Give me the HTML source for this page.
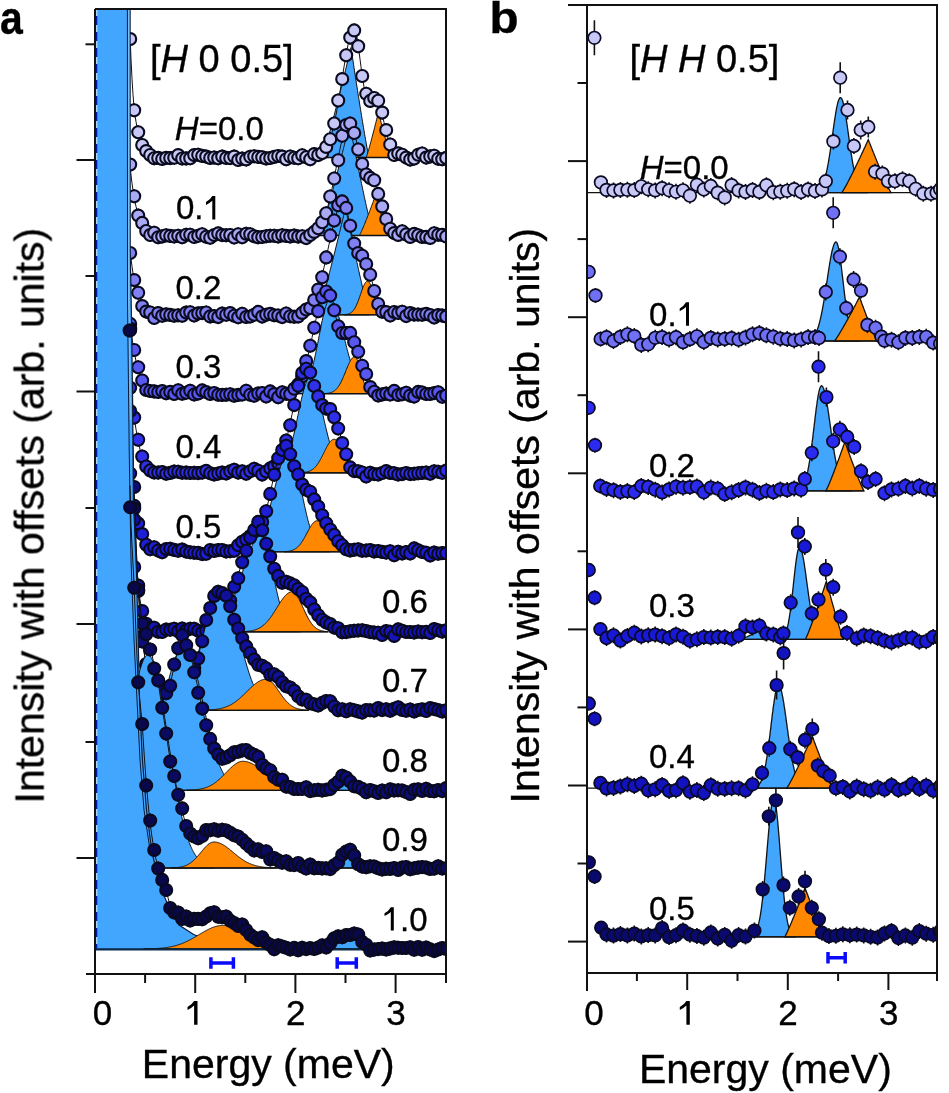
<!DOCTYPE html>
<html><head><meta charset="utf-8"><style>
html,body{margin:0;padding:0;background:#fff;}
body{width:949px;height:1093px;position:relative;overflow:hidden;font-family:"Liberation Sans",sans-serif;color:#000;}
svg{position:absolute;left:0;top:0;}
.t{position:absolute;white-space:nowrap;line-height:1;}
.b{font-weight:bold;}
.rot{transform-origin:0 0;transform:rotate(-90deg);}
</style></head><body>
<svg width="949" height="1093" viewBox="0 0 949 1093">
<defs><clipPath id="ca"><rect x="95" y="9" width="351" height="965"/></clipPath>
<clipPath id="cb"><rect x="587" y="5" width="350" height="968"/></clipPath></defs>
<rect width="949" height="1093" fill="#fff"/>
<g clip-path="url(#ca)">
<path d="M322,157.5 L322,157.5 L322.5,156.2 L323,154.8 L323.5,153.3 L324,151.7 L324.5,150.1 L325,148.4 L325.5,146.8 L326,145.1 L326.5,143.3 L327,141.6 L327.5,139.8 L328,138.1 L328.5,136.3 L329,134.5 L329.5,132.7 L330,130.8 L330.5,129 L331,127.1 L331.5,125.3 L332,123.4 L332.5,121.5 L333,119.6 L333.5,117.7 L334,115.8 L334.5,113.9 L335,112 L335.5,110.1 L336,108.1 L336.5,106.2 L337,104.2 L337.5,102.3 L338,100.3 L338.5,98.3 L339,96.4 L339.5,94.4 L340,92.4 L340.5,90.4 L341,88.4 L341.5,86.4 L342,84.4 L342.5,82.4 L343,80.4 L343.5,78.4 L344,76.3 L344.5,74.3 L345,72.3 L345.5,70.2 L346,68.2 L346.5,66.1 L347,64.1 L347.5,62 L348,60 L348.5,57.9 L349,55.8 L349.5,53.7 L350,51.7 L350.5,49.6 L351,47.5 L351.5,50.9 L352,54.2 L352.5,57.5 L353,60.9 L353.5,64.2 L354,67.5 L354.5,70.8 L355,74.1 L355.5,77.3 L356,80.6 L356.5,83.8 L357,87.1 L357.5,90.3 L358,93.5 L358.5,96.7 L359,99.9 L359.5,103 L360,106.2 L360.5,109.3 L361,112.4 L361.5,115.5 L362,118.6 L362.5,121.6 L363,124.6 L363.5,127.6 L364,130.6 L364.5,133.6 L365,136.5 L365.5,139.3 L366,142.2 L366.5,145 L367,147.7 L367.5,150.4 L368,152.9 L368.5,155.4 L369,157.5 L369,157.5Z" fill="#42a6ff" stroke="#111" stroke-width="1"/>
<path d="M366.2,157.5 L366.2,157.5 L366.7,156.2 L367.2,154.6 L367.7,153 L368.2,151.3 L368.7,149.6 L369.2,147.9 L369.7,146.1 L370.2,144.3 L370.7,142.4 L371.2,140.6 L371.7,138.7 L372.2,136.8 L372.7,134.9 L373.2,133 L373.7,131.1 L374.2,129.2 L374.7,127.2 L375.2,125.2 L375.7,123.3 L376.2,121.3 L376.7,119.3 L377.2,117.3 L377.7,115.2 L378.2,113.2 L378.7,112.8 L379.2,114.8 L379.7,116.8 L380.2,118.8 L380.7,120.8 L381.2,122.8 L381.7,124.7 L382.2,126.7 L382.7,128.6 L383.2,130.6 L383.7,132.5 L384.2,134.4 L384.7,136.3 L385.2,138.1 L385.7,140 L386.2,141.8 L386.7,143.7 L387.2,145.5 L387.7,147.2 L388.2,149 L388.7,150.7 L389.2,152.4 L389.7,154 L390.2,155.6 L390.7,157 L390.9,157.5Z" fill="#ff8800" stroke="#111" stroke-width="1"/>
<path d="M322,157.5H390.9" stroke="#111" stroke-width="1.3"/>
<path d="M130,33.5 L131,58.9 L132,78.8 L133,94.6 L134,107.3 L135,115.4 L136,121.7 L137,127.1 L138,131.7 L139,135.9 L140,139.5 L141,142.5 L142,145.1 L143,147.4 L144,149.4 L145,151 L146,152.3 L147,153.3 L148,154.2 L149,154.9 L150,155.4 L151,155.8 L152,156.1 L153,156.4 L154,156.6 L155,156.7 L156,156.9 L157,157 L158,157.1 L159,157.2 L160,157.2 L161,157.3 L162,157.3 L163,157.3 L164,157.4 L165,157.4 L166,157.4 L167,157.4 L168,157.4 L169,157.5 L170,157.5 L171,157.5 L172,157.5 L173,157.5 L174,157.5 L175,157.5 L176,157.5 L177,157.5 L178,157.5 L179,157.5 L180,157.5 L181,157.5 L182,157.5 L183,157.5 L184,157.5 L185,157.5 L186,157.5 L187,157.5 L188,157.5 L189,157.5 L190,157.5 L191,157.5 L192,157.5 L193,157.5 L194,157.5 L195,157.5 L196,157.5 L197,157.5 L198,157.5 L199,157.5 L200,157.5 L201,157.5 L202,157.5 L203,157.5 L204,157.5 L205,157.5 L206,157.5 L207,157.5 L208,157.5 L209,157.5 L210,157.5 L211,157.5 L212,157.5 L213,157.5 L214,157.5 L215,157.5 L216,157.5 L217,157.5 L218,157.5 L219,157.5 L220,157.5 L221,157.5 L222,157.5 L223,157.5 L224,157.5 L225,157.5 L226,157.5 L227,157.5 L228,157.5 L229,157.5 L230,157.5 L231,157.5 L232,157.5 L233,157.5 L234,157.5 L235,157.5 L236,157.5 L237,157.5 L238,157.5 L239,157.5 L240,157.5 L241,157.5 L242,157.5 L243,157.5 L244,157.5 L245,157.5 L246,157.5 L247,157.5 L248,157.5 L249,157.5 L250,157.5 L251,157.5 L252,157.5 L253,157.5 L254,157.5 L255,157.5 L256,157.5 L257,157.5 L258,157.5 L259,157.5 L260,157.5 L261,157.5 L262,157.5 L263,157.5 L264,157.5 L265,157.5 L266,157.5 L267,157.5 L268,157.5 L269,157.5 L270,157.5 L271,157.5 L272,157.5 L273,157.5 L274,157.5 L275,157.5 L276,157.5 L277,157.5 L278,157.5 L279,157.5 L280,157.5 L281,157.5 L282,157.5 L283,157.5 L284,157.5 L285,157.5 L286,157.5 L287,157.5 L288,157.5 L289,157.5 L290,157.5 L291,157.5 L292,157.5 L293,157.5 L294,157.5 L295,157.5 L296,157.5 L297,157.5 L298,157.5 L299,157.5 L300,157.5 L301,157.5 L302,157.5 L303,157.5 L304,157.5 L305,157.5 L306,157.5 L307,157.4 L308,157.4 L309,157.4 L310,157.3 L311,157.3 L312,157.2 L313,157.1 L314,156.9 L315,156.8 L316,156.6 L317,156.3 L318,155.9 L319,155.5 L320,155 L321,154.3 L322,153.5 L323,152.6 L324,151.4 L325,150.1 L326,148.5 L327,146.6 L328,144.5 L329,142.1 L330,139.3 L331,136.1 L332,132.6 L333,128.7 L334,124.4 L335,119.8 L336,114.8 L337,109.4 L338,103.8 L339,97.9 L340,91.8 L341,85.6 L342,79.3 L343,73.1 L344,66.9 L345,60.9 L346,55.2 L347,49.9 L348,45 L349,40.6 L350,36.7 L351,33.5 L352,31 L353,29.1 L354,28.1 L355,29.3 L356,32.5 L357,37.6 L358,44 L359,51.3 L360,59.1 L361,66.9 L362,74.3 L363,81 L364,86.7 L365,91.4 L366,95 L367,97.5 L368,99.1 L369,99.9 L370,100.2 L371,100 L372,99.6 L373,99.2 L374,98.8 L375,98.7 L376,98.8 L377,99.5 L378,101 L379,103.3 L380,106.2 L381,109.7 L382,113.7 L383,117.9 L384,122.3 L385,126.7 L386,130.9 L387,135 L388,138.7 L389,142 L390,145 L391,147.5 L392,149.7 L393,151.4 L394,152.9 L395,154 L396,155 L397,155.7 L398,156.2 L399,156.6 L400,156.9 L401,157.1 L402,157.2 L403,157.3 L404,157.4 L405,157.4 L406,157.4 L407,157.5 L408,157.5 L409,157.5 L410,157.5 L411,157.5 L412,157.5 L413,157.5 L414,157.5 L415,157.5 L416,157.5 L417,157.5 L418,157.5 L419,157.5 L420,157.5 L421,157.5 L422,157.5 L423,157.5 L424,157.5 L425,157.5 L426,157.5 L427,157.5 L428,157.5 L429,157.5 L430,157.5 L431,157.5 L432,157.5 L433,157.5 L434,157.5 L435,157.5 L436,157.5 L437,157.5 L438,157.5 L439,157.5 L440,157.5 L441,157.5 L442,157.5 L443,157.5 L444,157.5 L445,157.5 L446,157.5" fill="none" stroke="#111" stroke-width="1"/>
<path d="M130.2,32.1v14 M134.2,103.2v14 M138.2,125.2v14 M142.2,138v14 M146.2,144.1v14 M150.2,148v14 M154.2,151.2v14 M158.2,150.9v14 M162.2,151.9v14 M166.2,150.9v14 M170.2,151.1v14 M174.2,150.8v14 M178.2,148.1v14 M182.2,151.5v14 M186.2,151.4v14 M190.2,151.3v14 M194.2,148.1v14 M198.2,147.7v14 M202.2,148.9v14 M206.2,149.6v14 M210.2,150.9v14 M214.2,150.5v14 M218.2,151.3v14 M222.2,149.6v14 M226.2,150.9v14 M230.2,151.1v14 M234.2,149.6v14 M238.2,153v14 M242.2,151.6v14 M246.2,152.4v14 M250.2,149.8v14 M254.2,149.3v14 M258.2,149.9v14 M262.2,150.3v14 M266.2,151.4v14 M270.2,151v14 M274.2,149.9v14 M278.2,149v14 M282.2,149.6v14 M286.2,152.2v14 M290.2,149.5v14 M294.2,150.8v14 M298.2,151.2v14 M302.2,148.3v14 M306.2,150.3v14 M310.2,152.2v14 M314.2,147.1v14 M318.2,148.1v14 M322.2,146.1v14 M326.2,139.9v14 M330.2,132.3v14 M334.2,116.5v14 M338.2,93.5v14 M342.2,72.1v14 M346.2,48.2v14 M350.2,30.6v14 M354.2,23.4v14 M358.2,39.2v14 M362.2,69v14 M366.2,86.7v14 M370.2,93.9v14 M374.2,91v14 M378.2,93.7v14 M382.2,105.6v14 M386.2,123.1v14 M390.2,137.5v14 M394.2,148v14 M398.2,146.4v14 M402.2,147.8v14 M406.2,150.6v14 M410.2,152.6v14 M414.2,151.6v14 M418.2,147.8v14 M422.2,146.5v14 M426.2,150.6v14 M430.2,149.4v14 M434.2,148.7v14 M438.2,151.8v14 M442.2,152.3v14 M446.2,150.9v14" stroke="#0a0a14" stroke-width="1.6"/>
<g fill="rgb(200,200,246)" stroke="#0a0a1e" stroke-width="2.1"><circle cx="130.2" cy="39.1" r="6"/><circle cx="134.2" cy="110.2" r="6"/><circle cx="138.2" cy="132.2" r="6"/><circle cx="142.2" cy="145" r="6"/><circle cx="146.2" cy="151.1" r="6"/><circle cx="150.2" cy="155" r="6"/><circle cx="154.2" cy="158.2" r="6"/><circle cx="158.2" cy="157.9" r="6"/><circle cx="162.2" cy="158.9" r="6"/><circle cx="166.2" cy="157.9" r="6"/><circle cx="170.2" cy="158.1" r="6"/><circle cx="174.2" cy="157.8" r="6"/><circle cx="178.2" cy="155.1" r="6"/><circle cx="182.2" cy="158.5" r="6"/><circle cx="186.2" cy="158.4" r="6"/><circle cx="190.2" cy="158.3" r="6"/><circle cx="194.2" cy="155.1" r="6"/><circle cx="198.2" cy="154.7" r="6"/><circle cx="202.2" cy="155.9" r="6"/><circle cx="206.2" cy="156.6" r="6"/><circle cx="210.2" cy="157.9" r="6"/><circle cx="214.2" cy="157.5" r="6"/><circle cx="218.2" cy="158.3" r="6"/><circle cx="222.2" cy="156.6" r="6"/><circle cx="226.2" cy="157.9" r="6"/><circle cx="230.2" cy="158.1" r="6"/><circle cx="234.2" cy="156.6" r="6"/><circle cx="238.2" cy="160" r="6"/><circle cx="242.2" cy="158.6" r="6"/><circle cx="246.2" cy="159.4" r="6"/><circle cx="250.2" cy="156.8" r="6"/><circle cx="254.2" cy="156.3" r="6"/><circle cx="258.2" cy="156.9" r="6"/><circle cx="262.2" cy="157.3" r="6"/><circle cx="266.2" cy="158.4" r="6"/><circle cx="270.2" cy="158" r="6"/><circle cx="274.2" cy="156.9" r="6"/><circle cx="278.2" cy="156" r="6"/><circle cx="282.2" cy="156.6" r="6"/><circle cx="286.2" cy="159.2" r="6"/><circle cx="290.2" cy="156.5" r="6"/><circle cx="294.2" cy="157.8" r="6"/><circle cx="298.2" cy="158.2" r="6"/><circle cx="302.2" cy="155.3" r="6"/><circle cx="306.2" cy="157.3" r="6"/><circle cx="310.2" cy="159.2" r="6"/><circle cx="314.2" cy="154.1" r="6"/><circle cx="318.2" cy="155.1" r="6"/><circle cx="322.2" cy="153.1" r="6"/><circle cx="326.2" cy="146.9" r="6"/><circle cx="330.2" cy="139.3" r="6"/><circle cx="334.2" cy="123.5" r="6"/><circle cx="338.2" cy="100.5" r="6"/><circle cx="342.2" cy="79.1" r="6"/><circle cx="346.2" cy="55.2" r="6"/><circle cx="350.2" cy="37.6" r="6"/><circle cx="354.2" cy="30.4" r="6"/><circle cx="358.2" cy="46.2" r="6"/><circle cx="362.2" cy="76" r="6"/><circle cx="366.2" cy="93.7" r="6"/><circle cx="370.2" cy="100.9" r="6"/><circle cx="374.2" cy="98" r="6"/><circle cx="378.2" cy="100.7" r="6"/><circle cx="382.2" cy="112.6" r="6"/><circle cx="386.2" cy="130.1" r="6"/><circle cx="390.2" cy="144.5" r="6"/><circle cx="394.2" cy="155" r="6"/><circle cx="398.2" cy="153.4" r="6"/><circle cx="402.2" cy="154.8" r="6"/><circle cx="406.2" cy="157.6" r="6"/><circle cx="410.2" cy="159.6" r="6"/><circle cx="414.2" cy="158.6" r="6"/><circle cx="418.2" cy="154.8" r="6"/><circle cx="422.2" cy="153.5" r="6"/><circle cx="426.2" cy="157.6" r="6"/><circle cx="430.2" cy="156.4" r="6"/><circle cx="434.2" cy="155.7" r="6"/><circle cx="438.2" cy="158.8" r="6"/><circle cx="442.2" cy="159.3" r="6"/><circle cx="446.2" cy="157.9" r="6"/></g>
<path d="M319.5,235.5 L319.5,235.5 L320,234.3 L320.5,232.9 L321,231.4 L321.5,229.8 L322,228.3 L322.5,226.6 L323,225 L323.5,223.3 L324,221.7 L324.5,220 L325,218.2 L325.5,216.5 L326,214.8 L326.5,213 L327,211.2 L327.5,209.4 L328,207.7 L328.5,205.8 L329,204 L329.5,202.2 L330,200.4 L330.5,198.5 L331,196.7 L331.5,194.8 L332,192.9 L332.5,191.1 L333,189.2 L333.5,187.3 L334,185.4 L334.5,183.5 L335,181.6 L335.5,179.7 L336,177.7 L336.5,175.8 L337,173.9 L337.5,171.9 L338,170 L338.5,168 L339,166.1 L339.5,164.1 L340,162.2 L340.5,160.2 L341,158.2 L341.5,156.2 L342,154.2 L342.5,152.3 L343,150.3 L343.5,148.3 L344,146.3 L344.5,144.3 L345,142.3 L345.5,140.2 L346,138.2 L346.5,136.2 L347,134.2 L347.5,132.1 L348,130.1 L348.5,128.1 L349,126 L349.5,124 L350,126.6 L350.5,129.1 L351,131.6 L351.5,134.2 L352,136.7 L352.5,139.2 L353,141.7 L353.5,144.3 L354,146.8 L354.5,149.3 L355,151.8 L355.5,154.2 L356,156.7 L356.5,159.2 L357,161.7 L357.5,164.1 L358,166.6 L358.5,169 L359,171.4 L359.5,173.9 L360,176.3 L360.5,178.7 L361,181.1 L361.5,183.5 L362,185.9 L362.5,188.2 L363,190.6 L363.5,192.9 L364,195.3 L364.5,197.6 L365,199.9 L365.5,202.2 L366,204.5 L366.5,206.7 L367,209 L367.5,211.2 L368,213.4 L368.5,215.6 L369,217.8 L369.5,220 L370,222.1 L370.5,224.2 L371,226.2 L371.5,228.3 L372,230.2 L372.5,232.1 L373,233.9 L373.5,235.5 L373.5,235.5Z" fill="#42a6ff" stroke="#111" stroke-width="1"/>
<path d="M359.4,235.5 L359.4,235.5 L359.9,234.6 L360.4,233.6 L360.9,232.6 L361.4,231.5 L361.9,230.3 L362.4,229.2 L362.9,228 L363.4,226.9 L363.9,225.7 L364.4,224.5 L364.9,223.2 L365.4,222 L365.9,220.8 L366.4,219.5 L366.9,218.2 L367.4,217 L367.9,215.7 L368.4,214.4 L368.9,213.1 L369.4,211.8 L369.9,210.5 L370.4,209.2 L370.9,207.9 L371.4,206.6 L371.9,205.2 L372.4,203.9 L372.9,202.6 L373.4,201.2 L373.9,199.9 L374.4,198.5 L374.9,197.2 L375.4,195.8 L375.9,197.4 L376.4,199 L376.9,200.6 L377.4,202.2 L377.9,203.7 L378.4,205.3 L378.9,206.9 L379.4,208.4 L379.9,210 L380.4,211.5 L380.9,213 L381.4,214.6 L381.9,216.1 L382.4,217.6 L382.9,219.1 L383.4,220.5 L383.9,222 L384.4,223.5 L384.9,224.9 L385.4,226.3 L385.9,227.7 L386.4,229.1 L386.9,230.4 L387.4,231.7 L387.9,233 L388.4,234.2 L388.9,235.3 L389,235.5Z" fill="#ff8800" stroke="#111" stroke-width="1"/>
<path d="M319.5,235.5H389" stroke="#111" stroke-width="1.3"/>
<path d="M130,164 L131,175 L132,183.2 L133,190.3 L134,196.4 L135,201.8 L136,206.4 L137,210.4 L138,213.9 L139,217.4 L140,220.5 L141,223 L142,225.1 L143,227.2 L144,228.9 L145,230.2 L146,231.3 L147,232 L148,232.6 L149,233 L150,233.4 L151,233.8 L152,234.1 L153,234.4 L154,234.6 L155,234.7 L156,234.9 L157,235 L158,235.1 L159,235.2 L160,235.2 L161,235.3 L162,235.3 L163,235.3 L164,235.4 L165,235.4 L166,235.4 L167,235.4 L168,235.4 L169,235.5 L170,235.5 L171,235.5 L172,235.5 L173,235.5 L174,235.5 L175,235.5 L176,235.5 L177,235.5 L178,235.5 L179,235.5 L180,235.5 L181,235.5 L182,235.5 L183,235.5 L184,235.5 L185,235.5 L186,235.5 L187,235.5 L188,235.5 L189,235.5 L190,235.5 L191,235.5 L192,235.5 L193,235.5 L194,235.5 L195,235.5 L196,235.5 L197,235.5 L198,235.5 L199,235.5 L200,235.5 L201,235.5 L202,235.5 L203,235.5 L204,235.5 L205,235.5 L206,235.5 L207,235.5 L208,235.5 L209,235.5 L210,235.5 L211,235.5 L212,235.5 L213,235.5 L214,235.5 L215,235.5 L216,235.5 L217,235.5 L218,235.5 L219,235.5 L220,235.5 L221,235.5 L222,235.5 L223,235.5 L224,235.5 L225,235.5 L226,235.5 L227,235.5 L228,235.5 L229,235.5 L230,235.5 L231,235.5 L232,235.5 L233,235.5 L234,235.5 L235,235.5 L236,235.5 L237,235.5 L238,235.5 L239,235.5 L240,235.5 L241,235.5 L242,235.5 L243,235.5 L244,235.5 L245,235.5 L246,235.5 L247,235.5 L248,235.5 L249,235.5 L250,235.5 L251,235.5 L252,235.5 L253,235.5 L254,235.5 L255,235.5 L256,235.5 L257,235.5 L258,235.5 L259,235.5 L260,235.5 L261,235.5 L262,235.5 L263,235.5 L264,235.5 L265,235.5 L266,235.5 L267,235.5 L268,235.5 L269,235.5 L270,235.5 L271,235.5 L272,235.5 L273,235.5 L274,235.5 L275,235.5 L276,235.5 L277,235.5 L278,235.5 L279,235.5 L280,235.5 L281,235.5 L282,235.5 L283,235.5 L284,235.5 L285,235.5 L286,235.5 L287,235.5 L288,235.5 L289,235.5 L290,235.5 L291,235.5 L292,235.5 L293,235.5 L294,235.5 L295,235.5 L296,235.5 L297,235.5 L298,235.4 L299,235.4 L300,235.4 L301,235.4 L302,235.3 L303,235.3 L304,235.2 L305,235.1 L306,235 L307,234.9 L308,234.7 L309,234.5 L310,234.3 L311,234 L312,233.6 L313,233.1 L314,232.6 L315,231.9 L316,231.1 L317,230.2 L318,229.1 L319,227.8 L320,226.4 L321,224.7 L322,222.8 L323,220.6 L324,218.2 L325,215.5 L326,212.5 L327,209.2 L328,205.7 L329,201.8 L330,197.7 L331,193.3 L332,188.7 L333,183.9 L334,179 L335,173.9 L336,168.7 L337,163.6 L338,158.5 L339,153.6 L340,148.8 L341,144.3 L342,140 L343,136.2 L344,132.8 L345,129.8 L346,127.4 L347,125.5 L348,124.1 L349,123.3 L350,123.2 L351,124.1 L352,125.9 L353,128.4 L354,131.7 L355,135.4 L356,139.5 L357,143.8 L358,148.2 L359,152.5 L360,156.7 L361,160.5 L362,163.9 L363,166.9 L364,169.5 L365,171.6 L366,173.3 L367,174.6 L368,175.6 L369,176.5 L370,177.2 L371,177.9 L372,178.7 L373,179.6 L374,180.7 L375,182.1 L376,184.2 L377,186.7 L378,189.7 L379,193.1 L380,196.9 L381,200.7 L382,204.7 L383,208.6 L384,212.4 L385,215.9 L386,219.2 L387,222.1 L388,224.6 L389,226.8 L390,228.7 L391,230.3 L392,231.5 L393,232.5 L394,233.3 L395,233.9 L396,234.4 L397,234.7 L398,234.9 L399,235.1 L400,235.2 L401,235.3 L402,235.4 L403,235.4 L404,235.5 L405,235.5 L406,235.5 L407,235.5 L408,235.5 L409,235.5 L410,235.5 L411,235.5 L412,235.5 L413,235.5 L414,235.5 L415,235.5 L416,235.5 L417,235.5 L418,235.5 L419,235.5 L420,235.5 L421,235.5 L422,235.5 L423,235.5 L424,235.5 L425,235.5 L426,235.5 L427,235.5 L428,235.5 L429,235.5 L430,235.5 L431,235.5 L432,235.5 L433,235.5 L434,235.5 L435,235.5 L436,235.5 L437,235.5 L438,235.5 L439,235.5 L440,235.5 L441,235.5 L442,235.5 L443,235.5 L444,235.5 L445,235.5 L446,235.5" fill="none" stroke="#111" stroke-width="1"/>
<path d="M130.2,157.6v14 M134.2,189.3v14 M138.2,208.6v14 M142.2,215.9v14 M146.2,224v14 M150.2,228v14 M154.2,225.8v14 M158.2,230.3v14 M162.2,229.4v14 M166.2,228.3v14 M170.2,228.9v14 M174.2,229.5v14 M178.2,228.8v14 M182.2,230.2v14 M186.2,227.7v14 M190.2,227.8v14 M194.2,230v14 M198.2,228.7v14 M202.2,227.2v14 M206.2,229.8v14 M210.2,230.8v14 M214.2,228.1v14 M218.2,226.4v14 M222.2,228.1v14 M226.2,228.2v14 M230.2,228v14 M234.2,230.5v14 M238.2,227.2v14 M242.2,230.2v14 M246.2,226.8v14 M250.2,227.2v14 M254.2,229.3v14 M258.2,230.3v14 M262.2,230v14 M266.2,229.2v14 M270.2,228.8v14 M274.2,228.8v14 M278.2,229.4v14 M282.2,228.3v14 M286.2,228.9v14 M290.2,229.4v14 M294.2,228.6v14 M298.2,229.6v14 M302.2,229.3v14 M306.2,231.1v14 M310.2,228v14 M314.2,224.9v14 M318.2,221.2v14 M322.2,215.3v14 M326.2,206.2v14 M330.2,189.5v14 M334.2,171.5v14 M338.2,153.3v14 M342.2,128.7v14 M346.2,118v14 M350.2,116.5v14 M354.2,126v14 M358.2,142.5v14 M362.2,156.9v14 M366.2,167.5v14 M370.2,170.9v14 M374.2,173.2v14 M378.2,186.9v14 M382.2,199.4v14 M386.2,212v14 M390.2,221.8v14 M394.2,226.1v14 M398.2,227.9v14 M402.2,224.3v14 M406.2,227.4v14 M410.2,229.9v14 M414.2,226.9v14 M418.2,228.2v14 M422.2,229.9v14 M426.2,229.9v14 M430.2,230.9v14 M434.2,226.2v14 M438.2,227.7v14 M442.2,227.9v14 M446.2,229.4v14" stroke="#0a0a14" stroke-width="1.6"/>
<g fill="rgb(170,170,244)" stroke="#0a0a1e" stroke-width="2.1"><circle cx="130.2" cy="164.6" r="6"/><circle cx="134.2" cy="196.3" r="6"/><circle cx="138.2" cy="215.6" r="6"/><circle cx="142.2" cy="222.9" r="6"/><circle cx="146.2" cy="231" r="6"/><circle cx="150.2" cy="235" r="6"/><circle cx="154.2" cy="232.8" r="6"/><circle cx="158.2" cy="237.3" r="6"/><circle cx="162.2" cy="236.4" r="6"/><circle cx="166.2" cy="235.3" r="6"/><circle cx="170.2" cy="235.9" r="6"/><circle cx="174.2" cy="236.5" r="6"/><circle cx="178.2" cy="235.8" r="6"/><circle cx="182.2" cy="237.2" r="6"/><circle cx="186.2" cy="234.7" r="6"/><circle cx="190.2" cy="234.8" r="6"/><circle cx="194.2" cy="237" r="6"/><circle cx="198.2" cy="235.7" r="6"/><circle cx="202.2" cy="234.2" r="6"/><circle cx="206.2" cy="236.8" r="6"/><circle cx="210.2" cy="237.8" r="6"/><circle cx="214.2" cy="235.1" r="6"/><circle cx="218.2" cy="233.4" r="6"/><circle cx="222.2" cy="235.1" r="6"/><circle cx="226.2" cy="235.2" r="6"/><circle cx="230.2" cy="235" r="6"/><circle cx="234.2" cy="237.5" r="6"/><circle cx="238.2" cy="234.2" r="6"/><circle cx="242.2" cy="237.2" r="6"/><circle cx="246.2" cy="233.8" r="6"/><circle cx="250.2" cy="234.2" r="6"/><circle cx="254.2" cy="236.3" r="6"/><circle cx="258.2" cy="237.3" r="6"/><circle cx="262.2" cy="237" r="6"/><circle cx="266.2" cy="236.2" r="6"/><circle cx="270.2" cy="235.8" r="6"/><circle cx="274.2" cy="235.8" r="6"/><circle cx="278.2" cy="236.4" r="6"/><circle cx="282.2" cy="235.3" r="6"/><circle cx="286.2" cy="235.9" r="6"/><circle cx="290.2" cy="236.4" r="6"/><circle cx="294.2" cy="235.6" r="6"/><circle cx="298.2" cy="236.6" r="6"/><circle cx="302.2" cy="236.3" r="6"/><circle cx="306.2" cy="238.1" r="6"/><circle cx="310.2" cy="235" r="6"/><circle cx="314.2" cy="231.9" r="6"/><circle cx="318.2" cy="228.2" r="6"/><circle cx="322.2" cy="222.3" r="6"/><circle cx="326.2" cy="213.2" r="6"/><circle cx="330.2" cy="196.5" r="6"/><circle cx="334.2" cy="178.5" r="6"/><circle cx="338.2" cy="160.3" r="6"/><circle cx="342.2" cy="135.7" r="6"/><circle cx="346.2" cy="125" r="6"/><circle cx="350.2" cy="123.5" r="6"/><circle cx="354.2" cy="133" r="6"/><circle cx="358.2" cy="149.5" r="6"/><circle cx="362.2" cy="163.9" r="6"/><circle cx="366.2" cy="174.5" r="6"/><circle cx="370.2" cy="177.9" r="6"/><circle cx="374.2" cy="180.2" r="6"/><circle cx="378.2" cy="193.9" r="6"/><circle cx="382.2" cy="206.4" r="6"/><circle cx="386.2" cy="219" r="6"/><circle cx="390.2" cy="228.8" r="6"/><circle cx="394.2" cy="233.1" r="6"/><circle cx="398.2" cy="234.9" r="6"/><circle cx="402.2" cy="231.3" r="6"/><circle cx="406.2" cy="234.4" r="6"/><circle cx="410.2" cy="236.9" r="6"/><circle cx="414.2" cy="233.9" r="6"/><circle cx="418.2" cy="235.2" r="6"/><circle cx="422.2" cy="236.9" r="6"/><circle cx="426.2" cy="236.9" r="6"/><circle cx="430.2" cy="237.9" r="6"/><circle cx="434.2" cy="233.2" r="6"/><circle cx="438.2" cy="234.7" r="6"/><circle cx="442.2" cy="234.9" r="6"/><circle cx="446.2" cy="236.4" r="6"/></g>
<path d="M317.5,314.8 L317.5,314.8 L318,313.5 L318.5,312.1 L319,310.5 L319.5,308.9 L320,307.3 L320.5,305.6 L321,303.9 L321.5,302.2 L322,300.5 L322.5,298.7 L323,296.9 L323.5,295.1 L324,293.3 L324.5,291.5 L325,289.7 L325.5,287.8 L326,286 L326.5,284.1 L327,282.2 L327.5,280.3 L328,278.4 L328.5,276.5 L329,274.6 L329.5,272.7 L330,270.7 L330.5,268.8 L331,266.8 L331.5,264.9 L332,262.9 L332.5,260.9 L333,259 L333.5,257 L334,255 L334.5,253 L335,251 L335.5,249 L336,247 L336.5,245 L337,242.9 L337.5,240.9 L338,238.9 L338.5,236.8 L339,234.8 L339.5,232.7 L340,230.7 L340.5,228.6 L341,226.6 L341.5,224.5 L342,222.4 L342.5,220.3 L343,218.3 L343.5,216.2 L344,214.1 L344.5,212 L345,209.9 L345.5,207.8 L346,210.2 L346.5,212.7 L347,215.1 L347.5,217.6 L348,220 L348.5,222.4 L349,224.8 L349.5,227.2 L350,229.6 L350.5,232 L351,234.4 L351.5,236.8 L352,239.2 L352.5,241.6 L353,243.9 L353.5,246.3 L354,248.7 L354.5,251 L355,253.3 L355.5,255.7 L356,258 L356.5,260.3 L357,262.6 L357.5,264.9 L358,267.2 L358.5,269.4 L359,271.7 L359.5,274 L360,276.2 L360.5,278.4 L361,280.6 L361.5,282.8 L362,285 L362.5,287.2 L363,289.4 L363.5,291.5 L364,293.6 L364.5,295.7 L365,297.8 L365.5,299.9 L366,301.9 L366.5,303.9 L367,305.9 L367.5,307.8 L368,309.7 L368.5,311.6 L369,313.3 L369.5,314.8 L369.5,314.8Z" fill="#42a6ff" stroke="#111" stroke-width="1"/>
<path d="M344.4,314.8 L344.4,314.7 L344.9,314.6 L345.4,314.6 L345.9,314.5 L346.4,314.4 L346.9,314.4 L347.4,314.3 L347.9,314.1 L348.4,314 L348.9,313.8 L349.4,313.6 L349.9,313.4 L350.4,313.1 L350.9,312.8 L351.4,312.4 L351.9,312 L352.4,311.5 L352.9,311 L353.4,310.4 L353.9,309.7 L354.4,309 L354.9,308.2 L355.4,307.3 L355.9,306.3 L356.4,305.2 L356.9,304.1 L357.4,302.9 L357.9,301.7 L358.4,300.4 L358.9,299 L359.4,297.6 L359.9,296.2 L360.4,294.7 L360.9,293.3 L361.4,291.8 L361.9,290.4 L362.4,289 L362.9,287.7 L363.4,286.5 L363.9,285.4 L364.4,284.3 L364.9,283.4 L365.4,282.7 L365.9,282.1 L366.4,281.6 L366.9,281.3 L367.4,281.2 L367.9,281.3 L368.4,281.5 L368.9,282 L369.4,282.6 L369.9,283.4 L370.4,284.4 L370.9,285.5 L371.4,286.7 L371.9,288.1 L372.4,289.5 L372.9,291 L373.4,292.5 L373.9,294.1 L374.4,295.7 L374.9,297.2 L375.4,298.7 L375.9,300.2 L376.4,301.6 L376.9,303 L377.4,304.3 L377.9,305.5 L378.4,306.6 L378.9,307.6 L379.4,308.5 L379.9,309.4 L380.4,310.1 L380.9,310.8 L381.4,311.4 L381.9,311.9 L382.4,312.4 L382.9,312.8 L383.4,313.1 L383.9,313.4 L384.4,313.7 L384.9,313.9 L385.4,314 L385.9,314.2 L386.4,314.3 L386.9,314.4 L387.4,314.5 L387.9,314.6 L388.4,314.6 L388.9,314.7 L388.9,314.8Z" fill="#ff8800" stroke="#111" stroke-width="1"/>
<path d="M317.5,314.8H388.9" stroke="#111" stroke-width="1.3"/>
<path d="M130,248.6 L131,258.8 L132,266.4 L133,273.1 L134,278.8 L135,282.9 L136,286.4 L137,289.5 L138,292.3 L139,295.6 L140,298.7 L141,301.3 L142,303.4 L143,305.4 L144,307.1 L145,308.5 L146,309.6 L147,310.6 L148,311.5 L149,312.2 L150,312.7 L151,313.1 L152,313.4 L153,313.7 L154,313.9 L155,314 L156,314.2 L157,314.3 L158,314.4 L159,314.5 L160,314.5 L161,314.6 L162,314.6 L163,314.6 L164,314.7 L165,314.7 L166,314.7 L167,314.7 L168,314.7 L169,314.8 L170,314.8 L171,314.8 L172,314.8 L173,314.8 L174,314.8 L175,314.8 L176,314.8 L177,314.8 L178,314.8 L179,314.8 L180,314.8 L181,314.8 L182,314.8 L183,314.8 L184,314.8 L185,314.8 L186,314.8 L187,314.8 L188,314.8 L189,314.8 L190,314.8 L191,314.8 L192,314.8 L193,314.8 L194,314.8 L195,314.8 L196,314.8 L197,314.8 L198,314.8 L199,314.8 L200,314.8 L201,314.8 L202,314.8 L203,314.8 L204,314.8 L205,314.8 L206,314.8 L207,314.8 L208,314.8 L209,314.8 L210,314.8 L211,314.8 L212,314.8 L213,314.8 L214,314.8 L215,314.8 L216,314.8 L217,314.8 L218,314.8 L219,314.8 L220,314.8 L221,314.8 L222,314.8 L223,314.8 L224,314.8 L225,314.8 L226,314.8 L227,314.8 L228,314.8 L229,314.8 L230,314.8 L231,314.8 L232,314.8 L233,314.8 L234,314.8 L235,314.8 L236,314.8 L237,314.8 L238,314.8 L239,314.8 L240,314.8 L241,314.8 L242,314.8 L243,314.8 L244,314.8 L245,314.8 L246,314.8 L247,314.8 L248,314.8 L249,314.8 L250,314.8 L251,314.8 L252,314.8 L253,314.8 L254,314.8 L255,314.8 L256,314.8 L257,314.8 L258,314.8 L259,314.8 L260,314.8 L261,314.8 L262,314.8 L263,314.8 L264,314.8 L265,314.8 L266,314.8 L267,314.8 L268,314.8 L269,314.8 L270,314.8 L271,314.8 L272,314.8 L273,314.8 L274,314.8 L275,314.8 L276,314.8 L277,314.8 L278,314.8 L279,314.8 L280,314.8 L281,314.8 L282,314.8 L283,314.8 L284,314.8 L285,314.8 L286,314.8 L287,314.8 L288,314.7 L289,314.7 L290,314.7 L291,314.7 L292,314.6 L293,314.6 L294,314.5 L295,314.4 L296,314.3 L297,314.2 L298,314 L299,313.8 L300,313.6 L301,313.3 L302,313 L303,312.6 L304,312.1 L305,311.5 L306,310.8 L307,310.1 L308,309.1 L309,308.1 L310,306.9 L311,305.5 L312,303.9 L313,302.2 L314,300.2 L315,298 L316,295.5 L317,292.9 L318,290 L319,286.8 L320,283.4 L321,279.7 L322,275.9 L323,271.8 L324,267.5 L325,263.1 L326,258.5 L327,253.9 L328,249.2 L329,244.5 L330,239.8 L331,235.2 L332,230.7 L333,226.4 L334,222.2 L335,218.4 L336,214.8 L337,211.6 L338,208.7 L339,206.2 L340,204 L341,202.2 L342,200.7 L343,200.2 L344,201.1 L345,203.2 L346,206.5 L347,210.7 L348,215.4 L349,220.5 L350,225.7 L351,230.7 L352,235.3 L353,239.5 L354,243.1 L355,246 L356,248.4 L357,250.2 L358,251.6 L359,252.7 L360,253.6 L361,254.5 L362,255.3 L363,256.4 L364,257.7 L365,259.4 L366,261.6 L367,264.2 L368,267.1 L369,270.4 L370,273.9 L371,277.6 L372,281.3 L373,285.1 L374,288.7 L375,292.2 L376,295.4 L377,298.4 L378,301.1 L379,303.5 L380,305.6 L381,307.4 L382,308.9 L383,310.1 L384,311.2 L385,312 L386,312.7 L387,313.2 L388,313.6 L389,314 L390,314.2 L391,314.4 L392,314.5 L393,314.6 L394,314.7 L395,314.7 L396,314.7 L397,314.8 L398,314.8 L399,314.8 L400,314.8 L401,314.8 L402,314.8 L403,314.8 L404,314.8 L405,314.8 L406,314.8 L407,314.8 L408,314.8 L409,314.8 L410,314.8 L411,314.8 L412,314.8 L413,314.8 L414,314.8 L415,314.8 L416,314.8 L417,314.8 L418,314.8 L419,314.8 L420,314.8 L421,314.8 L422,314.8 L423,314.8 L424,314.8 L425,314.8 L426,314.8 L427,314.8 L428,314.8 L429,314.8 L430,314.8 L431,314.8 L432,314.8 L433,314.8 L434,314.8 L435,314.8 L436,314.8 L437,314.8 L438,314.8 L439,314.8 L440,314.8 L441,314.8 L442,314.8 L443,314.8 L444,314.8 L445,314.8 L446,314.8" fill="none" stroke="#111" stroke-width="1"/>
<path d="M130.2,246v14 M134.2,273.1v14 M138.2,285.7v14 M142.2,299.1v14 M146.2,304.6v14 M150.2,305.5v14 M154.2,311v14 M158.2,306.1v14 M162.2,308.8v14 M166.2,307.4v14 M170.2,307.9v14 M174.2,308.8v14 M178.2,308.2v14 M182.2,308.8v14 M186.2,305.6v14 M190.2,305.3v14 M194.2,308.5v14 M198.2,306.4v14 M202.2,306.1v14 M206.2,305.5v14 M210.2,309.4v14 M214.2,309.1v14 M218.2,310.1v14 M222.2,306.6v14 M226.2,307.7v14 M230.2,306.1v14 M234.2,308.8v14 M238.2,310.3v14 M242.2,306.7v14 M246.2,310v14 M250.2,309.5v14 M254.2,307.7v14 M258.2,304.9v14 M262.2,309.6v14 M266.2,307.8v14 M270.2,306.9v14 M274.2,308.3v14 M278.2,308.5v14 M282.2,310.1v14 M286.2,306.5v14 M290.2,309.2v14 M294.2,309.8v14 M298.2,309.4v14 M302.2,305.9v14 M306.2,302.6v14 M310.2,301v14 M314.2,293.1v14 M318.2,282.6v14 M322.2,270.2v14 M326.2,250.4v14 M330.2,228.4v14 M334.2,213.5v14 M338.2,198.3v14 M342.2,194.4v14 M346.2,200.9v14 M350.2,218.8v14 M354.2,236.6v14 M358.2,246.1v14 M362.2,248.8v14 M366.2,257.1v14 M370.2,267.8v14 M374.2,284v14 M378.2,297v14 M382.2,304.8v14 M386.2,305.1v14 M390.2,308.5v14 M394.2,305v14 M398.2,305.9v14 M402.2,304.7v14 M406.2,309.1v14 M410.2,306.1v14 M414.2,307.6v14 M418.2,307.5v14 M422.2,307.7v14 M426.2,306.9v14 M430.2,308.1v14 M434.2,310.5v14 M438.2,308.1v14 M442.2,308.6v14 M446.2,309.4v14" stroke="#0a0a14" stroke-width="1.6"/>
<g fill="rgb(128,128,242)" stroke="#0a0a1e" stroke-width="2.1"><circle cx="130.2" cy="253" r="6"/><circle cx="134.2" cy="280.1" r="6"/><circle cx="138.2" cy="292.7" r="6"/><circle cx="142.2" cy="306.1" r="6"/><circle cx="146.2" cy="311.6" r="6"/><circle cx="150.2" cy="312.5" r="6"/><circle cx="154.2" cy="318" r="6"/><circle cx="158.2" cy="313.1" r="6"/><circle cx="162.2" cy="315.8" r="6"/><circle cx="166.2" cy="314.4" r="6"/><circle cx="170.2" cy="314.9" r="6"/><circle cx="174.2" cy="315.8" r="6"/><circle cx="178.2" cy="315.2" r="6"/><circle cx="182.2" cy="315.8" r="6"/><circle cx="186.2" cy="312.6" r="6"/><circle cx="190.2" cy="312.3" r="6"/><circle cx="194.2" cy="315.5" r="6"/><circle cx="198.2" cy="313.4" r="6"/><circle cx="202.2" cy="313.1" r="6"/><circle cx="206.2" cy="312.5" r="6"/><circle cx="210.2" cy="316.4" r="6"/><circle cx="214.2" cy="316.1" r="6"/><circle cx="218.2" cy="317.1" r="6"/><circle cx="222.2" cy="313.6" r="6"/><circle cx="226.2" cy="314.7" r="6"/><circle cx="230.2" cy="313.1" r="6"/><circle cx="234.2" cy="315.8" r="6"/><circle cx="238.2" cy="317.3" r="6"/><circle cx="242.2" cy="313.7" r="6"/><circle cx="246.2" cy="317" r="6"/><circle cx="250.2" cy="316.5" r="6"/><circle cx="254.2" cy="314.7" r="6"/><circle cx="258.2" cy="311.9" r="6"/><circle cx="262.2" cy="316.6" r="6"/><circle cx="266.2" cy="314.8" r="6"/><circle cx="270.2" cy="313.9" r="6"/><circle cx="274.2" cy="315.3" r="6"/><circle cx="278.2" cy="315.5" r="6"/><circle cx="282.2" cy="317.1" r="6"/><circle cx="286.2" cy="313.5" r="6"/><circle cx="290.2" cy="316.2" r="6"/><circle cx="294.2" cy="316.8" r="6"/><circle cx="298.2" cy="316.4" r="6"/><circle cx="302.2" cy="312.9" r="6"/><circle cx="306.2" cy="309.6" r="6"/><circle cx="310.2" cy="308" r="6"/><circle cx="314.2" cy="300.1" r="6"/><circle cx="318.2" cy="289.6" r="6"/><circle cx="322.2" cy="277.2" r="6"/><circle cx="326.2" cy="257.4" r="6"/><circle cx="330.2" cy="235.4" r="6"/><circle cx="334.2" cy="220.5" r="6"/><circle cx="338.2" cy="205.3" r="6"/><circle cx="342.2" cy="201.4" r="6"/><circle cx="346.2" cy="207.9" r="6"/><circle cx="350.2" cy="225.8" r="6"/><circle cx="354.2" cy="243.6" r="6"/><circle cx="358.2" cy="253.1" r="6"/><circle cx="362.2" cy="255.8" r="6"/><circle cx="366.2" cy="264.1" r="6"/><circle cx="370.2" cy="274.8" r="6"/><circle cx="374.2" cy="291" r="6"/><circle cx="378.2" cy="304" r="6"/><circle cx="382.2" cy="311.8" r="6"/><circle cx="386.2" cy="312.1" r="6"/><circle cx="390.2" cy="315.5" r="6"/><circle cx="394.2" cy="312" r="6"/><circle cx="398.2" cy="312.9" r="6"/><circle cx="402.2" cy="311.7" r="6"/><circle cx="406.2" cy="316.1" r="6"/><circle cx="410.2" cy="313.1" r="6"/><circle cx="414.2" cy="314.6" r="6"/><circle cx="418.2" cy="314.5" r="6"/><circle cx="422.2" cy="314.7" r="6"/><circle cx="426.2" cy="313.9" r="6"/><circle cx="430.2" cy="315.1" r="6"/><circle cx="434.2" cy="317.5" r="6"/><circle cx="438.2" cy="315.1" r="6"/><circle cx="442.2" cy="315.6" r="6"/><circle cx="446.2" cy="316.4" r="6"/></g>
<path d="M293.7,393.7 L293.7,393.3 L294.2,393.2 L294.7,393.2 L295.2,393.1 L295.7,393 L296.2,392.9 L296.7,392.7 L297.2,392.6 L297.7,392.4 L298.2,392.3 L298.7,392.1 L299.2,391.8 L299.7,391.6 L300.2,391.3 L300.7,391 L301.2,390.6 L301.7,390.3 L302.2,389.8 L302.7,389.4 L303.2,388.9 L303.7,388.3 L304.2,387.7 L304.7,387 L305.2,386.3 L305.7,385.5 L306.2,384.7 L306.7,383.7 L307.2,382.7 L307.7,381.7 L308.2,380.5 L308.7,379.3 L309.2,378 L309.7,376.6 L310.2,375.1 L310.7,373.5 L311.2,371.9 L311.7,370.1 L312.2,368.3 L312.7,366.4 L313.2,364.4 L313.7,362.3 L314.2,360.2 L314.7,358 L315.2,355.7 L315.7,353.3 L316.2,350.9 L316.7,348.4 L317.2,345.9 L317.7,343.4 L318.2,340.8 L318.7,338.2 L319.2,335.6 L319.7,333.1 L320.2,330.5 L320.7,327.9 L321.2,325.4 L321.7,323 L322.2,320.6 L322.7,318.3 L323.2,316 L323.7,313.9 L324.2,311.9 L324.7,310 L325.2,308.2 L325.7,306.6 L326.2,305.1 L326.7,303.8 L327.2,302.7 L327.7,301.7 L328.2,301 L328.7,300.4 L329.2,299.9 L329.7,299.7 L330.2,299.7 L330.7,299.8 L331.2,300 L331.7,300.4 L332.2,300.9 L332.7,301.4 L333.2,302.1 L333.7,302.9 L334.2,303.8 L334.7,304.9 L335.2,306 L335.7,307.2 L336.2,308.5 L336.7,309.9 L337.2,311.3 L337.7,312.9 L338.2,314.5 L338.7,316.2 L339.2,318 L339.7,319.8 L340.2,321.6 L340.7,323.5 L341.2,325.4 L341.7,327.4 L342.2,329.4 L342.7,331.4 L343.2,333.4 L343.7,335.5 L344.2,337.5 L344.7,339.5 L345.2,341.6 L345.7,343.6 L346.2,345.6 L346.7,347.6 L347.2,349.5 L347.7,351.4 L348.2,353.3 L348.7,355.2 L349.2,357 L349.7,358.8 L350.2,360.5 L350.7,362.2 L351.2,363.8 L351.7,365.4 L352.2,367 L352.7,368.5 L353.2,369.9 L353.7,371.3 L354.2,372.6 L354.7,373.9 L355.2,375.1 L355.7,376.3 L356.2,377.4 L356.7,378.4 L357.2,379.5 L357.7,380.4 L358.2,381.3 L358.7,382.2 L359.2,383 L359.7,383.8 L360.2,384.5 L360.7,385.2 L361.2,385.9 L361.7,386.5 L362.2,387 L362.7,387.6 L363.2,388.1 L363.7,388.5 L364.2,388.9 L364.7,389.3 L365.2,389.7 L365.7,390.1 L366.2,390.4 L366.7,390.7 L367.2,390.9 L367.7,391.2 L368.2,391.4 L368.7,391.6 L369.2,391.8 L369.7,392 L370.2,392.2 L370.7,392.3 L371.2,392.5 L371.7,392.6 L372.2,392.7 L372.7,392.8 L373.2,392.9 L373.7,393 L374.2,393.1 L374.7,393.1 L375.2,393.2 L375.7,393.2 L376.2,393.3 L376.2,393.7Z" fill="#42a6ff" stroke="#111" stroke-width="1"/>
<path d="M325,393.7 L325,393.5 L325.5,393.5 L326,393.5 L326.5,393.4 L327,393.4 L327.5,393.3 L328,393.2 L328.5,393.2 L329,393.1 L329.5,393 L330,392.8 L330.5,392.7 L331,392.5 L331.5,392.4 L332,392.2 L332.5,391.9 L333,391.7 L333.5,391.4 L334,391.1 L334.5,390.7 L335,390.3 L335.5,389.9 L336,389.4 L336.5,388.9 L337,388.4 L337.5,387.7 L338,387.1 L338.5,386.4 L339,385.6 L339.5,384.8 L340,384 L340.5,383 L341,382.1 L341.5,381.1 L342,380 L342.5,378.9 L343,377.8 L343.5,376.6 L344,375.4 L344.5,374.2 L345,373 L345.5,371.8 L346,370.5 L346.5,369.3 L347,368 L347.5,366.8 L348,365.7 L348.5,364.5 L349,363.4 L349.5,362.4 L350,361.4 L350.5,360.5 L351,359.7 L351.5,359 L352,358.3 L352.5,357.8 L353,357.4 L353.5,357 L354,356.8 L354.5,356.7 L355,356.7 L355.5,357 L356,357.6 L356.5,358.3 L357,359.3 L357.5,360.5 L358,361.9 L358.5,363.4 L359,365.1 L359.5,366.8 L360,368.7 L360.5,370.5 L361,372.4 L361.5,374.2 L362,376 L362.5,377.8 L363,379.5 L363.5,381.1 L364,382.6 L364.5,384 L365,385.2 L365.5,386.4 L366,387.4 L366.5,388.4 L367,389.2 L367.5,389.9 L368,390.5 L368.5,391.1 L369,391.5 L369.5,391.9 L370,392.3 L370.5,392.5 L371,392.8 L371.5,393 L372,393.1 L372.5,393.2 L373,393.3 L373.5,393.4 L374,393.5 L374.5,393.5 L374.5,393.7Z" fill="#ff8800" stroke="#111" stroke-width="1"/>
<path d="M293.7,393.7H376.2" stroke="#111" stroke-width="1.3"/>
<path d="M130,320.1 L131,330.5 L132,338.1 L133,344.7 L134,350.6 L135,356.1 L136,361.1 L137,365.3 L138,369 L139,372.8 L140,376.1 L141,378.9 L142,381.3 L143,383.6 L144,385.6 L145,387.2 L146,388.5 L147,389.5 L148,390.4 L149,391.1 L150,391.6 L151,392 L152,392.3 L153,392.6 L154,392.8 L155,392.9 L156,393.1 L157,393.2 L158,393.3 L159,393.4 L160,393.4 L161,393.5 L162,393.5 L163,393.5 L164,393.6 L165,393.6 L166,393.6 L167,393.6 L168,393.6 L169,393.7 L170,393.7 L171,393.7 L172,393.7 L173,393.7 L174,393.7 L175,393.7 L176,393.7 L177,393.7 L178,393.7 L179,393.7 L180,393.7 L181,393.7 L182,393.7 L183,393.7 L184,393.7 L185,393.7 L186,393.7 L187,393.7 L188,393.7 L189,393.7 L190,393.7 L191,393.7 L192,393.7 L193,393.7 L194,393.7 L195,393.7 L196,393.7 L197,393.7 L198,393.7 L199,393.7 L200,393.7 L201,393.7 L202,393.7 L203,393.7 L204,393.7 L205,393.7 L206,393.7 L207,393.7 L208,393.7 L209,393.7 L210,393.7 L211,393.7 L212,393.7 L213,393.7 L214,393.7 L215,393.7 L216,393.7 L217,393.7 L218,393.7 L219,393.7 L220,393.7 L221,393.7 L222,393.7 L223,393.7 L224,393.7 L225,393.7 L226,393.7 L227,393.7 L228,393.7 L229,393.7 L230,393.7 L231,393.7 L232,393.7 L233,393.7 L234,393.7 L235,393.7 L236,393.7 L237,393.7 L238,393.7 L239,393.7 L240,393.7 L241,393.7 L242,393.7 L243,393.7 L244,393.7 L245,393.7 L246,393.7 L247,393.7 L248,393.7 L249,393.7 L250,393.7 L251,393.7 L252,393.7 L253,393.7 L254,393.7 L255,393.7 L256,393.7 L257,393.7 L258,393.7 L259,393.7 L260,393.7 L261,393.7 L262,393.7 L263,393.7 L264,393.7 L265,393.7 L266,393.7 L267,393.7 L268,393.7 L269,393.7 L270,393.7 L271,393.7 L272,393.7 L273,393.7 L274,393.7 L275,393.7 L276,393.6 L277,393.6 L278,393.6 L279,393.6 L280,393.5 L281,393.4 L282,393.4 L283,393.3 L284,393.2 L285,393 L286,392.8 L287,392.6 L288,392.3 L289,392 L290,391.5 L291,391 L292,390.4 L293,389.7 L294,388.9 L295,387.9 L296,386.7 L297,385.4 L298,383.9 L299,382.1 L300,380.2 L301,378 L302,375.5 L303,372.8 L304,369.8 L305,366.6 L306,363.1 L307,359.3 L308,355.4 L309,351.2 L310,346.8 L311,342.3 L312,337.7 L313,333 L314,328.4 L315,323.7 L316,319.2 L317,314.9 L318,310.8 L319,307 L320,303.5 L321,300.4 L322,297.7 L323,295.5 L324,293.8 L325,292.6 L326,291.8 L327,291.8 L328,292.6 L329,294.2 L330,296.5 L331,299.4 L332,302.7 L333,306.4 L334,310.2 L335,314 L336,317.8 L337,321.2 L338,324.4 L339,327.1 L340,329.4 L341,331.2 L342,332.5 L343,333.4 L344,334 L345,334.2 L346,334.2 L347,334.1 L348,334 L349,334 L350,334.2 L351,334.6 L352,335.3 L353,336.4 L354,338.1 L355,340.2 L356,342.8 L357,345.7 L358,349.1 L359,352.6 L360,356.3 L361,360.1 L362,363.9 L363,367.5 L364,371 L365,374.3 L366,377.3 L367,380 L368,382.4 L369,384.5 L370,386.3 L371,387.8 L372,389 L373,390.1 L374,390.9 L375,391.6 L376,392.1 L377,392.5 L378,392.9 L379,393.1 L380,393.3 L381,393.4 L382,393.5 L383,393.6 L384,393.6 L385,393.6 L386,393.7 L387,393.7 L388,393.7 L389,393.7 L390,393.7 L391,393.7 L392,393.7 L393,393.7 L394,393.7 L395,393.7 L396,393.7 L397,393.7 L398,393.7 L399,393.7 L400,393.7 L401,393.7 L402,393.7 L403,393.7 L404,393.7 L405,393.7 L406,393.7 L407,393.7 L408,393.7 L409,393.7 L410,393.7 L411,393.7 L412,393.7 L413,393.7 L414,393.7 L415,393.7 L416,393.7 L417,393.7 L418,393.7 L419,393.7 L420,393.7 L421,393.7 L422,393.7 L423,393.7 L424,393.7 L425,393.7 L426,393.7 L427,393.7 L428,393.7 L429,393.7 L430,393.7 L431,393.7 L432,393.7 L433,393.7 L434,393.7 L435,393.7 L436,393.7 L437,393.7 L438,393.7 L439,393.7 L440,393.7 L441,393.7 L442,393.7 L443,393.7 L444,393.7 L445,393.7 L446,393.7" fill="none" stroke="#111" stroke-width="1"/>
<path d="M130.2,316.9v14 M134.2,343v14 M138.2,360.2v14 M142.2,373.5v14 M146.2,383v14 M150.2,384v14 M154.2,384.4v14 M158.2,385v14 M162.2,384.1v14 M166.2,386.2v14 M170.2,384.9v14 M174.2,387v14 M178.2,383.2v14 M182.2,386.8v14 M186.2,385.8v14 M190.2,383.7v14 M194.2,387.5v14 M198.2,386.4v14 M202.2,383.4v14 M206.2,385.1v14 M210.2,387v14 M214.2,386v14 M218.2,387.8v14 M222.2,387.9v14 M226.2,387.8v14 M230.2,387.3v14 M234.2,388.7v14 M238.2,387.9v14 M242.2,387.5v14 M246.2,383.7v14 M250.2,387.7v14 M254.2,388.7v14 M258.2,386.5v14 M262.2,386v14 M266.2,389.5v14 M270.2,384.4v14 M274.2,387.1v14 M278.2,390.2v14 M282.2,385.3v14 M286.2,386.7v14 M290.2,387.3v14 M294.2,381.8v14 M298.2,377.4v14 M302.2,369.4v14 M306.2,354.1v14 M310.2,338.7v14 M314.2,320.8v14 M318.2,304.3v14 M322.2,290.3v14 M326.2,284.5v14 M330.2,288.5v14 M334.2,303.3v14 M338.2,319.2v14 M342.2,326v14 M346.2,326v14 M350.2,325.9v14 M354.2,335.3v14 M358.2,344.8v14 M362.2,358.8v14 M366.2,367.1v14 M370.2,380.1v14 M374.2,384.8v14 M378.2,388.5v14 M382.2,387.4v14 M386.2,386.6v14 M390.2,387.5v14 M394.2,383.9v14 M398.2,388v14 M402.2,387.3v14 M406.2,385.7v14 M410.2,388.6v14 M414.2,389.6v14 M418.2,384.9v14 M422.2,385.5v14 M426.2,387v14 M430.2,387v14 M434.2,386.1v14 M438.2,385.2v14 M442.2,389.7v14 M446.2,388.5v14" stroke="#0a0a14" stroke-width="1.6"/>
<g fill="rgb(88,88,240)" stroke="#0a0a1e" stroke-width="2.1"><circle cx="130.2" cy="323.9" r="6"/><circle cx="134.2" cy="350" r="6"/><circle cx="138.2" cy="367.2" r="6"/><circle cx="142.2" cy="380.5" r="6"/><circle cx="146.2" cy="390" r="6"/><circle cx="150.2" cy="391" r="6"/><circle cx="154.2" cy="391.4" r="6"/><circle cx="158.2" cy="392" r="6"/><circle cx="162.2" cy="391.1" r="6"/><circle cx="166.2" cy="393.2" r="6"/><circle cx="170.2" cy="391.9" r="6"/><circle cx="174.2" cy="394" r="6"/><circle cx="178.2" cy="390.2" r="6"/><circle cx="182.2" cy="393.8" r="6"/><circle cx="186.2" cy="392.8" r="6"/><circle cx="190.2" cy="390.7" r="6"/><circle cx="194.2" cy="394.5" r="6"/><circle cx="198.2" cy="393.4" r="6"/><circle cx="202.2" cy="390.4" r="6"/><circle cx="206.2" cy="392.1" r="6"/><circle cx="210.2" cy="394" r="6"/><circle cx="214.2" cy="393" r="6"/><circle cx="218.2" cy="394.8" r="6"/><circle cx="222.2" cy="394.9" r="6"/><circle cx="226.2" cy="394.8" r="6"/><circle cx="230.2" cy="394.3" r="6"/><circle cx="234.2" cy="395.7" r="6"/><circle cx="238.2" cy="394.9" r="6"/><circle cx="242.2" cy="394.5" r="6"/><circle cx="246.2" cy="390.7" r="6"/><circle cx="250.2" cy="394.7" r="6"/><circle cx="254.2" cy="395.7" r="6"/><circle cx="258.2" cy="393.5" r="6"/><circle cx="262.2" cy="393" r="6"/><circle cx="266.2" cy="396.5" r="6"/><circle cx="270.2" cy="391.4" r="6"/><circle cx="274.2" cy="394.1" r="6"/><circle cx="278.2" cy="397.2" r="6"/><circle cx="282.2" cy="392.3" r="6"/><circle cx="286.2" cy="393.7" r="6"/><circle cx="290.2" cy="394.3" r="6"/><circle cx="294.2" cy="388.8" r="6"/><circle cx="298.2" cy="384.4" r="6"/><circle cx="302.2" cy="376.4" r="6"/><circle cx="306.2" cy="361.1" r="6"/><circle cx="310.2" cy="345.7" r="6"/><circle cx="314.2" cy="327.8" r="6"/><circle cx="318.2" cy="311.3" r="6"/><circle cx="322.2" cy="297.3" r="6"/><circle cx="326.2" cy="291.5" r="6"/><circle cx="330.2" cy="295.5" r="6"/><circle cx="334.2" cy="310.3" r="6"/><circle cx="338.2" cy="326.2" r="6"/><circle cx="342.2" cy="333" r="6"/><circle cx="346.2" cy="333" r="6"/><circle cx="350.2" cy="332.9" r="6"/><circle cx="354.2" cy="342.3" r="6"/><circle cx="358.2" cy="351.8" r="6"/><circle cx="362.2" cy="365.8" r="6"/><circle cx="366.2" cy="374.1" r="6"/><circle cx="370.2" cy="387.1" r="6"/><circle cx="374.2" cy="391.8" r="6"/><circle cx="378.2" cy="395.5" r="6"/><circle cx="382.2" cy="394.4" r="6"/><circle cx="386.2" cy="393.6" r="6"/><circle cx="390.2" cy="394.5" r="6"/><circle cx="394.2" cy="390.9" r="6"/><circle cx="398.2" cy="395" r="6"/><circle cx="402.2" cy="394.3" r="6"/><circle cx="406.2" cy="392.7" r="6"/><circle cx="410.2" cy="395.6" r="6"/><circle cx="414.2" cy="396.6" r="6"/><circle cx="418.2" cy="391.9" r="6"/><circle cx="422.2" cy="392.5" r="6"/><circle cx="426.2" cy="394" r="6"/><circle cx="430.2" cy="394" r="6"/><circle cx="434.2" cy="393.1" r="6"/><circle cx="438.2" cy="392.2" r="6"/><circle cx="442.2" cy="396.7" r="6"/><circle cx="446.2" cy="395.5" r="6"/></g>
<path d="M270.4,472.8 L270.4,472.4 L270.9,472.3 L271.4,472.3 L271.9,472.2 L272.4,472.1 L272.9,472 L273.4,471.9 L273.9,471.8 L274.4,471.6 L274.9,471.5 L275.4,471.3 L275.9,471.1 L276.4,470.9 L276.9,470.7 L277.4,470.4 L277.9,470.1 L278.4,469.8 L278.9,469.5 L279.4,469.1 L279.9,468.7 L280.4,468.3 L280.9,467.8 L281.4,467.3 L281.9,466.7 L282.4,466.1 L282.9,465.4 L283.4,464.7 L283.9,463.9 L284.4,463 L284.9,462.1 L285.4,461.2 L285.9,460.2 L286.4,459.1 L286.9,457.9 L287.4,456.7 L287.9,455.4 L288.4,454 L288.9,452.6 L289.4,451 L289.9,449.4 L290.4,447.8 L290.9,446 L291.4,444.2 L291.9,442.3 L292.4,440.4 L292.9,438.4 L293.4,436.3 L293.9,434.2 L294.4,432 L294.9,429.8 L295.4,427.5 L295.9,425.2 L296.4,422.8 L296.9,420.4 L297.4,418.1 L297.9,415.7 L298.4,413.3 L298.9,410.9 L299.4,408.5 L299.9,406.1 L300.4,403.8 L300.9,401.5 L301.4,399.3 L301.9,397.2 L302.4,395.1 L302.9,393.1 L303.4,391.1 L303.9,389.3 L304.4,387.6 L304.9,386 L305.4,384.5 L305.9,383.2 L306.4,382 L306.9,380.9 L307.4,380 L307.9,379.2 L308.4,378.6 L308.9,378.2 L309.4,377.9 L309.9,377.8 L310.4,377.8 L310.9,378 L311.4,378.3 L311.9,378.8 L312.4,379.4 L312.9,380.1 L313.4,381 L313.9,382 L314.4,383.1 L314.9,384.3 L315.4,385.7 L315.9,387.1 L316.4,388.6 L316.9,390.3 L317.4,392 L317.9,393.8 L318.4,395.7 L318.9,397.6 L319.4,399.7 L319.9,401.7 L320.4,403.8 L320.9,406 L321.4,408.1 L321.9,410.3 L322.4,412.5 L322.9,414.7 L323.4,417 L323.9,419.2 L324.4,421.4 L324.9,423.5 L325.4,425.7 L325.9,427.8 L326.4,429.9 L326.9,432 L327.4,434 L327.9,436 L328.4,437.9 L328.9,439.8 L329.4,441.6 L329.9,443.4 L330.4,445.1 L330.9,446.7 L331.4,448.3 L331.9,449.8 L332.4,451.3 L332.9,452.7 L333.4,454 L333.9,455.3 L334.4,456.5 L334.9,457.6 L335.4,458.7 L335.9,459.7 L336.4,460.7 L336.9,461.6 L337.4,462.5 L337.9,463.3 L338.4,464.1 L338.9,464.8 L339.4,465.4 L339.9,466.1 L340.4,466.6 L340.9,467.2 L341.4,467.7 L341.9,468.1 L342.4,468.5 L342.9,468.9 L343.4,469.3 L343.9,469.6 L344.4,469.9 L344.9,470.2 L345.4,470.5 L345.9,470.7 L346.4,470.9 L346.9,471.1 L347.4,471.3 L347.9,471.4 L348.4,471.6 L348.9,471.7 L349.4,471.8 L349.9,471.9 L350.4,472 L350.9,472.1 L351.4,472.2 L351.9,472.3 L352.4,472.3 L352.9,472.4 L352.9,472.8Z" fill="#42a6ff" stroke="#111" stroke-width="1"/>
<path d="M301,472.8 L301,472.7 L301.5,472.6 L302,472.6 L302.5,472.6 L303,472.5 L303.5,472.5 L304,472.4 L304.5,472.4 L305,472.3 L305.5,472.2 L306,472.1 L306.5,472 L307,471.9 L307.5,471.8 L308,471.7 L308.5,471.5 L309,471.3 L309.5,471.1 L310,470.9 L310.5,470.7 L311,470.4 L311.5,470.1 L312,469.8 L312.5,469.5 L313,469.1 L313.5,468.7 L314,468.3 L314.5,467.8 L315,467.3 L315.5,466.7 L316,466.2 L316.5,465.6 L317,464.9 L317.5,464.2 L318,463.5 L318.5,462.7 L319,461.9 L319.5,461.1 L320,460.2 L320.5,459.3 L321,458.4 L321.5,457.5 L322,456.5 L322.5,455.5 L323,454.5 L323.5,453.5 L324,452.5 L324.5,451.5 L325,450.5 L325.5,449.5 L326,448.5 L326.5,447.5 L327,446.6 L327.5,445.7 L328,444.8 L328.5,444 L329,443.2 L329.5,442.5 L330,441.9 L330.5,441.3 L331,440.8 L331.5,440.3 L332,440 L332.5,439.7 L333,439.5 L333.5,439.3 L334,439.3 L334.5,439.3 L335,439.5 L335.5,439.6 L336,439.9 L336.5,440.2 L337,440.6 L337.5,441.1 L338,441.6 L338.5,442.2 L339,442.9 L339.5,443.6 L340,444.3 L340.5,445.1 L341,446 L341.5,446.8 L342,447.7 L342.5,448.7 L343,449.6 L343.5,450.6 L344,451.5 L344.5,452.5 L345,453.4 L345.5,454.4 L346,455.4 L346.5,456.3 L347,457.2 L347.5,458.1 L348,459 L348.5,459.9 L349,460.7 L349.5,461.5 L350,462.3 L350.5,463.1 L351,463.8 L351.5,464.4 L352,465.1 L352.5,465.7 L353,466.3 L353.5,466.8 L354,467.3 L354.5,467.8 L355,468.3 L355.5,468.7 L356,469.1 L356.5,469.4 L357,469.8 L357.5,470.1 L358,470.3 L358.5,470.6 L359,470.8 L359.5,471 L360,471.2 L360.5,471.4 L361,471.6 L361.5,471.7 L362,471.8 L362.5,472 L363,472.1 L363.5,472.2 L364,472.2 L364.5,472.3 L365,472.4 L365.5,472.4 L366,472.5 L366.5,472.5 L367,472.6 L367.5,472.6 L368,472.6 L368.5,472.6 L368.6,472.8Z" fill="#ff8800" stroke="#111" stroke-width="1"/>
<path d="M270.4,472.8H368.6" stroke="#111" stroke-width="1.3"/>
<path d="M130,383.4 L131,394.6 L132,402.4 L133,409.3 L134,415.6 L135,422.7 L136,429.3 L137,435 L138,439.9 L139,444.9 L140,449.4 L141,453.1 L142,456.2 L143,459.2 L144,461.8 L145,463.8 L146,465.5 L147,466.9 L148,468 L149,468.9 L150,469.7 L151,470.2 L152,470.7 L153,471.1 L154,471.4 L155,471.7 L156,471.9 L157,472 L158,472.2 L159,472.3 L160,472.4 L161,472.5 L162,472.5 L163,472.6 L164,472.6 L165,472.6 L166,472.7 L167,472.7 L168,472.7 L169,472.7 L170,472.7 L171,472.8 L172,472.8 L173,472.8 L174,472.8 L175,472.8 L176,472.8 L177,472.8 L178,472.8 L179,472.8 L180,472.8 L181,472.8 L182,472.8 L183,472.8 L184,472.8 L185,472.8 L186,472.8 L187,472.8 L188,472.8 L189,472.8 L190,472.8 L191,472.8 L192,472.8 L193,472.8 L194,472.8 L195,472.8 L196,472.8 L197,472.8 L198,472.8 L199,472.8 L200,472.8 L201,472.8 L202,472.8 L203,472.8 L204,472.8 L205,472.8 L206,472.8 L207,472.8 L208,472.8 L209,472.8 L210,472.8 L211,472.8 L212,472.8 L213,472.8 L214,472.8 L215,472.8 L216,472.8 L217,472.8 L218,472.8 L219,472.8 L220,472.8 L221,472.8 L222,472.8 L223,472.8 L224,472.8 L225,472.8 L226,472.8 L227,472.8 L228,472.8 L229,472.8 L230,472.8 L231,472.8 L232,472.8 L233,472.8 L234,472.8 L235,472.8 L236,472.8 L237,472.8 L238,472.8 L239,472.8 L240,472.8 L241,472.8 L242,472.8 L243,472.8 L244,472.8 L245,472.8 L246,472.8 L247,472.8 L248,472.8 L249,472.8 L250,472.8 L251,472.8 L252,472.8 L253,472.8 L254,472.8 L255,472.8 L256,472.7 L257,472.7 L258,472.7 L259,472.6 L260,472.6 L261,472.5 L262,472.5 L263,472.4 L264,472.2 L265,472.1 L266,471.9 L267,471.6 L268,471.3 L269,471 L270,470.6 L271,470 L272,469.4 L273,468.7 L274,467.8 L275,466.7 L276,465.5 L277,464.2 L278,462.6 L279,460.8 L280,458.7 L281,456.4 L282,453.9 L283,451.1 L284,448 L285,444.6 L286,441 L287,437.1 L288,432.9 L289,428.6 L290,424 L291,419.3 L292,414.5 L293,409.7 L294,404.8 L295,400 L296,395.3 L297,390.8 L298,386.5 L299,382.5 L300,378.8 L301,375.6 L302,372.7 L303,370.4 L304,368.5 L305,367.1 L306,366.3 L307,366.1 L308,366.7 L309,368.2 L310,370.4 L311,373.2 L312,376.4 L313,379.9 L314,383.6 L315,387.3 L316,390.9 L317,394.2 L318,397.3 L319,399.9 L320,402.1 L321,403.9 L322,405.2 L323,406.2 L324,406.8 L325,407.2 L326,407.5 L327,407.8 L328,408.1 L329,408.6 L330,409.3 L331,410.2 L332,411.5 L333,413.2 L334,415.3 L335,417.7 L336,420.5 L337,423.5 L338,426.8 L339,430.2 L340,433.8 L341,437.4 L342,441 L343,444.5 L344,447.8 L345,451 L346,453.9 L347,456.7 L348,459.1 L349,461.3 L350,463.3 L351,464.9 L352,466.4 L353,467.6 L354,468.7 L355,469.5 L356,470.3 L357,470.8 L358,471.3 L359,471.6 L360,471.9 L361,472.2 L362,472.3 L363,472.5 L364,472.5 L365,472.6 L366,472.7 L367,472.7 L368,472.7 L369,472.8 L370,472.8 L371,472.8 L372,472.8 L373,472.8 L374,472.8 L375,472.8 L376,472.8 L377,472.8 L378,472.8 L379,472.8 L380,472.8 L381,472.8 L382,472.8 L383,472.8 L384,472.8 L385,472.8 L386,472.8 L387,472.8 L388,472.8 L389,472.8 L390,472.8 L391,472.8 L392,472.8 L393,472.8 L394,472.8 L395,472.8 L396,472.8 L397,472.8 L398,472.8 L399,472.8 L400,472.8 L401,472.8 L402,472.8 L403,472.8 L404,472.8 L405,472.8 L406,472.8 L407,472.8 L408,472.8 L409,472.8 L410,472.8 L411,472.8 L412,472.8 L413,472.8 L414,472.8 L415,472.8 L416,472.8 L417,472.8 L418,472.8 L419,472.8 L420,472.8 L421,472.8 L422,472.8 L423,472.8 L424,472.8 L425,472.8 L426,472.8 L427,472.8 L428,472.8 L429,472.8 L430,472.8 L431,472.8 L432,472.8 L433,472.8 L434,472.8 L435,472.8 L436,472.8 L437,472.8 L438,472.8 L439,472.8 L440,472.8 L441,472.8 L442,472.8 L443,472.8 L444,472.8 L445,472.8 L446,472.8" fill="none" stroke="#111" stroke-width="1"/>
<path d="M130.2,380.7v14 M134.2,410.6v14 M138.2,432.8v14 M142.2,449.5v14 M146.2,459.5v14 M150.2,463.4v14 M154.2,465.5v14 M158.2,465.6v14 M162.2,465.1v14 M166.2,466.8v14 M170.2,465.9v14 M174.2,464.6v14 M178.2,464.7v14 M182.2,465.7v14 M186.2,465.6v14 M190.2,466v14 M194.2,465.8v14 M198.2,466.1v14 M202.2,465.6v14 M206.2,463.9v14 M210.2,466.2v14 M214.2,467.4v14 M218.2,466.6v14 M222.2,465.6v14 M226.2,466.4v14 M230.2,464.4v14 M234.2,462.8v14 M238.2,465.6v14 M242.2,464.4v14 M246.2,466.8v14 M250.2,464.3v14 M254.2,461.7v14 M258.2,463.7v14 M262.2,467.6v14 M266.2,464.5v14 M270.2,461.4v14 M274.2,459.2v14 M278.2,455.9v14 M282.2,447.1v14 M286.2,433.5v14 M290.2,418.3v14 M294.2,398.1v14 M298.2,378.8v14 M302.2,366.1v14 M306.2,361.7v14 M310.2,365.6v14 M314.2,379v14 M318.2,389.4v14 M322.2,398.1v14 M326.2,401.6v14 M330.2,402.1v14 M334.2,410.3v14 M338.2,421.5v14 M342.2,436.1v14 M346.2,447.3v14 M350.2,460.4v14 M354.2,464.1v14 M358.2,464.3v14 M362.2,465.5v14 M366.2,469.5v14 M370.2,465.7v14 M374.2,467.1v14 M378.2,467.4v14 M382.2,466v14 M386.2,464.1v14 M390.2,465.9v14 M394.2,466.3v14 M398.2,467.5v14 M402.2,467.1v14 M406.2,466v14 M410.2,467.1v14 M414.2,466.7v14 M418.2,466.2v14 M422.2,465.9v14 M426.2,465.5v14 M430.2,466.8v14 M434.2,464.3v14 M438.2,464.7v14 M442.2,465.7v14 M446.2,463.6v14" stroke="#0a0a14" stroke-width="1.6"/>
<g fill="rgb(48,48,232)" stroke="#0a0a1e" stroke-width="2.1"><circle cx="130.2" cy="387.7" r="6"/><circle cx="134.2" cy="417.6" r="6"/><circle cx="138.2" cy="439.8" r="6"/><circle cx="142.2" cy="456.5" r="6"/><circle cx="146.2" cy="466.5" r="6"/><circle cx="150.2" cy="470.4" r="6"/><circle cx="154.2" cy="472.5" r="6"/><circle cx="158.2" cy="472.6" r="6"/><circle cx="162.2" cy="472.1" r="6"/><circle cx="166.2" cy="473.8" r="6"/><circle cx="170.2" cy="472.9" r="6"/><circle cx="174.2" cy="471.6" r="6"/><circle cx="178.2" cy="471.7" r="6"/><circle cx="182.2" cy="472.7" r="6"/><circle cx="186.2" cy="472.6" r="6"/><circle cx="190.2" cy="473" r="6"/><circle cx="194.2" cy="472.8" r="6"/><circle cx="198.2" cy="473.1" r="6"/><circle cx="202.2" cy="472.6" r="6"/><circle cx="206.2" cy="470.9" r="6"/><circle cx="210.2" cy="473.2" r="6"/><circle cx="214.2" cy="474.4" r="6"/><circle cx="218.2" cy="473.6" r="6"/><circle cx="222.2" cy="472.6" r="6"/><circle cx="226.2" cy="473.4" r="6"/><circle cx="230.2" cy="471.4" r="6"/><circle cx="234.2" cy="469.8" r="6"/><circle cx="238.2" cy="472.6" r="6"/><circle cx="242.2" cy="471.4" r="6"/><circle cx="246.2" cy="473.8" r="6"/><circle cx="250.2" cy="471.3" r="6"/><circle cx="254.2" cy="468.7" r="6"/><circle cx="258.2" cy="470.7" r="6"/><circle cx="262.2" cy="474.6" r="6"/><circle cx="266.2" cy="471.5" r="6"/><circle cx="270.2" cy="468.4" r="6"/><circle cx="274.2" cy="466.2" r="6"/><circle cx="278.2" cy="462.9" r="6"/><circle cx="282.2" cy="454.1" r="6"/><circle cx="286.2" cy="440.5" r="6"/><circle cx="290.2" cy="425.3" r="6"/><circle cx="294.2" cy="405.1" r="6"/><circle cx="298.2" cy="385.8" r="6"/><circle cx="302.2" cy="373.1" r="6"/><circle cx="306.2" cy="368.7" r="6"/><circle cx="310.2" cy="372.6" r="6"/><circle cx="314.2" cy="386" r="6"/><circle cx="318.2" cy="396.4" r="6"/><circle cx="322.2" cy="405.1" r="6"/><circle cx="326.2" cy="408.6" r="6"/><circle cx="330.2" cy="409.1" r="6"/><circle cx="334.2" cy="417.3" r="6"/><circle cx="338.2" cy="428.5" r="6"/><circle cx="342.2" cy="443.1" r="6"/><circle cx="346.2" cy="454.3" r="6"/><circle cx="350.2" cy="467.4" r="6"/><circle cx="354.2" cy="471.1" r="6"/><circle cx="358.2" cy="471.3" r="6"/><circle cx="362.2" cy="472.5" r="6"/><circle cx="366.2" cy="476.5" r="6"/><circle cx="370.2" cy="472.7" r="6"/><circle cx="374.2" cy="474.1" r="6"/><circle cx="378.2" cy="474.4" r="6"/><circle cx="382.2" cy="473" r="6"/><circle cx="386.2" cy="471.1" r="6"/><circle cx="390.2" cy="472.9" r="6"/><circle cx="394.2" cy="473.3" r="6"/><circle cx="398.2" cy="474.5" r="6"/><circle cx="402.2" cy="474.1" r="6"/><circle cx="406.2" cy="473" r="6"/><circle cx="410.2" cy="474.1" r="6"/><circle cx="414.2" cy="473.7" r="6"/><circle cx="418.2" cy="473.2" r="6"/><circle cx="422.2" cy="472.9" r="6"/><circle cx="426.2" cy="472.5" r="6"/><circle cx="430.2" cy="473.8" r="6"/><circle cx="434.2" cy="471.3" r="6"/><circle cx="438.2" cy="471.7" r="6"/><circle cx="442.2" cy="472.7" r="6"/><circle cx="446.2" cy="470.6" r="6"/></g>
<path d="M239.5,551.8 L239.5,551.4 L240,551.3 L240.5,551.3 L241,551.2 L241.5,551.1 L242,551.1 L242.5,551 L243,550.9 L243.5,550.8 L244,550.7 L244.5,550.6 L245,550.4 L245.5,550.3 L246,550.2 L246.5,550 L247,549.8 L247.5,549.6 L248,549.4 L248.5,549.2 L249,548.9 L249.5,548.7 L250,548.4 L250.5,548.1 L251,547.8 L251.5,547.4 L252,547 L252.5,546.6 L253,546.2 L253.5,545.7 L254,545.2 L254.5,544.7 L255,544.1 L255.5,543.5 L256,542.9 L256.5,542.2 L257,541.5 L257.5,540.8 L258,540 L258.5,539.1 L259,538.3 L259.5,537.3 L260,536.4 L260.5,535.4 L261,534.3 L261.5,533.2 L262,532 L262.5,530.8 L263,529.5 L263.5,528.2 L264,526.9 L264.5,525.5 L265,524 L265.5,522.5 L266,520.9 L266.5,519.3 L267,517.7 L267.5,516 L268,514.3 L268.5,512.5 L269,510.7 L269.5,508.8 L270,507 L270.5,505.1 L271,503.1 L271.5,501.2 L272,499.2 L272.5,497.2 L273,495.2 L273.5,493.2 L274,491.1 L274.5,489.1 L275,487.1 L275.5,485.1 L276,483.1 L276.5,481.1 L277,479.2 L277.5,477.3 L278,475.4 L278.5,473.5 L279,471.7 L279.5,470 L280,468.3 L280.5,466.6 L281,465.1 L281.5,463.6 L282,462.1 L282.5,460.8 L283,459.5 L283.5,458.3 L284,457.2 L284.5,456.2 L285,455.3 L285.5,454.5 L286,453.8 L286.5,453.2 L287,452.7 L287.5,452.3 L288,452 L288.5,451.9 L289,451.8 L289.5,451.9 L290,452.1 L290.5,452.5 L291,453.1 L291.5,453.8 L292,454.6 L292.5,455.6 L293,456.8 L293.5,458.1 L294,459.5 L294.5,461 L295,462.7 L295.5,464.4 L296,466.3 L296.5,468.3 L297,470.3 L297.5,472.4 L298,474.6 L298.5,476.9 L299,479.2 L299.5,481.5 L300,483.9 L300.5,486.3 L301,488.7 L301.5,491.1 L302,493.6 L302.5,496 L303,498.4 L303.5,500.8 L304,503.1 L304.5,505.4 L305,507.7 L305.5,510 L306,512.1 L306.5,514.3 L307,516.3 L307.5,518.4 L308,520.3 L308.5,522.2 L309,524 L309.5,525.7 L310,527.4 L310.5,529 L311,530.5 L311.5,532 L312,533.4 L312.5,534.7 L313,536 L313.5,537.2 L314,538.3 L314.5,539.3 L315,540.3 L315.5,541.2 L316,542.1 L316.5,542.9 L317,543.7 L317.5,544.4 L318,545 L318.5,545.6 L319,546.2 L319.5,546.7 L320,547.2 L320.5,547.6 L321,548 L321.5,548.4 L322,548.7 L322.5,549 L323,549.3 L323.5,549.6 L324,549.8 L324.5,550 L325,550.2 L325.5,550.4 L326,550.5 L326.5,550.7 L327,550.8 L327.5,550.9 L328,551 L328.5,551.1 L329,551.2 L329.5,551.3 L330,551.3 L330.2,551.8Z" fill="#42a6ff" stroke="#111" stroke-width="1"/>
<path d="M284,551.8 L284,551.7 L284.5,551.6 L285,551.6 L285.5,551.6 L286,551.5 L286.5,551.5 L287,551.5 L287.5,551.4 L288,551.3 L288.5,551.3 L289,551.2 L289.5,551.1 L290,551 L290.5,550.9 L291,550.7 L291.5,550.6 L292,550.4 L292.5,550.3 L293,550.1 L293.5,549.8 L294,549.6 L294.5,549.3 L295,549 L295.5,548.7 L296,548.4 L296.5,548 L297,547.6 L297.5,547.2 L298,546.7 L298.5,546.2 L299,545.7 L299.5,545.1 L300,544.5 L300.5,543.9 L301,543.2 L301.5,542.5 L302,541.7 L302.5,541 L303,540.2 L303.5,539.3 L304,538.5 L304.5,537.6 L305,536.7 L305.5,535.8 L306,534.9 L306.5,533.9 L307,533 L307.5,532.1 L308,531.1 L308.5,530.2 L309,529.3 L309.5,528.4 L310,527.5 L310.5,526.7 L311,525.9 L311.5,525.2 L312,524.4 L312.5,523.8 L313,523.2 L313.5,522.6 L314,522.2 L314.5,521.8 L315,521.4 L315.5,521.1 L316,521 L316.5,520.8 L317,520.8 L317.5,520.8 L318,521 L318.5,521.1 L319,521.4 L319.5,521.8 L320,522.2 L320.5,522.6 L321,523.2 L321.5,523.8 L322,524.4 L322.5,525.2 L323,525.9 L323.5,526.7 L324,527.5 L324.5,528.4 L325,529.3 L325.5,530.2 L326,531.1 L326.5,532.1 L327,533 L327.5,533.9 L328,534.9 L328.5,535.8 L329,536.7 L329.5,537.6 L330,538.5 L330.5,539.3 L331,540.2 L331.5,541 L332,541.7 L332.5,542.5 L333,543.2 L333.5,543.9 L334,544.5 L334.5,545.1 L335,545.7 L335.5,546.2 L336,546.7 L336.5,547.2 L337,547.6 L337.5,548 L338,548.4 L338.5,548.7 L339,549 L339.5,549.3 L340,549.6 L340.5,549.8 L341,550.1 L341.5,550.3 L342,550.4 L342.5,550.6 L343,550.7 L343.5,550.9 L344,551 L344.5,551.1 L345,551.2 L345.5,551.3 L346,551.3 L346.5,551.4 L347,551.5 L347.5,551.5 L348,551.5 L348.5,551.6 L349,551.6 L349.5,551.6 L350,551.7 L350,551.8Z" fill="#ff8800" stroke="#111" stroke-width="1"/>
<path d="M239.5,551.8H350" stroke="#111" stroke-width="1.3"/>
<path d="M130,467.7 L131,480.5 L132,490 L133,498.3 L134,505.5 L135,510.9 L136,515.5 L137,519.5 L138,523.1 L139,527.1 L140,530.7 L141,533.7 L142,536.3 L143,538.6 L144,540.5 L145,542.1 L146,543.5 L147,544.8 L148,545.9 L149,546.9 L150,547.7 L151,548.4 L152,549 L153,549.5 L154,549.9 L155,550.3 L156,550.5 L157,550.8 L158,551 L159,551.1 L160,551.2 L161,551.3 L162,551.4 L163,551.5 L164,551.5 L165,551.6 L166,551.6 L167,551.7 L168,551.7 L169,551.7 L170,551.7 L171,551.7 L172,551.7 L173,551.8 L174,551.8 L175,551.8 L176,551.8 L177,551.8 L178,551.8 L179,551.8 L180,551.8 L181,551.8 L182,551.8 L183,551.8 L184,551.8 L185,551.8 L186,551.8 L187,551.8 L188,551.8 L189,551.8 L190,551.8 L191,551.8 L192,551.8 L193,551.8 L194,551.8 L195,551.8 L196,551.8 L197,551.8 L198,551.8 L199,551.8 L200,551.8 L201,551.8 L202,551.8 L203,551.8 L204,551.8 L205,551.8 L206,551.8 L207,551.8 L208,551.8 L209,551.8 L210,551.8 L211,551.8 L212,551.8 L213,551.8 L214,551.8 L215,551.8 L216,551.8 L217,551.8 L218,551.8 L219,551.8 L220,551.8 L221,551.8 L222,551.8 L223,551.8 L224,551.7 L225,551.7 L226,551.7 L227,551.6 L228,551.5 L229,551.4 L230,551.3 L231,551.1 L232,550.8 L233,550.5 L234,550.1 L235,549.6 L236,549.1 L237,548.4 L238,547.7 L239,546.9 L240,546 L241,545 L242,544 L243,542.9 L244,541.8 L245,540.8 L246,539.8 L247,538.8 L248,538 L249,537.2 L250,536.5 L251,535.8 L252,535.2 L253,534.7 L254,534.1 L255,533.5 L256,532.7 L257,531.8 L258,530.7 L259,529.4 L260,527.7 L261,525.8 L262,523.5 L263,520.9 L264,518 L265,514.7 L266,511.1 L267,507.2 L268,503 L269,498.7 L270,494.2 L271,489.5 L272,484.9 L273,480.3 L274,475.8 L275,471.4 L276,467.3 L277,463.5 L278,460 L279,456.9 L280,454.3 L281,452.2 L282,450.7 L283,449.6 L284,449.2 L285,449.2 L286,449.7 L287,450.7 L288,452 L289,453.7 L290,455.8 L291,458.1 L292,460.5 L293,463.2 L294,465.9 L295,468.6 L296,471.3 L297,473.8 L298,476.3 L299,478.6 L300,480.7 L301,482.6 L302,484.2 L303,485.7 L304,487 L305,488.2 L306,489.3 L307,490.3 L308,491.3 L309,492.3 L310,493.5 L311,494.7 L312,496.2 L313,497.9 L314,499.6 L315,501.4 L316,503.1 L317,504.9 L318,506.7 L319,508.5 L320,510.4 L321,512.3 L322,514.2 L323,516.1 L324,518 L325,519.9 L326,521.8 L327,523.7 L328,525.6 L329,527.4 L330,529.2 L331,531 L332,532.7 L333,534.3 L334,535.9 L335,537.3 L336,538.7 L337,540 L338,541.3 L339,542.4 L340,543.5 L341,544.4 L342,545.3 L343,546.1 L344,546.8 L345,547.5 L346,548.1 L347,548.6 L348,549 L349,549.4 L350,549.8 L351,550.1 L352,550.4 L353,550.6 L354,550.8 L355,551 L356,551.1 L357,551.2 L358,551.3 L359,551.4 L360,551.5 L361,551.5 L362,551.6 L363,551.6 L364,551.7 L365,551.7 L366,551.7 L367,551.7 L368,551.7 L369,551.8 L370,551.8 L371,551.8 L372,551.8 L373,551.8 L374,551.8 L375,551.8 L376,551.8 L377,551.8 L378,551.8 L379,551.8 L380,551.8 L381,551.8 L382,551.8 L383,551.8 L384,551.8 L385,551.8 L386,551.8 L387,551.8 L388,551.8 L389,551.8 L390,551.8 L391,551.8 L392,551.8 L393,551.8 L394,551.8 L395,551.8 L396,551.8 L397,551.8 L398,551.8 L399,551.8 L400,551.8 L401,551.8 L402,551.8 L403,551.8 L404,551.8 L405,551.8 L406,551.8 L407,551.8 L408,551.8 L409,551.8 L410,551.8 L411,551.8 L412,551.8 L413,551.8 L414,551.8 L415,551.8 L416,551.8 L417,551.8 L418,551.8 L419,551.8 L420,551.8 L421,551.8 L422,551.8 L423,551.8 L424,551.8 L425,551.8 L426,551.8 L427,551.8 L428,551.8 L429,551.8 L430,551.8 L431,551.8 L432,551.8 L433,551.8 L434,551.8 L435,551.8 L436,551.8 L437,551.8 L438,551.8 L439,551.8 L440,551.8 L441,551.8 L442,551.8 L443,551.8 L444,551.8 L445,551.8 L446,551.8" fill="none" stroke="#111" stroke-width="1"/>
<path d="M130.2,466.4v14 M134.2,498.7v14 M138.2,516.4v14 M142.2,527.1v14 M146.2,537.7v14 M150.2,542.3v14 M154.2,540.3v14 M158.2,543.6v14 M162.2,545.3v14 M166.2,542.1v14 M170.2,541.8v14 M174.2,542.9v14 M178.2,543.7v14 M182.2,542.6v14 M186.2,544.6v14 M190.2,545.2v14 M194.2,545.8v14 M198.2,545.9v14 M202.2,547.1v14 M206.2,546.8v14 M210.2,543v14 M214.2,543.9v14 M218.2,543.1v14 M222.2,543v14 M226.2,544.4v14 M230.2,544.2v14 M234.2,543.8v14 M238.2,538.3v14 M242.2,534.7v14 M246.2,532.4v14 M250.2,529v14 M254.2,526.5v14 M258.2,523.3v14 M262.2,514.9v14 M266.2,504.2v14 M270.2,486.9v14 M274.2,467.8v14 M278.2,451.3v14 M282.2,443v14 M286.2,438.8v14 M290.2,447.3v14 M294.2,459.3v14 M298.2,467.5v14 M302.2,477.6v14 M306.2,482.7v14 M310.2,484.7v14 M314.2,492.4v14 M318.2,499.6v14 M322.2,508.2v14 M326.2,516.2v14 M330.2,522.6v14 M334.2,527.9v14 M338.2,534.2v14 M342.2,538.3v14 M346.2,542.2v14 M350.2,543.4v14 M354.2,542.8v14 M358.2,542.2v14 M362.2,543.8v14 M366.2,543.5v14 M370.2,543v14 M374.2,544.4v14 M378.2,544v14 M382.2,544.9v14 M386.2,545.6v14 M390.2,544.3v14 M394.2,548.2v14 M398.2,544.7v14 M402.2,546.4v14 M406.2,545.1v14 M410.2,546.5v14 M414.2,541.4v14 M418.2,543.3v14 M422.2,545v14 M426.2,545.7v14 M430.2,548.4v14 M434.2,545.6v14 M438.2,546.8v14 M442.2,546.1v14 M446.2,546.3v14" stroke="#0a0a14" stroke-width="1.6"/>
<g fill="rgb(30,30,215)" stroke="#0a0a1e" stroke-width="2.1"><circle cx="130.2" cy="473.4" r="6"/><circle cx="134.2" cy="505.7" r="6"/><circle cx="138.2" cy="523.4" r="6"/><circle cx="142.2" cy="534.1" r="6"/><circle cx="146.2" cy="544.7" r="6"/><circle cx="150.2" cy="549.3" r="6"/><circle cx="154.2" cy="547.3" r="6"/><circle cx="158.2" cy="550.6" r="6"/><circle cx="162.2" cy="552.3" r="6"/><circle cx="166.2" cy="549.1" r="6"/><circle cx="170.2" cy="548.8" r="6"/><circle cx="174.2" cy="549.9" r="6"/><circle cx="178.2" cy="550.7" r="6"/><circle cx="182.2" cy="549.6" r="6"/><circle cx="186.2" cy="551.6" r="6"/><circle cx="190.2" cy="552.2" r="6"/><circle cx="194.2" cy="552.8" r="6"/><circle cx="198.2" cy="552.9" r="6"/><circle cx="202.2" cy="554.1" r="6"/><circle cx="206.2" cy="553.8" r="6"/><circle cx="210.2" cy="550" r="6"/><circle cx="214.2" cy="550.9" r="6"/><circle cx="218.2" cy="550.1" r="6"/><circle cx="222.2" cy="550" r="6"/><circle cx="226.2" cy="551.4" r="6"/><circle cx="230.2" cy="551.2" r="6"/><circle cx="234.2" cy="550.8" r="6"/><circle cx="238.2" cy="545.3" r="6"/><circle cx="242.2" cy="541.7" r="6"/><circle cx="246.2" cy="539.4" r="6"/><circle cx="250.2" cy="536" r="6"/><circle cx="254.2" cy="533.5" r="6"/><circle cx="258.2" cy="530.3" r="6"/><circle cx="262.2" cy="521.9" r="6"/><circle cx="266.2" cy="511.2" r="6"/><circle cx="270.2" cy="493.9" r="6"/><circle cx="274.2" cy="474.8" r="6"/><circle cx="278.2" cy="458.3" r="6"/><circle cx="282.2" cy="450" r="6"/><circle cx="286.2" cy="445.8" r="6"/><circle cx="290.2" cy="454.3" r="6"/><circle cx="294.2" cy="466.3" r="6"/><circle cx="298.2" cy="474.5" r="6"/><circle cx="302.2" cy="484.6" r="6"/><circle cx="306.2" cy="489.7" r="6"/><circle cx="310.2" cy="491.7" r="6"/><circle cx="314.2" cy="499.4" r="6"/><circle cx="318.2" cy="506.6" r="6"/><circle cx="322.2" cy="515.2" r="6"/><circle cx="326.2" cy="523.2" r="6"/><circle cx="330.2" cy="529.6" r="6"/><circle cx="334.2" cy="534.9" r="6"/><circle cx="338.2" cy="541.2" r="6"/><circle cx="342.2" cy="545.3" r="6"/><circle cx="346.2" cy="549.2" r="6"/><circle cx="350.2" cy="550.4" r="6"/><circle cx="354.2" cy="549.8" r="6"/><circle cx="358.2" cy="549.2" r="6"/><circle cx="362.2" cy="550.8" r="6"/><circle cx="366.2" cy="550.5" r="6"/><circle cx="370.2" cy="550" r="6"/><circle cx="374.2" cy="551.4" r="6"/><circle cx="378.2" cy="551" r="6"/><circle cx="382.2" cy="551.9" r="6"/><circle cx="386.2" cy="552.6" r="6"/><circle cx="390.2" cy="551.3" r="6"/><circle cx="394.2" cy="555.2" r="6"/><circle cx="398.2" cy="551.7" r="6"/><circle cx="402.2" cy="553.4" r="6"/><circle cx="406.2" cy="552.1" r="6"/><circle cx="410.2" cy="553.5" r="6"/><circle cx="414.2" cy="548.4" r="6"/><circle cx="418.2" cy="550.3" r="6"/><circle cx="422.2" cy="552" r="6"/><circle cx="426.2" cy="552.7" r="6"/><circle cx="430.2" cy="555.4" r="6"/><circle cx="434.2" cy="552.6" r="6"/><circle cx="438.2" cy="553.8" r="6"/><circle cx="442.2" cy="553.1" r="6"/><circle cx="446.2" cy="553.3" r="6"/></g>
<path d="M198.3,631.8 L198.3,631.4 L198.8,631.3 L199.3,631.3 L199.8,631.3 L200.3,631.2 L200.8,631.2 L201.3,631.1 L201.8,631.1 L202.3,631 L202.8,630.9 L203.3,630.8 L203.8,630.8 L204.3,630.7 L204.8,630.6 L205.3,630.5 L205.8,630.4 L206.3,630.3 L206.8,630.2 L207.3,630 L207.8,629.9 L208.3,629.8 L208.8,629.6 L209.3,629.4 L209.8,629.3 L210.3,629.1 L210.8,628.9 L211.3,628.7 L211.8,628.4 L212.3,628.2 L212.8,628 L213.3,627.7 L213.8,627.4 L214.3,627.1 L214.8,626.8 L215.3,626.5 L215.8,626.1 L216.3,625.8 L216.8,625.4 L217.3,625 L217.8,624.6 L218.3,624.1 L218.8,623.7 L219.3,623.2 L219.8,622.7 L220.3,622.1 L220.8,621.6 L221.3,621 L221.8,620.4 L222.3,619.7 L222.8,619.1 L223.3,618.4 L223.8,617.7 L224.3,616.9 L224.8,616.2 L225.3,615.4 L225.8,614.5 L226.3,613.7 L226.8,612.8 L227.3,611.9 L227.8,610.9 L228.3,610 L228.8,609 L229.3,607.9 L229.8,606.9 L230.3,605.8 L230.8,604.7 L231.3,603.5 L231.8,602.3 L232.3,601.1 L232.8,599.9 L233.3,598.6 L233.8,597.3 L234.3,596 L234.8,594.7 L235.3,593.3 L235.8,592 L236.3,590.6 L236.8,589.1 L237.3,587.7 L237.8,586.2 L238.3,584.8 L238.8,583.3 L239.3,581.8 L239.8,580.3 L240.3,578.8 L240.8,577.2 L241.3,575.7 L241.8,574.2 L242.3,572.7 L242.8,571.1 L243.3,569.6 L243.8,568.1 L244.3,566.6 L244.8,565.1 L245.3,563.6 L245.8,562.1 L246.3,560.6 L246.8,559.2 L247.3,557.8 L247.8,556.4 L248.3,555 L248.8,553.7 L249.3,552.4 L249.8,551.1 L250.3,549.9 L250.8,548.7 L251.3,547.5 L251.8,546.4 L252.3,545.4 L252.8,544.3 L253.3,543.4 L253.8,542.5 L254.3,541.6 L254.8,540.8 L255.3,540 L255.8,539.3 L256.3,538.7 L256.8,538.1 L257.3,537.6 L257.8,537.2 L258.3,536.8 L258.8,536.4 L259.3,536.2 L259.8,536 L260.3,535.9 L260.8,535.8 L261.3,535.8 L261.8,536 L262.3,536.4 L262.8,536.9 L263.3,537.5 L263.8,538.4 L264.3,539.4 L264.8,540.5 L265.3,541.8 L265.8,543.2 L266.3,544.7 L266.8,546.4 L267.3,548.2 L267.8,550 L268.3,552 L268.8,554.1 L269.3,556.2 L269.8,558.4 L270.3,560.7 L270.8,563 L271.3,565.4 L271.8,567.8 L272.3,570.2 L272.8,572.6 L273.3,575 L273.8,577.4 L274.3,579.9 L274.8,582.2 L275.3,584.6 L275.8,586.9 L276.3,589.2 L276.8,591.5 L277.3,593.6 L277.8,595.8 L278.3,597.8 L278.8,599.8 L279.3,601.8 L279.8,603.7 L280.3,605.5 L280.8,607.2 L281.3,608.8 L281.8,610.4 L282.3,611.9 L282.8,613.4 L283.3,614.7 L283.8,616 L284.3,617.2 L284.8,618.4 L285.3,619.4 L285.8,620.5 L286.3,621.4 L286.8,622.3 L287.3,623.1 L287.8,623.9 L288.3,624.6 L288.8,625.2 L289.3,625.8 L289.8,626.4 L290.3,626.9 L290.8,627.4 L291.3,627.8 L291.8,628.2 L292.3,628.6 L292.8,628.9 L293.3,629.2 L293.8,629.5 L294.3,629.8 L294.8,630 L295.3,630.2 L295.8,630.4 L296.3,630.5 L296.8,630.7 L297.3,630.8 L297.8,630.9 L298.3,631 L298.8,631.1 L299.3,631.2 L299.8,631.3 L300.3,631.3 L300.6,631.8Z" fill="#42a6ff" stroke="#111" stroke-width="1"/>
<path d="M242.5,631.8 L242.5,631.6 L243,631.6 L243.5,631.6 L244,631.6 L244.5,631.5 L245,631.5 L245.5,631.5 L246,631.4 L246.5,631.4 L247,631.4 L247.5,631.3 L248,631.3 L248.5,631.2 L249,631.1 L249.5,631.1 L250,631 L250.5,630.9 L251,630.8 L251.5,630.8 L252,630.7 L252.5,630.6 L253,630.4 L253.5,630.3 L254,630.2 L254.5,630 L255,629.9 L255.5,629.7 L256,629.6 L256.5,629.4 L257,629.2 L257.5,629 L258,628.7 L258.5,628.5 L259,628.2 L259.5,628 L260,627.7 L260.5,627.4 L261,627.1 L261.5,626.7 L262,626.4 L262.5,626 L263,625.6 L263.5,625.2 L264,624.8 L264.5,624.3 L265,623.9 L265.5,623.4 L266,622.9 L266.5,622.4 L267,621.8 L267.5,621.3 L268,620.7 L268.5,620.1 L269,619.5 L269.5,618.8 L270,618.2 L270.5,617.5 L271,616.8 L271.5,616.1 L272,615.4 L272.5,614.6 L273,613.9 L273.5,613.1 L274,612.3 L274.5,611.5 L275,610.8 L275.5,610 L276,609.2 L276.5,608.3 L277,607.5 L277.5,606.7 L278,605.9 L278.5,605.1 L279,604.3 L279.5,603.5 L280,602.8 L280.5,602 L281,601.2 L281.5,600.5 L282,599.8 L282.5,599.1 L283,598.4 L283.5,597.7 L284,597.1 L284.5,596.5 L285,595.9 L285.5,595.4 L286,594.9 L286.5,594.4 L287,594 L287.5,593.6 L288,593.2 L288.5,592.9 L289,592.6 L289.5,592.4 L290,592.2 L290.5,592 L291,591.9 L291.5,591.8 L292,591.8 L292.5,591.8 L293,592 L293.5,592.2 L294,592.5 L294.5,592.8 L295,593.3 L295.5,593.8 L296,594.4 L296.5,595 L297,595.7 L297.5,596.5 L298,597.3 L298.5,598.2 L299,599.1 L299.5,600.1 L300,601.1 L300.5,602.1 L301,603.2 L301.5,604.3 L302,605.3 L302.5,606.4 L303,607.5 L303.5,608.6 L304,609.7 L304.5,610.8 L305,611.9 L305.5,613 L306,614 L306.5,615 L307,616 L307.5,617 L308,617.9 L308.5,618.8 L309,619.7 L309.5,620.5 L310,621.3 L310.5,622.1 L311,622.8 L311.5,623.5 L312,624.1 L312.5,624.8 L313,625.3 L313.5,625.9 L314,626.4 L314.5,626.9 L315,627.3 L315.5,627.7 L316,628.1 L316.5,628.5 L317,628.8 L317.5,629.1 L318,629.4 L318.5,629.6 L319,629.8 L319.5,630 L320,630.2 L320.5,630.4 L321,630.6 L321.5,630.7 L322,630.8 L322.5,630.9 L323,631 L323.5,631.1 L324,631.2 L324.5,631.3 L325,631.4 L325.5,631.4 L326,631.5 L326.5,631.5 L327,631.5 L327.5,631.6 L328,631.6 L328.3,631.8Z" fill="#ff8800" stroke="#111" stroke-width="1"/>
<path d="M198.3,631.8H328.3" stroke="#111" stroke-width="1.3"/>
<path d="M130,526.7 L131,540.1 L132,549.4 L133,557.8 L134,565.4 L135,571.4 L136,576.7 L137,581.6 L138,586 L139,593.2 L140,599.9 L141,605.4 L142,610 L143,614.1 L144,617.5 L145,620.2 L146,622.4 L147,623.8 L148,624.9 L149,625.8 L150,626.7 L151,627.3 L152,627.8 L153,628.3 L154,628.7 L155,628.9 L156,629 L157,629.2 L158,629.3 L159,629.3 L160,629.3 L161,629.3 L162,629.3 L163,629.3 L164,629.3 L165,629.3 L166,629.3 L167,629.3 L168,629.3 L169,629.3 L170,629.3 L171,629.3 L172,629.3 L173,629.3 L174,629.3 L175,629.3 L176,629.3 L177,629.3 L178,629.3 L179,629.3 L180,629.3 L181,629.3 L182,629.3 L183,629.3 L184,629.3 L185,629.3 L186,629.3 L187,629.3 L188,629.3 L189,629.3 L190,629.3 L191,629.4 L192,629.5 L193,629.7 L194,629.8 L195,629.8 L196,629.8 L197,629.8 L198,629.8 L199,629.9 L200,630 L201,630.2 L202,630.3 L203,630.3 L204,630.3 L205,630.3 L206,630.3 L207,629.9 L208,629.5 L209,629 L210,628.4 L211,627.8 L212,627.1 L213,626.4 L214,625.5 L215,624.7 L216,623.7 L217,622.6 L218,621.5 L219,620.2 L220,618.9 L221,617.4 L222,615.8 L223,614.1 L224,612.3 L225,610.4 L226,608.4 L227,606.2 L228,603.9 L229,601.5 L230,599 L231,596.4 L232,593.6 L233,590.8 L234,587.9 L235,584.9 L236,581.8 L237,578.6 L238,575.5 L239,572.2 L240,569 L241,565.8 L242,562.5 L243,559.3 L244,556.2 L245,553.1 L246,550.1 L247,547.2 L248,544.3 L249,541.7 L250,539.1 L251,536.7 L252,534.4 L253,532.3 L254,530.4 L255,528.7 L256,527.2 L257,525.8 L258,524.7 L259,524.1 L260,524.4 L261,525.5 L262,527.4 L263,529.9 L264,533.1 L265,536.7 L266,540.6 L267,544.7 L268,548.9 L269,553.1 L270,557.2 L271,561 L272,564.6 L273,567.8 L274,570.6 L275,573.1 L276,575.2 L277,576.9 L278,578.3 L279,579.4 L280,580.2 L281,580.8 L282,581.3 L283,581.6 L284,581.8 L285,582 L286,582.2 L287,582.4 L288,582.7 L289,583.1 L290,583.4 L291,583.9 L292,584.4 L293,584.9 L294,585.6 L295,586.3 L296,587.1 L297,588 L298,588.9 L299,589.9 L300,591 L301,592.2 L302,593.4 L303,594.6 L304,595.9 L305,597.2 L306,598.6 L307,599.9 L308,601.3 L309,602.7 L310,604.1 L311,605.5 L312,606.8 L313,608.2 L314,609.5 L315,610.8 L316,612.1 L317,613.3 L318,614.5 L319,615.7 L320,616.8 L321,617.8 L322,618.9 L323,619.8 L324,620.8 L325,621.6 L326,622.5 L327,623.2 L328,624 L329,624.7 L330,625.3 L331,625.9 L332,626.5 L333,627 L334,627.4 L335,627.9 L336,628.3 L337,628.6 L338,629 L339,629.3 L340,629.6 L341,629.8 L342,630 L343,630.2 L344,630.4 L345,630.6 L346,630.7 L347,630.9 L348,631 L349,631.1 L350,631.2 L351,631.3 L352,631.3 L353,631.4 L354,631.5 L355,631.5 L356,631.5 L357,631.6 L358,631.6 L359,631.6 L360,631.7 L361,631.7 L362,631.7 L363,631.7 L364,631.7 L365,631.7 L366,631.8 L367,631.8 L368,631.8 L369,631.8 L370,631.8 L371,631.8 L372,631.8 L373,631.8 L374,631.8 L375,631.8 L376,631.8 L377,631.8 L378,631.8 L379,631.8 L380,631.8 L381,631.8 L382,631.8 L383,631.8 L384,631.8 L385,631.8 L386,631.8 L387,631.8 L388,631.8 L389,631.8 L390,631.8 L391,631.8 L392,631.8 L393,631.8 L394,631.8 L395,631.8 L396,631.8 L397,631.8 L398,631.8 L399,631.8 L400,631.8 L401,631.8 L402,631.8 L403,631.8 L404,631.8 L405,631.8 L406,631.8 L407,631.8 L408,631.8 L409,631.8 L410,631.8 L411,631.8 L412,631.8 L413,631.8 L414,631.8 L415,631.8 L416,631.8 L417,631.8 L418,631.8 L419,631.8 L420,631.8 L421,631.8 L422,631.8 L423,631.8 L424,631.8 L425,631.8 L426,631.8 L427,631.8 L428,631.8 L429,631.8 L430,631.8 L431,631.8 L432,631.8 L433,631.8 L434,631.8 L435,631.8 L436,631.8 L437,631.8 L438,631.8 L439,631.8 L440,631.8 L441,631.8 L442,631.8 L443,631.8 L444,631.8 L445,631.8 L446,631.8" fill="none" stroke="#111" stroke-width="1"/>
<path d="M130.2,526.5v14 M134.2,560v14 M138.2,578.6v14 M142.2,604.1v14 M146.2,616.7v14 M150.2,620.9v14 M154.2,620.8v14 M158.2,624.8v14 M162.2,625v14 M166.2,622.6v14 M170.2,622.7v14 M174.2,621.7v14 M178.2,624.3v14 M182.2,621.5v14 M186.2,623.2v14 M190.2,621.7v14 M194.2,621.7v14 M198.2,623.8v14 M202.2,625.4v14 M206.2,623.5v14 M210.2,620.3v14 M214.2,619.5v14 M218.2,614.3v14 M222.2,609v14 M226.2,603.3v14 M230.2,593.4v14 M234.2,579.7v14 M238.2,571.2v14 M242.2,555.2v14 M246.2,543.7v14 M250.2,530.8v14 M254.2,522.9v14 M258.2,514.9v14 M262.2,523.2v14 M266.2,536.7v14 M270.2,549.4v14 M274.2,561.8v14 M278.2,568.9v14 M282.2,575.8v14 M286.2,574.7v14 M290.2,576.4v14 M294.2,578.2v14 M298.2,581.9v14 M302.2,585v14 M306.2,591.7v14 M310.2,595.2v14 M314.2,602.4v14 M318.2,608.2v14 M322.2,612.8v14 M326.2,615.4v14 M330.2,617.1v14 M334.2,620.6v14 M338.2,621.3v14 M342.2,625.3v14 M346.2,625.1v14 M350.2,624.2v14 M354.2,623.8v14 M358.2,623.5v14 M362.2,623.2v14 M366.2,624.1v14 M370.2,625.1v14 M374.2,625.6v14 M378.2,625.7v14 M382.2,628v14 M386.2,624.1v14 M390.2,624.7v14 M394.2,628.9v14 M398.2,622.4v14 M402.2,623.8v14 M406.2,625v14 M410.2,625v14 M414.2,625.4v14 M418.2,624.5v14 M422.2,625.3v14 M426.2,624.9v14 M430.2,626v14 M434.2,622.1v14 M438.2,623.2v14 M442.2,624.6v14 M446.2,623.3v14" stroke="#0a0a14" stroke-width="1.6"/>
<g fill="rgb(20,20,185)" stroke="#0a0a1e" stroke-width="2.1"><circle cx="130.2" cy="533.5" r="6"/><circle cx="134.2" cy="567" r="6"/><circle cx="138.2" cy="585.6" r="6"/><circle cx="142.2" cy="611.1" r="6"/><circle cx="146.2" cy="623.7" r="6"/><circle cx="150.2" cy="627.9" r="6"/><circle cx="154.2" cy="627.8" r="6"/><circle cx="158.2" cy="631.8" r="6"/><circle cx="162.2" cy="632" r="6"/><circle cx="166.2" cy="629.6" r="6"/><circle cx="170.2" cy="629.7" r="6"/><circle cx="174.2" cy="628.7" r="6"/><circle cx="178.2" cy="631.3" r="6"/><circle cx="182.2" cy="628.5" r="6"/><circle cx="186.2" cy="630.2" r="6"/><circle cx="190.2" cy="628.7" r="6"/><circle cx="194.2" cy="628.7" r="6"/><circle cx="198.2" cy="630.8" r="6"/><circle cx="202.2" cy="632.4" r="6"/><circle cx="206.2" cy="630.5" r="6"/><circle cx="210.2" cy="627.3" r="6"/><circle cx="214.2" cy="626.5" r="6"/><circle cx="218.2" cy="621.3" r="6"/><circle cx="222.2" cy="616" r="6"/><circle cx="226.2" cy="610.3" r="6"/><circle cx="230.2" cy="600.4" r="6"/><circle cx="234.2" cy="586.7" r="6"/><circle cx="238.2" cy="578.2" r="6"/><circle cx="242.2" cy="562.2" r="6"/><circle cx="246.2" cy="550.7" r="6"/><circle cx="250.2" cy="537.8" r="6"/><circle cx="254.2" cy="529.9" r="6"/><circle cx="258.2" cy="521.9" r="6"/><circle cx="262.2" cy="530.2" r="6"/><circle cx="266.2" cy="543.7" r="6"/><circle cx="270.2" cy="556.4" r="6"/><circle cx="274.2" cy="568.8" r="6"/><circle cx="278.2" cy="575.9" r="6"/><circle cx="282.2" cy="582.8" r="6"/><circle cx="286.2" cy="581.7" r="6"/><circle cx="290.2" cy="583.4" r="6"/><circle cx="294.2" cy="585.2" r="6"/><circle cx="298.2" cy="588.9" r="6"/><circle cx="302.2" cy="592" r="6"/><circle cx="306.2" cy="598.7" r="6"/><circle cx="310.2" cy="602.2" r="6"/><circle cx="314.2" cy="609.4" r="6"/><circle cx="318.2" cy="615.2" r="6"/><circle cx="322.2" cy="619.8" r="6"/><circle cx="326.2" cy="622.4" r="6"/><circle cx="330.2" cy="624.1" r="6"/><circle cx="334.2" cy="627.6" r="6"/><circle cx="338.2" cy="628.3" r="6"/><circle cx="342.2" cy="632.3" r="6"/><circle cx="346.2" cy="632.1" r="6"/><circle cx="350.2" cy="631.2" r="6"/><circle cx="354.2" cy="630.8" r="6"/><circle cx="358.2" cy="630.5" r="6"/><circle cx="362.2" cy="630.2" r="6"/><circle cx="366.2" cy="631.1" r="6"/><circle cx="370.2" cy="632.1" r="6"/><circle cx="374.2" cy="632.6" r="6"/><circle cx="378.2" cy="632.7" r="6"/><circle cx="382.2" cy="635" r="6"/><circle cx="386.2" cy="631.1" r="6"/><circle cx="390.2" cy="631.7" r="6"/><circle cx="394.2" cy="635.9" r="6"/><circle cx="398.2" cy="629.4" r="6"/><circle cx="402.2" cy="630.8" r="6"/><circle cx="406.2" cy="632" r="6"/><circle cx="410.2" cy="632" r="6"/><circle cx="414.2" cy="632.4" r="6"/><circle cx="418.2" cy="631.5" r="6"/><circle cx="422.2" cy="632.3" r="6"/><circle cx="426.2" cy="631.9" r="6"/><circle cx="430.2" cy="633" r="6"/><circle cx="434.2" cy="629.1" r="6"/><circle cx="438.2" cy="630.2" r="6"/><circle cx="442.2" cy="631.6" r="6"/><circle cx="446.2" cy="630.3" r="6"/></g>
<path d="M158.3,710.3 L158.3,709.8 L158.8,709.7 L159.3,709.7 L159.8,709.6 L160.3,709.6 L160.8,709.5 L161.3,709.5 L161.8,709.4 L162.3,709.3 L162.8,709.2 L163.3,709.1 L163.8,709 L164.3,708.9 L164.8,708.8 L165.3,708.7 L165.8,708.6 L166.3,708.4 L166.8,708.3 L167.3,708.1 L167.8,708 L168.3,707.8 L168.8,707.6 L169.3,707.4 L169.8,707.2 L170.3,706.9 L170.8,706.7 L171.3,706.4 L171.8,706.2 L172.3,705.9 L172.8,705.6 L173.3,705.3 L173.8,704.9 L174.3,704.5 L174.8,704.2 L175.3,703.8 L175.8,703.3 L176.3,702.9 L176.8,702.4 L177.3,701.9 L177.8,701.4 L178.3,700.9 L178.8,700.3 L179.3,699.7 L179.8,699.1 L180.3,698.4 L180.8,697.7 L181.3,697 L181.8,696.3 L182.3,695.5 L182.8,694.7 L183.3,693.8 L183.8,692.9 L184.3,692 L184.8,691.1 L185.3,690.1 L185.8,689.1 L186.3,688 L186.8,686.9 L187.3,685.8 L187.8,684.7 L188.3,683.5 L188.8,682.2 L189.3,681 L189.8,679.7 L190.3,678.3 L190.8,676.9 L191.3,675.5 L191.8,674.1 L192.3,672.6 L192.8,671.1 L193.3,669.5 L193.8,667.9 L194.3,666.3 L194.8,664.7 L195.3,663 L195.8,661.3 L196.3,659.6 L196.8,657.9 L197.3,656.1 L197.8,654.3 L198.3,652.5 L198.8,650.7 L199.3,648.8 L199.8,647 L200.3,645.1 L200.8,643.2 L201.3,641.4 L201.8,639.5 L202.3,637.6 L202.8,635.7 L203.3,633.8 L203.8,632 L204.3,630.1 L204.8,628.3 L205.3,626.4 L205.8,624.6 L206.3,622.8 L206.8,621.1 L207.3,619.3 L207.8,617.6 L208.3,615.9 L208.8,614.3 L209.3,612.7 L209.8,611.1 L210.3,609.6 L210.8,608.1 L211.3,606.7 L211.8,605.4 L212.3,604 L212.8,602.8 L213.3,601.6 L213.8,600.5 L214.3,599.4 L214.8,598.4 L215.3,597.5 L215.8,596.6 L216.3,595.9 L216.8,595.1 L217.3,594.5 L217.8,594 L218.3,593.5 L218.8,593.1 L219.3,592.8 L219.8,592.5 L220.3,592.4 L220.8,592.3 L221.3,592.3 L221.8,592.4 L222.3,592.6 L222.8,592.9 L223.3,593.2 L223.8,593.6 L224.3,594.2 L224.8,594.8 L225.3,595.4 L225.8,596.2 L226.3,597 L226.8,598 L227.3,598.9 L227.8,600 L228.3,601.1 L228.8,602.3 L229.3,603.6 L229.8,604.9 L230.3,606.3 L230.8,607.7 L231.3,609.2 L231.8,610.8 L232.3,612.4 L232.8,614 L233.3,615.7 L233.8,617.4 L234.3,619.2 L234.8,621 L235.3,622.8 L235.8,624.6 L236.3,626.5 L236.8,628.4 L237.3,630.3 L237.8,632.2 L238.3,634.1 L238.8,636 L239.3,638 L239.8,639.9 L240.3,641.8 L240.8,643.8 L241.3,645.7 L241.8,647.6 L242.3,649.5 L242.8,651.4 L243.3,653.2 L243.8,655.1 L244.3,656.9 L244.8,658.7 L245.3,660.5 L245.8,662.3 L246.3,664 L246.8,665.7 L247.3,667.3 L247.8,669 L248.3,670.6 L248.8,672.1 L249.3,673.7 L249.8,675.2 L250.3,676.6 L250.8,678.1 L251.3,679.4 L251.8,680.8 L252.3,682.1 L252.8,683.4 L253.3,684.6 L253.8,685.8 L254.3,686.9 L254.8,688.1 L255.3,689.1 L255.8,690.2 L256.3,691.2 L256.8,692.2 L257.3,693.1 L257.8,694 L258.3,694.8 L258.8,695.7 L259.3,696.5 L259.8,697.2 L260.3,697.9 L260.8,698.6 L261.3,699.3 L261.8,699.9 L262.3,700.5 L262.8,701.1 L263.3,701.7 L263.8,702.2 L264.3,702.7 L264.8,703.1 L265.3,703.6 L265.8,704 L266.3,704.4 L266.8,704.8 L267.3,705.2 L267.8,705.5 L268.3,705.8 L268.8,706.1 L269.3,706.4 L269.8,706.7 L270.3,706.9 L270.8,707.1 L271.3,707.4 L271.8,707.6 L272.3,707.8 L272.8,708 L273.3,708.1 L273.8,708.3 L274.3,708.4 L274.8,708.6 L275.3,708.7 L275.8,708.8 L276.3,708.9 L276.8,709.1 L277.3,709.1 L277.8,709.2 L278.3,709.3 L278.8,709.4 L279.3,709.5 L279.8,709.5 L280.3,709.6 L280.8,709.7 L281.3,709.7 L281.8,709.8 L282.1,710.3Z" fill="#42a6ff" stroke="#111" stroke-width="1"/>
<path d="M203.3,710.3 L203.3,710.2 L203.8,710.2 L204.3,710.1 L204.8,710.1 L205.3,710.1 L205.8,710.1 L206.3,710.1 L206.8,710.1 L207.3,710 L207.8,710 L208.3,710 L208.8,710 L209.3,709.9 L209.8,709.9 L210.3,709.9 L210.8,709.8 L211.3,709.8 L211.8,709.8 L212.3,709.7 L212.8,709.7 L213.3,709.6 L213.8,709.6 L214.3,709.5 L214.8,709.5 L215.3,709.4 L215.8,709.4 L216.3,709.3 L216.8,709.2 L217.3,709.1 L217.8,709.1 L218.3,709 L218.8,708.9 L219.3,708.8 L219.8,708.7 L220.3,708.6 L220.8,708.5 L221.3,708.4 L221.8,708.2 L222.3,708.1 L222.8,708 L223.3,707.8 L223.8,707.7 L224.3,707.5 L224.8,707.3 L225.3,707.2 L225.8,707 L226.3,706.8 L226.8,706.6 L227.3,706.4 L227.8,706.2 L228.3,706 L228.8,705.7 L229.3,705.5 L229.8,705.3 L230.3,705 L230.8,704.7 L231.3,704.5 L231.8,704.2 L232.3,703.9 L232.8,703.6 L233.3,703.3 L233.8,702.9 L234.3,702.6 L234.8,702.2 L235.3,701.9 L235.8,701.5 L236.3,701.2 L236.8,700.8 L237.3,700.4 L237.8,700 L238.3,699.6 L238.8,699.2 L239.3,698.8 L239.8,698.3 L240.3,697.9 L240.8,697.4 L241.3,697 L241.8,696.5 L242.3,696.1 L242.8,695.6 L243.3,695.1 L243.8,694.6 L244.3,694.2 L244.8,693.7 L245.3,693.2 L245.8,692.7 L246.3,692.2 L246.8,691.7 L247.3,691.2 L247.8,690.7 L248.3,690.2 L248.8,689.7 L249.3,689.2 L249.8,688.7 L250.3,688.3 L250.8,687.8 L251.3,687.3 L251.8,686.9 L252.3,686.4 L252.8,685.9 L253.3,685.5 L253.8,685.1 L254.3,684.7 L254.8,684.2 L255.3,683.8 L255.8,683.5 L256.3,683.1 L256.8,682.7 L257.3,682.4 L257.8,682.1 L258.3,681.7 L258.8,681.4 L259.3,681.2 L259.8,680.9 L260.3,680.7 L260.8,680.4 L261.3,680.2 L261.8,680 L262.3,679.9 L262.8,679.7 L263.3,679.6 L263.8,679.5 L264.3,679.4 L264.8,679.4 L265.3,679.3 L265.8,679.3 L266.3,679.3 L266.8,679.4 L267.3,679.5 L267.8,679.6 L268.3,679.8 L268.8,680 L269.3,680.3 L269.8,680.6 L270.3,681 L270.8,681.3 L271.3,681.8 L271.8,682.2 L272.3,682.7 L272.8,683.3 L273.3,683.8 L273.8,684.4 L274.3,685 L274.8,685.6 L275.3,686.3 L275.8,687 L276.3,687.7 L276.8,688.3 L277.3,689.1 L277.8,689.8 L278.3,690.5 L278.8,691.2 L279.3,691.9 L279.8,692.7 L280.3,693.4 L280.8,694.1 L281.3,694.8 L281.8,695.5 L282.3,696.2 L282.8,696.9 L283.3,697.5 L283.8,698.2 L284.3,698.8 L284.8,699.4 L285.3,700 L285.8,700.6 L286.3,701.1 L286.8,701.7 L287.3,702.2 L287.8,702.7 L288.3,703.2 L288.8,703.6 L289.3,704.1 L289.8,704.5 L290.3,704.9 L290.8,705.3 L291.3,705.6 L291.8,706 L292.3,706.3 L292.8,706.6 L293.3,706.9 L293.8,707.1 L294.3,707.4 L294.8,707.6 L295.3,707.9 L295.8,708.1 L296.3,708.3 L296.8,708.4 L297.3,708.6 L297.8,708.7 L298.3,708.9 L298.8,709 L299.3,709.1 L299.8,709.2 L300.3,709.3 L300.8,709.4 L301.3,709.5 L301.8,709.6 L302.3,709.7 L302.8,709.7 L303.3,709.8 L303.8,709.8 L304.3,709.9 L304.8,709.9 L305.3,710 L305.8,710 L306.3,710 L306.8,710.1 L307.3,710.1 L307.8,710.1 L308.3,710.1 L308.8,710.2 L308.9,710.3Z" fill="#ff8800" stroke="#111" stroke-width="1"/>
<path d="M158.3,710.3H308.9" stroke="#111" stroke-width="1.3"/>
<path d="M130,394.9 L131,436.5 L132,466 L133,492.4 L134,515.9 L135,537 L136,555.8 L137,572.6 L138,587.5 L139,601.1 L140,613.2 L141,623.9 L142,633.5 L143,642.6 L144,650.7 L145,657.8 L146,664.1 L147,669.4 L148,674 L149,678 L150,681.6 L151,684.1 L152,686.2 L153,688.2 L154,690 L155,690.9 L156,691.7 L157,692.5 L158,693.2 L159,693.5 L160,693.8 L161,694 L162,694.3 L163,694.3 L164,694.3 L165,694.3 L166,694.3 L167,694.8 L168,695.4 L169,695.9 L170,696.4 L171,696.8 L172,697.1 L173,697.4 L174,697.6 L175,697.6 L176,697.6 L177,697.5 L178,697.3 L179,696.9 L180,696.5 L181,695.9 L182,695.1 L183,694.2 L184,693.2 L185,691.9 L186,690.5 L187,688.9 L188,687 L189,685 L190,682.8 L191,680.3 L192,677.6 L193,674.7 L194,671.6 L195,668.3 L196,664.8 L197,661.1 L198,657.3 L199,653.3 L200,649.1 L201,644.9 L202,640.6 L203,636.3 L204,631.9 L205,627.6 L206,623.3 L207,619.2 L208,615.2 L209,611.4 L210,607.8 L211,604.5 L212,601.4 L213,598.8 L214,596.4 L215,594.5 L216,592.9 L217,591.8 L218,591.2 L219,590.9 L220,591.1 L221,591.5 L222,592.2 L223,593.2 L224,594.4 L225,595.8 L226,597.5 L227,599.4 L228,601.5 L229,603.8 L230,606.3 L231,608.8 L232,611.5 L233,614.3 L234,617.1 L235,620 L236,622.9 L237,625.7 L238,628.6 L239,631.4 L240,634.1 L241,636.8 L242,639.3 L243,641.7 L244,644 L245,646.2 L246,648.2 L247,650 L248,651.8 L249,653.3 L250,654.8 L251,656 L252,657.2 L253,658.2 L254,659.2 L255,660 L256,660.8 L257,661.5 L258,662.2 L259,662.8 L260,663.4 L261,664 L262,664.7 L263,665.4 L264,666.1 L265,666.9 L266,667.7 L267,668.6 L268,669.5 L269,670.3 L270,671.1 L271,672 L272,672.8 L273,673.6 L274,674.4 L275,675.3 L276,676.1 L277,677 L278,677.8 L279,678.7 L280,679.6 L281,680.5 L282,681.4 L283,682.3 L284,683.2 L285,684.2 L286,685.1 L287,686 L288,687 L289,687.9 L290,688.8 L291,689.7 L292,690.7 L293,691.6 L294,692.4 L295,693.3 L296,694.2 L297,695 L298,695.8 L299,696.6 L300,697.4 L301,698.2 L302,698.9 L303,699.6 L304,700.3 L305,700.9 L306,701.5 L307,702.1 L308,702.7 L309,703.2 L310,703.7 L311,704.1 L312,704.5 L313,704.8 L314,705 L315,705.2 L316,705.2 L317,705.1 L318,704.9 L319,704.6 L320,704.2 L321,703.7 L322,703.1 L323,702.6 L324,702 L325,701.5 L326,701.2 L327,701 L328,701.1 L329,701.3 L330,701.7 L331,702.3 L332,703.1 L333,703.9 L334,704.8 L335,705.7 L336,706.5 L337,707.3 L338,707.9 L339,708.5 L340,708.9 L341,709.3 L342,709.5 L343,709.7 L344,709.9 L345,710 L346,710.1 L347,710.1 L348,710.2 L349,710.2 L350,710.2 L351,710.2 L352,710.2 L353,710.2 L354,710.3 L355,710.3 L356,710.3 L357,710.3 L358,710.3 L359,710.3 L360,710.3 L361,710.3 L362,710.3 L363,710.3 L364,710.3 L365,710.3 L366,710.3 L367,710.3 L368,710.3 L369,710.3 L370,710.3 L371,710.3 L372,710.3 L373,710.3 L374,710.3 L375,710.3 L376,710.3 L377,710.3 L378,710.3 L379,710.3 L380,710.3 L381,710.3 L382,710.3 L383,710.3 L384,710.3 L385,710.3 L386,710.3 L387,710.3 L388,710.3 L389,710.3 L390,710.3 L391,710.3 L392,710.3 L393,710.3 L394,710.3 L395,710.3 L396,710.3 L397,710.3 L398,710.3 L399,710.3 L400,710.3 L401,710.3 L402,710.3 L403,710.3 L404,710.3 L405,710.3 L406,710.3 L407,710.3 L408,710.3 L409,710.3 L410,710.3 L411,710.3 L412,710.3 L413,710.3 L414,710.3 L415,710.3 L416,710.3 L417,710.3 L418,710.3 L419,710.3 L420,710.3 L421,710.3 L422,710.3 L423,710.3 L424,710.3 L425,710.3 L426,710.3 L427,710.3 L428,710.3 L429,710.3 L430,710.3 L431,710.3 L432,710.3 L433,710.3 L434,710.3 L435,710.3 L436,710.3 L437,710.3 L438,710.3 L439,710.3 L440,710.3 L441,710.3 L442,710.3 L443,710.3 L444,710.3 L445,710.3 L446,710.3" fill="none" stroke="#111" stroke-width="1"/>
<path d="M130.2,404v14 M134.2,512.6v14 M138.2,583.1v14 M142.2,629.4v14 M146.2,657.1v14 M150.2,676.1v14 M154.2,686.1v14 M158.2,685.8v14 M162.2,687.5v14 M166.2,687.1v14 M170.2,691.8v14 M174.2,691.3v14 M178.2,691.6v14 M182.2,687.1v14 M186.2,683.1v14 M190.2,675.3v14 M194.2,661.3v14 M198.2,651.4v14 M202.2,634.3v14 M206.2,613.1v14 M210.2,601v14 M214.2,588.9v14 M218.2,584.7v14 M222.2,586v14 M226.2,588.7v14 M230.2,599.2v14 M234.2,612.8v14 M238.2,621.5v14 M242.2,631.2v14 M246.2,639.4v14 M250.2,646v14 M254.2,652.6v14 M258.2,657.8v14 M262.2,658.7v14 M266.2,661.4v14 M270.2,667.7v14 M274.2,667.2v14 M278.2,670v14 M282.2,675.3v14 M286.2,679.2v14 M290.2,680.6v14 M294.2,683.7v14 M298.2,689.2v14 M302.2,692.4v14 M306.2,692.8v14 M310.2,696.3v14 M314.2,697.2v14 M318.2,698.5v14 M322.2,695.9v14 M326.2,694v14 M330.2,694.3v14 M334.2,699.5v14 M338.2,703.2v14 M342.2,702.3v14 M346.2,704.3v14 M350.2,702.2v14 M354.2,703.3v14 M358.2,704.4v14 M362.2,705.6v14 M366.2,703v14 M370.2,703.2v14 M374.2,703.6v14 M378.2,701.1v14 M382.2,703.1v14 M386.2,702.3v14 M390.2,703.7v14 M394.2,701.7v14 M398.2,700.2v14 M402.2,703v14 M406.2,703.7v14 M410.2,702.5v14 M414.2,704.5v14 M418.2,703v14 M422.2,702.4v14 M426.2,703.9v14 M430.2,701v14 M434.2,702.1v14 M438.2,703.1v14 M442.2,704.5v14 M446.2,703.2v14" stroke="#0a0a14" stroke-width="1.6"/>
<g fill="rgb(16,16,155)" stroke="#0a0a1e" stroke-width="2.1"><circle cx="130.2" cy="411" r="6"/><circle cx="134.2" cy="519.6" r="6"/><circle cx="138.2" cy="590.1" r="6"/><circle cx="142.2" cy="636.4" r="6"/><circle cx="146.2" cy="664.1" r="6"/><circle cx="150.2" cy="683.1" r="6"/><circle cx="154.2" cy="693.1" r="6"/><circle cx="158.2" cy="692.8" r="6"/><circle cx="162.2" cy="694.5" r="6"/><circle cx="166.2" cy="694.1" r="6"/><circle cx="170.2" cy="698.8" r="6"/><circle cx="174.2" cy="698.3" r="6"/><circle cx="178.2" cy="698.6" r="6"/><circle cx="182.2" cy="694.1" r="6"/><circle cx="186.2" cy="690.1" r="6"/><circle cx="190.2" cy="682.3" r="6"/><circle cx="194.2" cy="668.3" r="6"/><circle cx="198.2" cy="658.4" r="6"/><circle cx="202.2" cy="641.3" r="6"/><circle cx="206.2" cy="620.1" r="6"/><circle cx="210.2" cy="608" r="6"/><circle cx="214.2" cy="595.9" r="6"/><circle cx="218.2" cy="591.7" r="6"/><circle cx="222.2" cy="593" r="6"/><circle cx="226.2" cy="595.7" r="6"/><circle cx="230.2" cy="606.2" r="6"/><circle cx="234.2" cy="619.8" r="6"/><circle cx="238.2" cy="628.5" r="6"/><circle cx="242.2" cy="638.2" r="6"/><circle cx="246.2" cy="646.4" r="6"/><circle cx="250.2" cy="653" r="6"/><circle cx="254.2" cy="659.6" r="6"/><circle cx="258.2" cy="664.8" r="6"/><circle cx="262.2" cy="665.7" r="6"/><circle cx="266.2" cy="668.4" r="6"/><circle cx="270.2" cy="674.7" r="6"/><circle cx="274.2" cy="674.2" r="6"/><circle cx="278.2" cy="677" r="6"/><circle cx="282.2" cy="682.3" r="6"/><circle cx="286.2" cy="686.2" r="6"/><circle cx="290.2" cy="687.6" r="6"/><circle cx="294.2" cy="690.7" r="6"/><circle cx="298.2" cy="696.2" r="6"/><circle cx="302.2" cy="699.4" r="6"/><circle cx="306.2" cy="699.8" r="6"/><circle cx="310.2" cy="703.3" r="6"/><circle cx="314.2" cy="704.2" r="6"/><circle cx="318.2" cy="705.5" r="6"/><circle cx="322.2" cy="702.9" r="6"/><circle cx="326.2" cy="701" r="6"/><circle cx="330.2" cy="701.3" r="6"/><circle cx="334.2" cy="706.5" r="6"/><circle cx="338.2" cy="710.2" r="6"/><circle cx="342.2" cy="709.3" r="6"/><circle cx="346.2" cy="711.3" r="6"/><circle cx="350.2" cy="709.2" r="6"/><circle cx="354.2" cy="710.3" r="6"/><circle cx="358.2" cy="711.4" r="6"/><circle cx="362.2" cy="712.6" r="6"/><circle cx="366.2" cy="710" r="6"/><circle cx="370.2" cy="710.2" r="6"/><circle cx="374.2" cy="710.6" r="6"/><circle cx="378.2" cy="708.1" r="6"/><circle cx="382.2" cy="710.1" r="6"/><circle cx="386.2" cy="709.3" r="6"/><circle cx="390.2" cy="710.7" r="6"/><circle cx="394.2" cy="708.7" r="6"/><circle cx="398.2" cy="707.2" r="6"/><circle cx="402.2" cy="710" r="6"/><circle cx="406.2" cy="710.7" r="6"/><circle cx="410.2" cy="709.5" r="6"/><circle cx="414.2" cy="711.5" r="6"/><circle cx="418.2" cy="710" r="6"/><circle cx="422.2" cy="709.4" r="6"/><circle cx="426.2" cy="710.9" r="6"/><circle cx="430.2" cy="708" r="6"/><circle cx="434.2" cy="709.1" r="6"/><circle cx="438.2" cy="710.1" r="6"/><circle cx="442.2" cy="711.5" r="6"/><circle cx="446.2" cy="710.2" r="6"/></g>
<path d="M114.7,790.3 L114.7,789.7 L115.2,789.6 L115.7,789.6 L116.2,789.5 L116.7,789.5 L117.2,789.4 L117.7,789.3 L118.2,789.2 L118.7,789.2 L119.2,789.1 L119.7,789 L120.2,788.9 L120.7,788.8 L121.2,788.7 L121.7,788.5 L122.2,788.4 L122.7,788.3 L123.2,788.1 L123.7,788 L124.2,787.8 L124.7,787.6 L125.2,787.4 L125.7,787.2 L126.2,787 L126.7,786.8 L127.2,786.6 L127.7,786.3 L128.2,786.1 L128.7,785.8 L129.2,785.5 L129.7,785.2 L130.2,784.9 L130.7,784.6 L131.2,784.2 L131.7,783.8 L132.2,783.4 L132.7,783 L133.2,782.6 L133.7,782.1 L134.2,781.6 L134.7,781.1 L135.2,780.6 L135.7,780.1 L136.2,779.5 L136.7,778.9 L137.2,778.3 L137.7,777.6 L138.2,776.9 L138.7,776.2 L139.2,775.5 L139.7,774.7 L140.2,773.9 L140.7,773.1 L141.2,772.3 L141.7,771.4 L142.2,770.4 L142.7,769.5 L143.2,768.5 L143.7,767.5 L144.2,766.4 L144.7,765.3 L145.2,764.2 L145.7,763 L146.2,761.8 L146.7,760.6 L147.2,759.3 L147.7,758 L148.2,756.6 L148.7,755.2 L149.2,753.8 L149.7,752.4 L150.2,750.9 L150.7,749.3 L151.2,747.8 L151.7,746.2 L152.2,744.5 L152.7,742.9 L153.2,741.2 L153.7,739.4 L154.2,737.7 L154.7,735.9 L155.2,734.1 L155.7,732.2 L156.2,730.3 L156.7,728.4 L157.2,726.5 L157.7,724.6 L158.2,722.6 L158.7,720.6 L159.2,718.6 L159.7,716.6 L160.2,714.5 L160.7,712.5 L161.2,710.4 L161.7,708.4 L162.2,706.3 L162.7,704.2 L163.2,702.1 L163.7,700 L164.2,698 L164.7,695.9 L165.2,693.8 L165.7,691.8 L166.2,689.8 L166.7,687.7 L167.2,685.7 L167.7,683.8 L168.2,681.8 L168.7,679.9 L169.2,678 L169.7,676.1 L170.2,674.3 L170.7,672.5 L171.2,670.7 L171.7,669 L172.2,667.3 L172.7,665.7 L173.2,664.1 L173.7,662.6 L174.2,661.2 L174.7,659.8 L175.2,658.4 L175.7,657.1 L176.2,655.9 L176.7,654.7 L177.2,653.7 L177.7,652.6 L178.2,651.7 L178.7,650.8 L179.2,650 L179.7,649.3 L180.2,648.6 L180.7,648.1 L181.2,647.6 L181.7,647.2 L182.2,646.8 L182.7,646.6 L183.2,646.4 L183.7,646.3 L184.2,646.3 L184.7,646.4 L185.2,646.6 L185.7,646.9 L186.2,647.3 L186.7,647.7 L187.2,648.3 L187.7,649 L188.2,649.8 L188.7,650.6 L189.2,651.6 L189.7,652.6 L190.2,653.8 L190.7,655 L191.2,656.3 L191.7,657.7 L192.2,659.1 L192.7,660.6 L193.2,662.2 L193.7,663.9 L194.2,665.6 L194.7,667.4 L195.2,669.3 L195.7,671.2 L196.2,673.1 L196.7,675.1 L197.2,677.2 L197.7,679.3 L198.2,681.4 L198.7,683.5 L199.2,685.7 L199.7,687.9 L200.2,690.2 L200.7,692.4 L201.2,694.7 L201.7,697 L202.2,699.3 L202.7,701.6 L203.2,703.9 L203.7,706.2 L204.2,708.5 L204.7,710.8 L205.2,713 L205.7,715.3 L206.2,717.5 L206.7,719.8 L207.2,722 L207.7,724.2 L208.2,726.3 L208.7,728.4 L209.2,730.5 L209.7,732.6 L210.2,734.7 L210.7,736.7 L211.2,738.6 L211.7,740.5 L212.2,742.4 L212.7,744.3 L213.2,746.1 L213.7,747.9 L214.2,749.6 L214.7,751.3 L215.2,752.9 L215.7,754.5 L216.2,756 L216.7,757.6 L217.2,759 L217.7,760.4 L218.2,761.8 L218.7,763.1 L219.2,764.4 L219.7,765.7 L220.2,766.9 L220.7,768 L221.2,769.1 L221.7,770.2 L222.2,771.2 L222.7,772.2 L223.2,773.2 L223.7,774.1 L224.2,774.9 L224.7,775.8 L225.2,776.6 L225.7,777.3 L226.2,778.1 L226.7,778.8 L227.2,779.4 L227.7,780.1 L228.2,780.7 L228.7,781.3 L229.2,781.8 L229.7,782.3 L230.2,782.8 L230.7,783.3 L231.2,783.7 L231.7,784.1 L232.2,784.5 L232.7,784.9 L233.2,785.3 L233.7,785.6 L234.2,785.9 L234.7,786.2 L235.2,786.5 L235.7,786.7 L236.2,787 L236.7,787.2 L237.2,787.4 L237.7,787.6 L238.2,787.8 L238.7,788 L239.2,788.2 L239.7,788.3 L240.2,788.5 L240.7,788.6 L241.2,788.8 L241.7,788.9 L242.2,789 L242.7,789.1 L243.2,789.2 L243.7,789.3 L244.2,789.3 L244.7,789.4 L245.2,789.5 L245.7,789.6 L246.2,789.6 L246.7,789.7 L246.7,790.3Z" fill="#42a6ff" stroke="#111" stroke-width="1"/>
<path d="M186.9,790.3 L186.9,790.2 L187.4,790.2 L187.9,790.1 L188.4,790.1 L188.9,790.1 L189.4,790.1 L189.9,790.1 L190.4,790.1 L190.9,790 L191.4,790 L191.9,790 L192.4,790 L192.9,789.9 L193.4,789.9 L193.9,789.9 L194.4,789.8 L194.9,789.8 L195.4,789.7 L195.9,789.7 L196.4,789.6 L196.9,789.6 L197.4,789.5 L197.9,789.4 L198.4,789.4 L198.9,789.3 L199.4,789.2 L199.9,789.1 L200.4,789 L200.9,788.9 L201.4,788.8 L201.9,788.7 L202.4,788.6 L202.9,788.5 L203.4,788.4 L203.9,788.2 L204.4,788.1 L204.9,787.9 L205.4,787.8 L205.9,787.6 L206.4,787.4 L206.9,787.3 L207.4,787.1 L207.9,786.9 L208.4,786.6 L208.9,786.4 L209.4,786.2 L209.9,785.9 L210.4,785.7 L210.9,785.4 L211.4,785.1 L211.9,784.9 L212.4,784.6 L212.9,784.3 L213.4,783.9 L213.9,783.6 L214.4,783.3 L214.9,782.9 L215.4,782.5 L215.9,782.2 L216.4,781.8 L216.9,781.4 L217.4,781 L217.9,780.5 L218.4,780.1 L218.9,779.7 L219.4,779.2 L219.9,778.8 L220.4,778.3 L220.9,777.8 L221.4,777.4 L221.9,776.9 L222.4,776.4 L222.9,775.9 L223.4,775.4 L223.9,774.9 L224.4,774.4 L224.9,773.8 L225.4,773.3 L225.9,772.8 L226.4,772.3 L226.9,771.8 L227.4,771.3 L227.9,770.8 L228.4,770.2 L228.9,769.7 L229.4,769.2 L229.9,768.7 L230.4,768.3 L230.9,767.8 L231.4,767.3 L231.9,766.9 L232.4,766.4 L232.9,766 L233.4,765.6 L233.9,765.2 L234.4,764.8 L234.9,764.4 L235.4,764.1 L235.9,763.7 L236.4,763.4 L236.9,763.1 L237.4,762.8 L237.9,762.6 L238.4,762.3 L238.9,762.1 L239.4,761.9 L239.9,761.8 L240.4,761.6 L240.9,761.5 L241.4,761.4 L241.9,761.4 L242.4,761.3 L242.9,761.3 L243.4,761.3 L243.9,761.3 L244.4,761.4 L244.9,761.4 L245.4,761.5 L245.9,761.6 L246.4,761.6 L246.9,761.8 L247.4,761.9 L247.9,762 L248.4,762.2 L248.9,762.3 L249.4,762.5 L249.9,762.7 L250.4,762.9 L250.9,763.1 L251.4,763.3 L251.9,763.6 L252.4,763.8 L252.9,764.1 L253.4,764.4 L253.9,764.6 L254.4,764.9 L254.9,765.2 L255.4,765.6 L255.9,765.9 L256.4,766.2 L256.9,766.5 L257.4,766.9 L257.9,767.2 L258.4,767.6 L258.9,768 L259.4,768.3 L259.9,768.7 L260.4,769.1 L260.9,769.5 L261.4,769.9 L261.9,770.2 L262.4,770.6 L262.9,771 L263.4,771.4 L263.9,771.8 L264.4,772.2 L264.9,772.6 L265.4,773 L265.9,773.4 L266.4,773.8 L266.9,774.2 L267.4,774.6 L267.9,775 L268.4,775.4 L268.9,775.8 L269.4,776.2 L269.9,776.6 L270.4,776.9 L270.9,777.3 L271.4,777.7 L271.9,778.1 L272.4,778.4 L272.9,778.8 L273.4,779.1 L273.9,779.5 L274.4,779.8 L274.9,780.2 L275.4,780.5 L275.9,780.8 L276.4,781.1 L276.9,781.5 L277.4,781.8 L277.9,782.1 L278.4,782.4 L278.9,782.6 L279.4,782.9 L279.9,783.2 L280.4,783.5 L280.9,783.7 L281.4,784 L281.9,784.2 L282.4,784.5 L282.9,784.7 L283.4,784.9 L283.9,785.1 L284.4,785.4 L284.9,785.6 L285.4,785.8 L285.9,786 L286.4,786.2 L286.9,786.3 L287.4,786.5 L287.9,786.7 L288.4,786.9 L288.9,787 L289.4,787.2 L289.9,787.3 L290.4,787.5 L290.9,787.6 L291.4,787.7 L291.9,787.8 L292.4,788 L292.9,788.1 L293.4,788.2 L293.9,788.3 L294.4,788.4 L294.9,788.5 L295.4,788.6 L295.9,788.7 L296.4,788.8 L296.9,788.9 L297.4,788.9 L297.9,789 L298.4,789.1 L298.9,789.2 L299.4,789.2 L299.9,789.3 L300.4,789.3 L300.9,789.4 L301.4,789.4 L301.9,789.5 L302.4,789.5 L302.9,789.6 L303.4,789.6 L303.9,789.7 L304.4,789.7 L304.9,789.7 L305.4,789.8 L305.9,789.8 L306.4,789.8 L306.9,789.9 L307.4,789.9 L307.9,789.9 L308.4,790 L308.9,790 L309.4,790 L309.9,790 L310.4,790 L310.9,790.1 L311.4,790.1 L311.9,790.1 L312.4,790.1 L312.9,790.1 L313.4,790.1 L313.9,790.1 L314.4,790.2 L314.9,790.2 L315.4,790.2 L315.6,790.3Z" fill="#ff8800" stroke="#111" stroke-width="1"/>
<path d="M331,790.3 L331,790.3 L331.5,790.1 L332,789.9 L332.5,789.7 L333,789.5 L333.5,789.2 L334,789 L334.5,788.8 L335,788.5 L335.5,788.3 L336,788 L336.5,787.8 L337,787.5 L337.5,787.2 L338,787 L338.5,786.7 L339,786.5 L339.5,786.2 L340,785.9 L340.5,785.7 L341,785.4 L341.5,785.1 L342,784.8 L342.5,784.6 L343,784.3 L343.5,784.6 L344,785 L344.5,785.3 L345,785.6 L345.5,785.9 L346,786.2 L346.5,786.6 L347,786.9 L347.5,787.2 L348,787.5 L348.5,787.8 L349,788.1 L349.5,788.4 L350,788.7 L350.5,789 L351,789.3 L351.5,789.6 L352,789.8 L352.5,790.1 L353,790.3 L353,790.3Z" fill="#42a6ff" stroke="#111" stroke-width="1"/>
<path d="M114.7,790.3H353" stroke="#111" stroke-width="1.3"/>
<path d="M130,306.7 L131,368 L132,410.8 L133,449.3 L134,483.8 L135,513.7 L136,540.3 L137,564.4 L138,586.2 L139,601.5 L140,614.6 L141,626.8 L142,638.1 L143,645.7 L144,652.1 L145,658.3 L146,664.2 L147,668 L148,671.3 L149,674.5 L150,677.7 L151,679.5 L152,681 L153,682.5 L154,684 L155,684.9 L156,685.7 L157,686.4 L158,687.2 L159,687.9 L160,688.7 L161,689.4 L162,690.2 L163,691.8 L164,692.9 L165,693.2 L166,692.8 L167,691.5 L168,689.6 L169,687 L170,683.8 L171,680.2 L172,676 L173,671.6 L174,667 L175,662.4 L176,657.9 L177,653.6 L178,649.7 L179,646.3 L180,643.6 L181,641.6 L182,640.5 L183,640.3 L184,641 L185,642.4 L186,644.2 L187,646.3 L188,648.8 L189,651.7 L190,654.8 L191,658.3 L192,662 L193,666 L194,670.2 L195,674.5 L196,679.1 L197,683.7 L198,688.4 L199,693.2 L200,697.9 L201,702.7 L202,707.3 L203,711.9 L204,716.4 L205,720.7 L206,724.8 L207,728.7 L208,732.4 L209,735.9 L210,739.1 L211,742.1 L212,744.8 L213,747.2 L214,749.4 L215,751.3 L216,752.9 L217,754.3 L218,755.5 L219,756.4 L220,757.1 L221,757.6 L222,757.8 L223,757.9 L224,757.9 L225,757.7 L226,757.4 L227,757 L228,756.5 L229,755.9 L230,755.3 L231,754.6 L232,753.9 L233,753.3 L234,752.6 L235,752 L236,751.4 L237,750.9 L238,750.5 L239,750.1 L240,749.8 L241,749.6 L242,749.6 L243,749.6 L244,749.7 L245,749.9 L246,750.2 L247,750.5 L248,750.9 L249,751.4 L250,752 L251,752.6 L252,753.3 L253,754 L254,754.8 L255,755.6 L256,756.5 L257,757.5 L258,758.4 L259,759.5 L260,760.5 L261,761.6 L262,762.6 L263,763.7 L264,764.8 L265,766 L266,767.1 L267,768.2 L268,769.3 L269,770.3 L270,771.4 L271,772.4 L272,773.5 L273,774.5 L274,775.4 L275,776.4 L276,777.3 L277,778.1 L278,779 L279,779.8 L280,780.5 L281,781.3 L282,782 L283,782.6 L284,783.2 L285,783.8 L286,784.4 L287,784.9 L288,785.3 L289,785.8 L290,786.2 L291,786.6 L292,786.9 L293,787.3 L294,787.6 L295,787.8 L296,788.1 L297,788.3 L298,788.5 L299,788.7 L300,788.9 L301,789.1 L302,789.2 L303,789.3 L304,789.4 L305,789.5 L306,789.6 L307,789.7 L308,789.8 L309,789.9 L310,789.9 L311,790 L312,790 L313,790 L314,790.1 L315,790.1 L316,790.1 L317,790.1 L318,790.1 L319,790.1 L320,790.1 L321,790.1 L322,790 L323,790 L324,789.9 L325,789.7 L326,789.6 L327,789.3 L328,789 L329,788.7 L330,788.2 L331,787.7 L332,787.1 L333,786.4 L334,785.6 L335,784.8 L336,783.9 L337,783 L338,782.1 L339,781.2 L340,780.4 L341,779.7 L342,779.1 L343,778.7 L344,778.4 L345,778.3 L346,778.4 L347,778.7 L348,779.1 L349,779.7 L350,780.4 L351,781.2 L352,782.1 L353,783 L354,783.9 L355,784.8 L356,785.6 L357,786.4 L358,787.1 L359,787.7 L360,788.2 L361,788.7 L362,789 L363,789.3 L364,789.6 L365,789.8 L366,789.9 L367,790 L368,790.1 L369,790.2 L370,790.2 L371,790.2 L372,790.3 L373,790.3 L374,790.3 L375,790.3 L376,790.3 L377,790.3 L378,790.3 L379,790.3 L380,790.3 L381,790.3 L382,790.3 L383,790.3 L384,790.3 L385,790.3 L386,790.3 L387,790.3 L388,790.3 L389,790.3 L390,790.3 L391,790.3 L392,790.3 L393,790.3 L394,790.3 L395,790.3 L396,790.3 L397,790.3 L398,790.3 L399,790.3 L400,790.3 L401,790.3 L402,790.3 L403,790.3 L404,790.3 L405,790.3 L406,790.3 L407,790.3 L408,790.3 L409,790.3 L410,790.3 L411,790.3 L412,790.3 L413,790.3 L414,790.3 L415,790.3 L416,790.3 L417,790.3 L418,790.3 L419,790.3 L420,790.3 L421,790.3 L422,790.3 L423,790.3 L424,790.3 L425,790.3 L426,790.3 L427,790.3 L428,790.3 L429,790.3 L430,790.3 L431,790.3 L432,790.3 L433,790.3 L434,790.3 L435,790.3 L436,790.3 L437,790.3 L438,790.3 L439,790.3 L440,790.3 L441,790.3 L442,790.3 L443,790.3 L444,790.3 L445,790.3 L446,790.3" fill="none" stroke="#111" stroke-width="1"/>
<path d="M130.2,321.5v14 M134.2,480v14 M138.2,583.9v14 M142.2,634.5v14 M146.2,659.3v14 M150.2,675.3v14 M154.2,678v14 M158.2,680.7v14 M162.2,684.7v14 M166.2,686.3v14 M170.2,678.7v14 M174.2,657.5v14 M178.2,641.3v14 M182.2,628.2v14 M186.2,638.3v14 M190.2,648v14 M194.2,665.3v14 M198.2,685.7v14 M202.2,701.6v14 M206.2,718.2v14 M210.2,731.9v14 M214.2,741.5v14 M218.2,747.6v14 M222.2,751.7v14 M226.2,750.4v14 M230.2,748.2v14 M234.2,745.2v14 M238.2,744.7v14 M242.2,743.4v14 M246.2,743.1v14 M250.2,746.1v14 M254.2,747.8v14 M258.2,749.9v14 M262.2,757.8v14 M266.2,761.2v14 M270.2,763.3v14 M274.2,770.1v14 M278.2,772.8v14 M282.2,772.8v14 M286.2,779.6v14 M290.2,780v14 M294.2,782v14 M298.2,782v14 M302.2,782v14 M306.2,780.3v14 M310.2,784.1v14 M314.2,783.2v14 M318.2,782.7v14 M322.2,783.5v14 M326.2,782.7v14 M330.2,782.1v14 M334.2,778v14 M338.2,774.8v14 M342.2,768.8v14 M346.2,770.5v14 M350.2,774.5v14 M354.2,779.2v14 M358.2,779.9v14 M362.2,781.9v14 M366.2,785.3v14 M370.2,783v14 M374.2,784.3v14 M378.2,785.9v14 M382.2,783.6v14 M386.2,785.2v14 M390.2,782.4v14 M394.2,783.5v14 M398.2,783.2v14 M402.2,783.5v14 M406.2,785v14 M410.2,787v14 M414.2,782.7v14 M418.2,782.4v14 M422.2,783.9v14 M426.2,781.8v14 M430.2,783.9v14 M434.2,784.2v14 M438.2,783v14 M442.2,784.1v14 M446.2,781.1v14" stroke="#0a0a14" stroke-width="1.6"/>
<g fill="rgb(12,12,122)" stroke="#0a0a1e" stroke-width="2.1"><circle cx="130.2" cy="328.5" r="6"/><circle cx="134.2" cy="487" r="6"/><circle cx="138.2" cy="590.9" r="6"/><circle cx="142.2" cy="641.5" r="6"/><circle cx="146.2" cy="666.3" r="6"/><circle cx="150.2" cy="682.3" r="6"/><circle cx="154.2" cy="685" r="6"/><circle cx="158.2" cy="687.7" r="6"/><circle cx="162.2" cy="691.7" r="6"/><circle cx="166.2" cy="693.3" r="6"/><circle cx="170.2" cy="685.7" r="6"/><circle cx="174.2" cy="664.5" r="6"/><circle cx="178.2" cy="648.3" r="6"/><circle cx="182.2" cy="635.2" r="6"/><circle cx="186.2" cy="645.3" r="6"/><circle cx="190.2" cy="655" r="6"/><circle cx="194.2" cy="672.3" r="6"/><circle cx="198.2" cy="692.7" r="6"/><circle cx="202.2" cy="708.6" r="6"/><circle cx="206.2" cy="725.2" r="6"/><circle cx="210.2" cy="738.9" r="6"/><circle cx="214.2" cy="748.5" r="6"/><circle cx="218.2" cy="754.6" r="6"/><circle cx="222.2" cy="758.7" r="6"/><circle cx="226.2" cy="757.4" r="6"/><circle cx="230.2" cy="755.2" r="6"/><circle cx="234.2" cy="752.2" r="6"/><circle cx="238.2" cy="751.7" r="6"/><circle cx="242.2" cy="750.4" r="6"/><circle cx="246.2" cy="750.1" r="6"/><circle cx="250.2" cy="753.1" r="6"/><circle cx="254.2" cy="754.8" r="6"/><circle cx="258.2" cy="756.9" r="6"/><circle cx="262.2" cy="764.8" r="6"/><circle cx="266.2" cy="768.2" r="6"/><circle cx="270.2" cy="770.3" r="6"/><circle cx="274.2" cy="777.1" r="6"/><circle cx="278.2" cy="779.8" r="6"/><circle cx="282.2" cy="779.8" r="6"/><circle cx="286.2" cy="786.6" r="6"/><circle cx="290.2" cy="787" r="6"/><circle cx="294.2" cy="789" r="6"/><circle cx="298.2" cy="789" r="6"/><circle cx="302.2" cy="789" r="6"/><circle cx="306.2" cy="787.3" r="6"/><circle cx="310.2" cy="791.1" r="6"/><circle cx="314.2" cy="790.2" r="6"/><circle cx="318.2" cy="789.7" r="6"/><circle cx="322.2" cy="790.5" r="6"/><circle cx="326.2" cy="789.7" r="6"/><circle cx="330.2" cy="789.1" r="6"/><circle cx="334.2" cy="785" r="6"/><circle cx="338.2" cy="781.8" r="6"/><circle cx="342.2" cy="775.8" r="6"/><circle cx="346.2" cy="777.5" r="6"/><circle cx="350.2" cy="781.5" r="6"/><circle cx="354.2" cy="786.2" r="6"/><circle cx="358.2" cy="786.9" r="6"/><circle cx="362.2" cy="788.9" r="6"/><circle cx="366.2" cy="792.3" r="6"/><circle cx="370.2" cy="790" r="6"/><circle cx="374.2" cy="791.3" r="6"/><circle cx="378.2" cy="792.9" r="6"/><circle cx="382.2" cy="790.6" r="6"/><circle cx="386.2" cy="792.2" r="6"/><circle cx="390.2" cy="789.4" r="6"/><circle cx="394.2" cy="790.5" r="6"/><circle cx="398.2" cy="790.2" r="6"/><circle cx="402.2" cy="790.5" r="6"/><circle cx="406.2" cy="792" r="6"/><circle cx="410.2" cy="794" r="6"/><circle cx="414.2" cy="789.7" r="6"/><circle cx="418.2" cy="789.4" r="6"/><circle cx="422.2" cy="790.9" r="6"/><circle cx="426.2" cy="788.8" r="6"/><circle cx="430.2" cy="790.9" r="6"/><circle cx="434.2" cy="791.2" r="6"/><circle cx="438.2" cy="790" r="6"/><circle cx="442.2" cy="791.1" r="6"/><circle cx="446.2" cy="788.1" r="6"/></g>
<path d="M78.7,868 L78.7,867.1 L79.2,867 L79.7,866.9 L80.2,866.8 L80.7,866.7 L81.2,866.6 L81.7,866.5 L82.2,866.4 L82.7,866.3 L83.2,866.2 L83.7,866 L84.2,865.9 L84.7,865.7 L85.2,865.6 L85.7,865.4 L86.2,865.2 L86.7,865 L87.2,864.8 L87.7,864.5 L88.2,864.3 L88.7,864 L89.2,863.8 L89.7,863.5 L90.2,863.2 L90.7,862.9 L91.2,862.5 L91.7,862.1 L92.2,861.8 L92.7,861.4 L93.2,860.9 L93.7,860.5 L94.2,860 L94.7,859.5 L95.2,859 L95.7,858.4 L96.2,857.8 L96.7,857.2 L97.2,856.6 L97.7,855.9 L98.2,855.2 L98.7,854.5 L99.2,853.7 L99.7,852.9 L100.2,852 L100.7,851.1 L101.2,850.2 L101.7,849.3 L102.2,848.3 L102.7,847.2 L103.2,846.1 L103.7,845 L104.2,843.8 L104.7,842.6 L105.2,841.3 L105.7,840 L106.2,838.6 L106.7,837.2 L107.2,835.7 L107.7,834.2 L108.2,832.6 L108.7,831 L109.2,829.4 L109.7,827.6 L110.2,825.8 L110.7,824 L111.2,822.1 L111.7,820.2 L112.2,818.2 L112.7,816.1 L113.2,814 L113.7,811.9 L114.2,809.7 L114.7,807.4 L115.2,805.1 L115.7,802.7 L116.2,800.3 L116.7,797.9 L117.2,795.3 L117.7,792.8 L118.2,790.2 L118.7,787.5 L119.2,784.8 L119.7,782.1 L120.2,779.3 L120.7,776.5 L121.2,773.7 L121.7,770.8 L122.2,767.9 L122.7,764.9 L123.2,761.9 L123.7,759 L124.2,755.9 L124.7,752.9 L125.2,749.9 L125.7,746.8 L126.2,743.7 L126.7,740.7 L127.2,737.6 L127.7,734.5 L128.2,731.4 L128.7,728.4 L129.2,725.3 L129.7,722.3 L130.2,719.3 L130.7,716.3 L131.2,713.3 L131.7,710.4 L132.2,707.5 L132.7,704.7 L133.2,701.8 L133.7,699.1 L134.2,696.4 L134.7,693.7 L135.2,691.1 L135.7,688.6 L136.2,686.1 L136.7,683.7 L137.2,681.4 L137.7,679.1 L138.2,677 L138.7,674.9 L139.2,672.9 L139.7,671 L140.2,669.2 L140.7,667.5 L141.2,665.9 L141.7,664.4 L142.2,663 L142.7,661.7 L143.2,660.5 L143.7,659.4 L144.2,658.5 L144.7,657.6 L145.2,656.9 L145.7,656.3 L146.2,655.8 L146.7,655.4 L147.2,655.2 L147.7,655 L148.2,655 L148.7,655.1 L149.2,655.4 L149.7,655.8 L150.2,656.3 L150.7,656.9 L151.2,657.7 L151.7,658.6 L152.2,659.6 L152.7,660.8 L153.2,662.1 L153.7,663.5 L154.2,665 L154.7,666.6 L155.2,668.4 L155.7,670.2 L156.2,672.2 L156.7,674.2 L157.2,676.4 L157.7,678.6 L158.2,681 L158.7,683.4 L159.2,685.9 L159.7,688.5 L160.2,691.2 L160.7,693.9 L161.2,696.7 L161.7,699.5 L162.2,702.5 L162.7,705.4 L163.2,708.4 L163.7,711.5 L164.2,714.6 L164.7,717.7 L165.2,720.8 L165.7,724 L166.2,727.2 L166.7,730.4 L167.2,733.6 L167.7,736.9 L168.2,740.1 L168.7,743.3 L169.2,746.6 L169.7,749.8 L170.2,753 L170.7,756.1 L171.2,759.3 L171.7,762.5 L172.2,765.6 L172.7,768.6 L173.2,771.7 L173.7,774.7 L174.2,777.7 L174.7,780.6 L175.2,783.5 L175.7,786.4 L176.2,789.2 L176.7,791.9 L177.2,794.6 L177.7,797.3 L178.2,799.9 L178.7,802.4 L179.2,804.9 L179.7,807.3 L180.2,809.7 L180.7,812 L181.2,814.3 L181.7,816.5 L182.2,818.6 L182.7,820.7 L183.2,822.7 L183.7,824.7 L184.2,826.6 L184.7,828.4 L185.2,830.2 L185.7,832 L186.2,833.6 L186.7,835.2 L187.2,836.8 L187.7,838.3 L188.2,839.7 L188.7,841.1 L189.2,842.5 L189.7,843.8 L190.2,845 L190.7,846.2 L191.2,847.3 L191.7,848.4 L192.2,849.5 L192.7,850.5 L193.2,851.4 L193.7,852.3 L194.2,853.2 L194.7,854.1 L195.2,854.8 L195.7,855.6 L196.2,856.3 L196.7,857 L197.2,857.7 L197.7,858.3 L198.2,858.9 L198.7,859.4 L199.2,860 L199.7,860.5 L200.2,860.9 L200.7,861.4 L201.2,861.8 L201.7,862.2 L202.2,862.6 L202.7,862.9 L203.2,863.3 L203.7,863.6 L204.2,863.9 L204.7,864.2 L205.2,864.4 L205.7,864.7 L206.2,864.9 L206.7,865.1 L207.2,865.3 L207.7,865.5 L208.2,865.7 L208.7,865.9 L209.2,866 L209.7,866.2 L210.2,866.3 L210.7,866.4 L211.2,866.6 L211.7,866.7 L212.2,866.8 L212.7,866.9 L213.2,867 L213.7,867 L214,868Z" fill="#42a6ff" stroke="#111" stroke-width="1"/>
<path d="M171.1,868 L171.1,867.9 L171.6,867.9 L172.1,867.9 L172.6,867.8 L173.1,867.8 L173.6,867.8 L174.1,867.8 L174.6,867.7 L175.1,867.7 L175.6,867.7 L176.1,867.6 L176.6,867.6 L177.1,867.5 L177.6,867.5 L178.1,867.4 L178.6,867.4 L179.1,867.3 L179.6,867.2 L180.1,867.1 L180.6,867 L181.1,866.9 L181.6,866.8 L182.1,866.7 L182.6,866.6 L183.1,866.5 L183.6,866.3 L184.1,866.2 L184.6,866 L185.1,865.8 L185.6,865.6 L186.1,865.4 L186.6,865.2 L187.1,864.9 L187.6,864.7 L188.1,864.4 L188.6,864.1 L189.1,863.8 L189.6,863.5 L190.1,863.2 L190.6,862.9 L191.1,862.5 L191.6,862.1 L192.1,861.7 L192.6,861.3 L193.1,860.9 L193.6,860.4 L194.1,859.9 L194.6,859.5 L195.1,859 L195.6,858.5 L196.1,857.9 L196.6,857.4 L197.1,856.8 L197.6,856.3 L198.1,855.7 L198.6,855.1 L199.1,854.5 L199.6,853.9 L200.1,853.3 L200.6,852.7 L201.1,852.1 L201.6,851.5 L202.1,850.9 L202.6,850.3 L203.1,849.7 L203.6,849.1 L204.1,848.5 L204.6,848 L205.1,847.4 L205.6,846.9 L206.1,846.4 L206.6,845.9 L207.1,845.4 L207.6,845 L208.1,844.5 L208.6,844.1 L209.1,843.8 L209.6,843.4 L210.1,843.1 L210.6,842.9 L211.1,842.6 L211.6,842.4 L212.1,842.3 L212.6,842.2 L213.1,842.1 L213.6,842 L214.1,842 L214.6,842 L215.1,842 L215.6,842.1 L216.1,842.2 L216.6,842.2 L217.1,842.3 L217.6,842.5 L218.1,842.6 L218.6,842.8 L219.1,842.9 L219.6,843.1 L220.1,843.3 L220.6,843.5 L221.1,843.8 L221.6,844 L222.1,844.3 L222.6,844.5 L223.1,844.8 L223.6,845.1 L224.1,845.4 L224.6,845.7 L225.1,846.1 L225.6,846.4 L226.1,846.8 L226.6,847.1 L227.1,847.5 L227.6,847.9 L228.1,848.3 L228.6,848.6 L229.1,849 L229.6,849.4 L230.1,849.8 L230.6,850.2 L231.1,850.7 L231.6,851.1 L232.1,851.5 L232.6,851.9 L233.1,852.3 L233.6,852.7 L234.1,853.1 L234.6,853.6 L235.1,854 L235.6,854.4 L236.1,854.8 L236.6,855.2 L237.1,855.6 L237.6,856 L238.1,856.4 L238.6,856.8 L239.1,857.1 L239.6,857.5 L240.1,857.9 L240.6,858.2 L241.1,858.6 L241.6,858.9 L242.1,859.3 L242.6,859.6 L243.1,860 L243.6,860.3 L244.1,860.6 L244.6,860.9 L245.1,861.2 L245.6,861.5 L246.1,861.8 L246.6,862 L247.1,862.3 L247.6,862.6 L248.1,862.8 L248.6,863 L249.1,863.3 L249.6,863.5 L250.1,863.7 L250.6,863.9 L251.1,864.1 L251.6,864.3 L252.1,864.5 L252.6,864.7 L253.1,864.9 L253.6,865 L254.1,865.2 L254.6,865.3 L255.1,865.5 L255.6,865.6 L256.1,865.8 L256.6,865.9 L257.1,866 L257.6,866.1 L258.1,866.2 L258.6,866.3 L259.1,866.4 L259.6,866.5 L260.1,866.6 L260.6,866.7 L261.1,866.8 L261.6,866.9 L262.1,866.9 L262.6,867 L263.1,867.1 L263.6,867.1 L264.1,867.2 L264.6,867.3 L265.1,867.3 L265.6,867.3 L266.1,867.4 L266.6,867.4 L267.1,867.5 L267.6,867.5 L268.1,867.5 L268.6,867.6 L269.1,867.6 L269.6,867.6 L270.1,867.7 L270.6,867.7 L271.1,867.7 L271.6,867.7 L272.1,867.8 L272.6,867.8 L273.1,867.8 L273.6,867.8 L274.1,867.8 L274.6,867.8 L275.1,867.9 L275.6,867.9 L276.1,867.9 L276.6,867.9 L276.7,868Z" fill="#ff8800" stroke="#111" stroke-width="1"/>
<path d="M336,868 L336,868 L336.5,867.6 L337,867.2 L337.5,866.8 L338,866.3 L338.5,865.9 L339,865.4 L339.5,864.9 L340,864.4 L340.5,863.9 L341,863.4 L341.5,862.9 L342,862.4 L342.5,861.9 L343,861.4 L343.5,860.8 L344,860.3 L344.5,859.8 L345,859.3 L345.5,858.7 L346,858.2 L346.5,857.6 L347,857.1 L347.5,856.5 L348,856 L348.5,856.7 L349,857.3 L349.5,858 L350,858.6 L350.5,859.3 L351,859.9 L351.5,860.5 L352,861.2 L352.5,861.8 L353,862.4 L353.5,863 L354,863.6 L354.5,864.2 L355,864.8 L355.5,865.4 L356,866 L356.5,866.5 L357,867 L357.5,867.6 L358,868 L358,868Z" fill="#42a6ff" stroke="#111" stroke-width="1"/>
<path d="M78.7,868H358" stroke="#111" stroke-width="1.3"/>
<path d="M130,302.4 L131,371.5 L132,419 L133,461.9 L134,500.7 L135,525.6 L136,546.5 L137,566.1 L138,584.5 L139,595.4 L140,604.3 L141,613 L142,621.4 L143,625.7 L144,628.9 L145,632.2 L146,635.4 L147,638 L148,640.6 L149,643 L150,645.5 L151,649.9 L152,654.8 L153,659.5 L154,664.1 L155,668.7 L156,673.3 L157,677.8 L158,682.1 L159,688.3 L160,694.7 L161,700.9 L162,706.8 L163,713.3 L164,719.8 L165,725.9 L166,731.8 L167,738.9 L168,745.9 L169,752.5 L170,758.8 L171,763.2 L172,767 L173,770.7 L174,774.3 L175,779.4 L176,784.6 L177,789.5 L178,794.1 L179,798.3 L180,802.2 L181,805.9 L182,809.3 L183,813.6 L184,817.8 L185,821.7 L186,825.3 L187,827.3 L188,828.8 L189,830.3 L190,831.7 L191,833.3 L192,834.8 L193,836.3 L194,837.7 L195,838.4 L196,838.9 L197,839.4 L198,839.9 L199,839.2 L200,838.2 L201,837.2 L202,836.3 L203,835.4 L204,834.6 L205,833.8 L206,833.1 L207,832.5 L208,831.9 L209,831.4 L210,831 L211,830.7 L212,830.4 L213,830.2 L214,830.1 L215,830 L216,830 L217,830.1 L218,830.1 L219,830.3 L220,830.4 L221,830.6 L222,830.8 L223,831 L224,831.2 L225,831.5 L226,831.8 L227,832.2 L228,832.5 L229,832.9 L230,833.3 L231,833.8 L232,834.2 L233,834.7 L234,835.2 L235,835.7 L236,836.3 L237,836.8 L238,837.4 L239,838 L240,838.6 L241,839.2 L242,839.8 L243,840.4 L244,841 L245,841.7 L246,842.3 L247,843 L248,843.6 L249,844.3 L250,845 L251,845.6 L252,846.3 L253,846.9 L254,847.6 L255,848.2 L256,848.9 L257,849.5 L258,850.1 L259,850.8 L260,851.4 L261,852 L262,852.6 L263,853.2 L264,853.7 L265,854.3 L266,854.9 L267,855.4 L268,855.9 L269,856.4 L270,856.9 L271,857.4 L272,857.9 L273,858.4 L274,858.8 L275,859.3 L276,859.7 L277,860.1 L278,860.5 L279,860.9 L280,861.2 L281,861.6 L282,861.9 L283,862.2 L284,862.6 L285,862.9 L286,863.1 L287,863.4 L288,863.7 L289,863.9 L290,864.2 L291,864.4 L292,864.6 L293,864.8 L294,865 L295,865.2 L296,865.4 L297,865.6 L298,865.7 L299,865.9 L300,866 L301,866.1 L302,866.3 L303,866.4 L304,866.5 L305,866.6 L306,866.7 L307,866.8 L308,866.9 L309,867 L310,867 L311,867.1 L312,867.2 L313,867.2 L314,867.3 L315,867.4 L316,867.4 L317,867.5 L318,867.5 L319,867.5 L320,867.6 L321,867.6 L322,867.6 L323,867.6 L324,867.7 L325,867.6 L326,867.6 L327,867.6 L328,867.5 L329,867.4 L330,867.2 L331,866.9 L332,866.5 L333,866.1 L334,865.4 L335,864.7 L336,863.8 L337,862.7 L338,861.4 L339,860.1 L340,858.6 L341,857 L342,855.5 L343,854 L344,852.7 L345,851.5 L346,850.7 L347,850.2 L348,850 L349,850.2 L350,850.7 L351,851.6 L352,852.7 L353,854 L354,855.5 L355,857.1 L356,858.6 L357,860.1 L358,861.5 L359,862.8 L360,863.9 L361,864.8 L362,865.6 L363,866.2 L364,866.7 L365,867.1 L366,867.3 L367,867.5 L368,867.7 L369,867.8 L370,867.9 L371,867.9 L372,867.9 L373,868 L374,868 L375,868 L376,868 L377,868 L378,868 L379,868 L380,868 L381,868 L382,868 L383,868 L384,868 L385,868 L386,868 L387,868 L388,868 L389,868 L390,868 L391,868 L392,868 L393,868 L394,868 L395,868 L396,868 L397,868 L398,868 L399,868 L400,868 L401,868 L402,868 L403,868 L404,868 L405,868 L406,868 L407,868 L408,868 L409,868 L410,868 L411,868 L412,868 L413,868 L414,868 L415,868 L416,868 L417,868 L418,868 L419,868 L420,868 L421,868 L422,868 L423,868 L424,868 L425,868 L426,868 L427,868 L428,868 L429,868 L430,868 L431,868 L432,868 L433,868 L434,868 L435,868 L436,868 L437,868 L438,868 L439,868 L440,868 L441,868 L442,868 L443,868 L444,868 L445,868 L446,868" fill="none" stroke="#111" stroke-width="1"/>
<path d="M130.2,323v14 M134.2,501.5v14 M138.2,582.9v14 M142.2,616.6v14 M146.2,627.2v14 M150.2,642.5v14 M154.2,661.6v14 M158.2,673.4v14 M162.2,700.7v14 M166.2,726.6v14 M170.2,754.5v14 M174.2,769.1v14 M178.2,787.7v14 M182.2,801.4v14 M186.2,819v14 M190.2,826.5v14 M194.2,829.5v14 M198.2,831.3v14 M202.2,828.9v14 M206.2,823.1v14 M210.2,823.3v14 M214.2,822.3v14 M218.2,823.8v14 M222.2,822.8v14 M226.2,823.5v14 M230.2,825.7v14 M234.2,828.2v14 M238.2,829.5v14 M242.2,832.8v14 M246.2,836.6v14 M250.2,840v14 M254.2,843.4v14 M258.2,842.4v14 M262.2,845v14 M266.2,844.2v14 M270.2,852.5v14 M274.2,851.1v14 M278.2,853.4v14 M282.2,855.7v14 M286.2,854.3v14 M290.2,857.7v14 M294.2,858.1v14 M298.2,856v14 M302.2,859.5v14 M306.2,861.5v14 M310.2,857.5v14 M314.2,861.3v14 M318.2,860.9v14 M322.2,861.4v14 M326.2,861.3v14 M330.2,862.1v14 M334.2,858.2v14 M338.2,855.5v14 M342.2,847.7v14 M346.2,844.6v14 M350.2,842.7v14 M354.2,848.6v14 M358.2,857.3v14 M362.2,859.6v14 M366.2,860.2v14 M370.2,859.2v14 M374.2,859.6v14 M378.2,861.2v14 M382.2,862.4v14 M386.2,861.8v14 M390.2,861.9v14 M394.2,861v14 M398.2,863v14 M402.2,860.6v14 M406.2,860.1v14 M410.2,862.2v14 M414.2,861.2v14 M418.2,860.6v14 M422.2,860.1v14 M426.2,860.5v14 M430.2,861.9v14 M434.2,861.6v14 M438.2,859.3v14 M442.2,861.5v14 M446.2,861.3v14" stroke="#0a0a14" stroke-width="1.6"/>
<g fill="rgb(10,10,96)" stroke="#0a0a1e" stroke-width="2.1"><circle cx="130.2" cy="330" r="6"/><circle cx="134.2" cy="508.5" r="6"/><circle cx="138.2" cy="589.9" r="6"/><circle cx="142.2" cy="623.6" r="6"/><circle cx="146.2" cy="634.2" r="6"/><circle cx="150.2" cy="649.5" r="6"/><circle cx="154.2" cy="668.6" r="6"/><circle cx="158.2" cy="680.4" r="6"/><circle cx="162.2" cy="707.7" r="6"/><circle cx="166.2" cy="733.6" r="6"/><circle cx="170.2" cy="761.5" r="6"/><circle cx="174.2" cy="776.1" r="6"/><circle cx="178.2" cy="794.7" r="6"/><circle cx="182.2" cy="808.4" r="6"/><circle cx="186.2" cy="826" r="6"/><circle cx="190.2" cy="833.5" r="6"/><circle cx="194.2" cy="836.5" r="6"/><circle cx="198.2" cy="838.3" r="6"/><circle cx="202.2" cy="835.9" r="6"/><circle cx="206.2" cy="830.1" r="6"/><circle cx="210.2" cy="830.3" r="6"/><circle cx="214.2" cy="829.3" r="6"/><circle cx="218.2" cy="830.8" r="6"/><circle cx="222.2" cy="829.8" r="6"/><circle cx="226.2" cy="830.5" r="6"/><circle cx="230.2" cy="832.7" r="6"/><circle cx="234.2" cy="835.2" r="6"/><circle cx="238.2" cy="836.5" r="6"/><circle cx="242.2" cy="839.8" r="6"/><circle cx="246.2" cy="843.6" r="6"/><circle cx="250.2" cy="847" r="6"/><circle cx="254.2" cy="850.4" r="6"/><circle cx="258.2" cy="849.4" r="6"/><circle cx="262.2" cy="852" r="6"/><circle cx="266.2" cy="851.2" r="6"/><circle cx="270.2" cy="859.5" r="6"/><circle cx="274.2" cy="858.1" r="6"/><circle cx="278.2" cy="860.4" r="6"/><circle cx="282.2" cy="862.7" r="6"/><circle cx="286.2" cy="861.3" r="6"/><circle cx="290.2" cy="864.7" r="6"/><circle cx="294.2" cy="865.1" r="6"/><circle cx="298.2" cy="863" r="6"/><circle cx="302.2" cy="866.5" r="6"/><circle cx="306.2" cy="868.5" r="6"/><circle cx="310.2" cy="864.5" r="6"/><circle cx="314.2" cy="868.3" r="6"/><circle cx="318.2" cy="867.9" r="6"/><circle cx="322.2" cy="868.4" r="6"/><circle cx="326.2" cy="868.3" r="6"/><circle cx="330.2" cy="869.1" r="6"/><circle cx="334.2" cy="865.2" r="6"/><circle cx="338.2" cy="862.5" r="6"/><circle cx="342.2" cy="854.7" r="6"/><circle cx="346.2" cy="851.6" r="6"/><circle cx="350.2" cy="849.7" r="6"/><circle cx="354.2" cy="855.6" r="6"/><circle cx="358.2" cy="864.3" r="6"/><circle cx="362.2" cy="866.6" r="6"/><circle cx="366.2" cy="867.2" r="6"/><circle cx="370.2" cy="866.2" r="6"/><circle cx="374.2" cy="866.6" r="6"/><circle cx="378.2" cy="868.2" r="6"/><circle cx="382.2" cy="869.4" r="6"/><circle cx="386.2" cy="868.8" r="6"/><circle cx="390.2" cy="868.9" r="6"/><circle cx="394.2" cy="868" r="6"/><circle cx="398.2" cy="870" r="6"/><circle cx="402.2" cy="867.6" r="6"/><circle cx="406.2" cy="867.1" r="6"/><circle cx="410.2" cy="869.2" r="6"/><circle cx="414.2" cy="868.2" r="6"/><circle cx="418.2" cy="867.6" r="6"/><circle cx="422.2" cy="867.1" r="6"/><circle cx="426.2" cy="867.5" r="6"/><circle cx="430.2" cy="868.9" r="6"/><circle cx="434.2" cy="868.6" r="6"/><circle cx="438.2" cy="866.3" r="6"/><circle cx="442.2" cy="868.5" r="6"/><circle cx="446.2" cy="868.3" r="6"/></g>
<path d="M95,0 L130.1,0 L130.2,250 L131.5,320 L132.6,400 L133.4,500 L136.5,573 L138.4,646 L139.5,700 L142.4,760 L146.5,810 L151.9,852 L158,878 L165,898 L171,912 L179,925 L193.6,934.5 L208,940 L230,944.5 L260,947.5 L300,949 L300,949 L95,949Z" fill="#42a6ff" stroke="#0a1a3a" stroke-width="1.2"/>
<path d="M128.6,0 L128.7,300 L130.5,420" fill="none" stroke="#78bdf2" stroke-width="1.6"/>
<path d="M127.4,0 L127.5,300 L129.2,450 L131,560 L134,640 L137,700 L140,760 L144,810 L150,850" fill="none" stroke="#0a1a3a" stroke-width="1"/>
<path d="M96.6,0V949" stroke="#a8d4f4" stroke-width="1.6"/>
<path d="M96.6,0V949" stroke="#0018b0" stroke-width="1.6" stroke-dasharray="9 7"/>
<path d="M143.8,949 L143.8,948.9 L144.3,948.9 L144.8,948.9 L145.3,948.9 L145.8,948.9 L146.3,948.9 L146.8,948.8 L147.3,948.8 L147.8,948.8 L148.3,948.8 L148.8,948.8 L149.3,948.8 L149.8,948.8 L150.3,948.8 L150.8,948.7 L151.3,948.7 L151.8,948.7 L152.3,948.7 L152.8,948.7 L153.3,948.7 L153.8,948.6 L154.3,948.6 L154.8,948.6 L155.3,948.6 L155.8,948.5 L156.3,948.5 L156.8,948.5 L157.3,948.4 L157.8,948.4 L158.3,948.4 L158.8,948.3 L159.3,948.3 L159.8,948.3 L160.3,948.2 L160.8,948.2 L161.3,948.1 L161.8,948.1 L162.3,948 L162.8,948 L163.3,947.9 L163.8,947.9 L164.3,947.8 L164.8,947.8 L165.3,947.7 L165.8,947.6 L166.3,947.6 L166.8,947.5 L167.3,947.4 L167.8,947.3 L168.3,947.2 L168.8,947.2 L169.3,947.1 L169.8,947 L170.3,946.9 L170.8,946.8 L171.3,946.7 L171.8,946.6 L172.3,946.5 L172.8,946.4 L173.3,946.2 L173.8,946.1 L174.3,946 L174.8,945.9 L175.3,945.7 L175.8,945.6 L176.3,945.4 L176.8,945.3 L177.3,945.1 L177.8,945 L178.3,944.8 L178.8,944.7 L179.3,944.5 L179.8,944.3 L180.3,944.2 L180.8,944 L181.3,943.8 L181.8,943.6 L182.3,943.4 L182.8,943.2 L183.3,943 L183.8,942.8 L184.3,942.6 L184.8,942.4 L185.3,942.1 L185.8,941.9 L186.3,941.7 L186.8,941.4 L187.3,941.2 L187.8,940.9 L188.3,940.7 L188.8,940.4 L189.3,940.2 L189.8,939.9 L190.3,939.7 L190.8,939.4 L191.3,939.1 L191.8,938.9 L192.3,938.6 L192.8,938.3 L193.3,938 L193.8,937.7 L194.3,937.5 L194.8,937.2 L195.3,936.9 L195.8,936.6 L196.3,936.3 L196.8,936 L197.3,935.7 L197.8,935.4 L198.3,935.1 L198.8,934.8 L199.3,934.5 L199.8,934.2 L200.3,933.9 L200.8,933.6 L201.3,933.3 L201.8,933 L202.3,932.7 L202.8,932.4 L203.3,932.1 L203.8,931.9 L204.3,931.6 L204.8,931.3 L205.3,931 L205.8,930.7 L206.3,930.5 L206.8,930.2 L207.3,929.9 L207.8,929.7 L208.3,929.4 L208.8,929.2 L209.3,928.9 L209.8,928.7 L210.3,928.5 L210.8,928.3 L211.3,928 L211.8,927.8 L212.3,927.6 L212.8,927.4 L213.3,927.3 L213.8,927.1 L214.3,926.9 L214.8,926.7 L215.3,926.6 L215.8,926.4 L216.3,926.3 L216.8,926.2 L217.3,926.1 L217.8,925.9 L218.3,925.8 L218.8,925.8 L219.3,925.7 L219.8,925.6 L220.3,925.5 L220.8,925.5 L221.3,925.5 L221.8,925.4 L222.3,925.4 L222.8,925.4 L223.3,925.4 L223.8,925.4 L224.3,925.4 L224.8,925.5 L225.3,925.5 L225.8,925.6 L226.3,925.6 L226.8,925.7 L227.3,925.8 L227.8,925.9 L228.3,926 L228.8,926.1 L229.3,926.2 L229.8,926.3 L230.3,926.5 L230.8,926.6 L231.3,926.8 L231.8,926.9 L232.3,927.1 L232.8,927.3 L233.3,927.5 L233.8,927.7 L234.3,927.9 L234.8,928.1 L235.3,928.3 L235.8,928.5 L236.3,928.8 L236.8,929 L237.3,929.2 L237.8,929.5 L238.3,929.7 L238.8,930 L239.3,930.3 L239.8,930.5 L240.3,930.8 L240.8,931.1 L241.3,931.4 L241.8,931.6 L242.3,931.9 L242.8,932.2 L243.3,932.5 L243.8,932.8 L244.3,933.1 L244.8,933.4 L245.3,933.7 L245.8,934 L246.3,934.3 L246.8,934.6 L247.3,934.9 L247.8,935.2 L248.3,935.5 L248.8,935.8 L249.3,936.1 L249.8,936.3 L250.3,936.6 L250.8,936.9 L251.3,937.2 L251.8,937.5 L252.3,937.8 L252.8,938.1 L253.3,938.4 L253.8,938.6 L254.3,938.9 L254.8,939.2 L255.3,939.5 L255.8,939.7 L256.3,940 L256.8,940.2 L257.3,940.5 L257.8,940.8 L258.3,941 L258.8,941.2 L259.3,941.5 L259.8,941.7 L260.3,941.9 L260.8,942.2 L261.3,942.4 L261.8,942.6 L262.3,942.8 L262.8,943 L263.3,943.2 L263.8,943.4 L264.3,943.6 L264.8,943.8 L265.3,944 L265.8,944.2 L266.3,944.4 L266.8,944.5 L267.3,944.7 L267.8,944.9 L268.3,945 L268.8,945.2 L269.3,945.3 L269.8,945.5 L270.3,945.6 L270.8,945.8 L271.3,945.9 L271.8,946 L272.3,946.1 L272.8,946.3 L273.3,946.4 L273.8,946.5 L274.3,946.6 L274.8,946.7 L275.3,946.8 L275.8,946.9 L276.3,947 L276.8,947.1 L277.3,947.2 L277.8,947.3 L278.3,947.3 L278.8,947.4 L279.3,947.5 L279.8,947.6 L280.3,947.6 L280.8,947.7 L281.3,947.8 L281.8,947.8 L282.3,947.9 L282.8,947.9 L283.3,948 L283.8,948 L284.3,948.1 L284.8,948.1 L285.3,948.2 L285.8,948.2 L286.3,948.3 L286.8,948.3 L287.3,948.3 L287.8,948.4 L288.3,948.4 L288.8,948.4 L289.3,948.5 L289.8,948.5 L290.3,948.5 L290.8,948.6 L291.3,948.6 L291.8,948.6 L292.3,948.6 L292.8,948.7 L293.3,948.7 L293.8,948.7 L294.3,948.7 L294.8,948.7 L295.3,948.7 L295.8,948.8 L296.3,948.8 L296.8,948.8 L297.3,948.8 L297.8,948.8 L298.3,948.8 L298.8,948.8 L299.3,948.8 L299.8,948.9 L300.3,948.9 L300.8,948.9 L301.3,948.9 L301.8,948.9 L302.2,949Z" fill="#ff8800" stroke="#111" stroke-width="1"/>
<path d="M329,949 L329,949 L329.5,948.7 L330,948.3 L330.5,948 L331,947.6 L331.5,947.2 L332,946.8 L332.5,946.4 L333,945.9 L333.5,945.5 L334,945.1 L334.5,944.6 L335,944.2 L335.5,943.8 L336,943.3 L336.5,942.9 L337,942.4 L337.5,942 L338,941.5 L338.5,941.1 L339,940.6 L339.5,940.1 L340,939.7 L340.5,939.2 L341,938.7 L341.5,938.3 L342,937.8 L342.5,937.3 L343,936.8 L343.5,936.4 L344,935.9 L344.5,935.4 L345,934.9 L345.5,934.4 L346,933.9 L346.5,933.5 L347,933 L347.5,932.5 L348,932 L348.5,931.5 L349,931 L349.5,931.7 L350,932.4 L350.5,933.1 L351,933.8 L351.5,934.5 L352,935.2 L352.5,935.9 L353,936.6 L353.5,937.3 L354,937.9 L354.5,938.6 L355,939.3 L355.5,939.9 L356,940.6 L356.5,941.3 L357,941.9 L357.5,942.6 L358,943.2 L358.5,943.8 L359,944.5 L359.5,945.1 L360,945.7 L360.5,946.3 L361,946.9 L361.5,947.5 L362,948 L362.5,948.5 L363,949 L363,949Z" fill="#42a6ff" stroke="#111" stroke-width="1"/>
<path d="M143.8,949H363" stroke="#111" stroke-width="1.3"/>
<path d="M95,949.5H446" stroke="#0b2a4a" stroke-width="2"/>
<path d="M130,485.4 L131,524.8 L132,545 L133,564.2 L134,582.5 L135,607.9 L136,633.4 L137,657 L138,678.8 L139,691.5 L140,701.8 L141,711.7 L142,721.2 L143,736.3 L144,751.8 L145,766.1 L146,779.5 L147,791.4 L148,802.4 L149,812.7 L150,822.2 L151,829.9 L152,837 L153,843.6 L154,849.8 L155,854.7 L156,859.1 L157,863.2 L158,867.2 L159,870.6 L160,873.6 L161,876.6 L162,879.4 L163,882.4 L164,885.2 L165,887.9 L166,890.5 L167,894.1 L168,897.8 L169,901.2 L170,904.4 L171,906.5 L172,908.3 L173,910 L174,911.7 L175,912.6 L176,913.4 L177,914.1 L178,914.9 L179,915.6 L180,916.4 L181,917.1 L182,917.9 L183,918.2 L184,918.5 L185,918.7 L186,919 L187,919 L188,919 L189,919 L190,919 L191,919.3 L192,919.6 L193,919.7 L194,919.7 L195,919.5 L196,919.3 L197,919.1 L198,918.8 L199,918.5 L200,918.2 L201,917.8 L202,917.5 L203,917.2 L204,916.8 L205,916.5 L206,916.2 L207,916 L208,915.7 L209,915.5 L210,915.4 L211,915.2 L212,915.1 L213,915 L214,915 L215,915 L216,915 L217,915.1 L218,915.2 L219,915.3 L220,915.5 L221,915.8 L222,916 L223,916.4 L224,916.7 L225,917.1 L226,917.5 L227,918 L228,918.5 L229,919 L230,919.5 L231,920.1 L232,920.7 L233,921.3 L234,922 L235,922.7 L236,923.3 L237,924 L238,924.7 L239,925.5 L240,926.2 L241,926.9 L242,927.6 L243,928.4 L244,929.1 L245,929.8 L246,930.6 L247,931.3 L248,932 L249,932.7 L250,933.4 L251,934.1 L252,934.8 L253,935.5 L254,936.1 L255,936.7 L256,937.4 L257,938 L258,938.5 L259,939.1 L260,939.7 L261,940.2 L262,940.7 L263,941.2 L264,941.6 L265,942.1 L266,942.5 L267,942.9 L268,943.3 L269,943.7 L270,944.1 L271,944.4 L272,944.7 L273,945 L274,945.3 L275,945.6 L276,945.8 L277,946.1 L278,946.3 L279,946.5 L280,946.7 L281,946.9 L282,947.1 L283,947.2 L284,947.4 L285,947.5 L286,947.6 L287,947.8 L288,947.9 L289,948 L290,948.1 L291,948.1 L292,948.2 L293,948.3 L294,948.4 L295,948.4 L296,948.5 L297,948.5 L298,948.6 L299,948.6 L300,948.7 L301,948.7 L302,948.7 L303,948.8 L304,948.8 L305,948.8 L306,948.8 L307,948.8 L308,948.9 L309,948.9 L310,948.9 L311,948.9 L312,948.9 L313,948.9 L314,948.9 L315,948.8 L316,948.8 L317,948.7 L318,948.7 L319,948.6 L320,948.4 L321,948.2 L322,947.9 L323,947.6 L324,947.2 L325,946.7 L326,946.2 L327,945.5 L328,944.8 L329,943.9 L330,943 L331,942.1 L332,941.1 L333,940.1 L334,939.2 L335,938.3 L336,937.5 L337,936.8 L338,936.3 L339,935.9 L340,935.7 L341,935.7 L342,935.7 L343,935.9 L344,936.1 L345,936.3 L346,936.4 L347,936.4 L348,936.2 L349,935.9 L350,935.5 L351,934.9 L352,934.2 L353,933.5 L354,933 L355,932.6 L356,932.4 L357,932.6 L358,933.4 L359,935 L360,937.1 L361,939.5 L362,941.8 L363,943.9 L364,945.6 L365,946.9 L366,947.7 L367,948.3 L368,948.6 L369,948.8 L370,948.9 L371,949 L372,949 L373,949 L374,949 L375,949 L376,949 L377,949 L378,949 L379,949 L380,949 L381,949 L382,949 L383,949 L384,949 L385,949 L386,949 L387,949 L388,949 L389,949 L390,949 L391,949 L392,949 L393,949 L394,949 L395,949 L396,949 L397,949 L398,949 L399,949 L400,949 L401,949 L402,949 L403,949 L404,949 L405,949 L406,949 L407,949 L408,949 L409,949 L410,949 L411,949 L412,949 L413,949 L414,949 L415,949 L416,949 L417,949 L418,949 L419,949 L420,949 L421,949 L422,949 L423,949 L424,949 L425,949 L426,949 L427,949 L428,949 L429,949 L430,949 L431,949 L432,949 L433,949 L434,949 L435,949 L436,949 L437,949 L438,949 L439,949 L440,949 L441,949 L442,949 L443,949 L444,949 L445,949 L446,949" fill="none" stroke="#111" stroke-width="1"/>
<path d="M130.2,500.3v14 M134.2,580.7v14 M138.2,675.2v14 M142.2,717.1v14 M146.2,778.4v14 M150.2,813.6v14 M154.2,843v14 M158.2,861.6v14 M162.2,872.9v14 M166.2,883v14 M170.2,901.1v14 M174.2,905.4v14 M178.2,905.6v14 M182.2,912v14 M186.2,909.5v14 M190.2,913.5v14 M194.2,911.9v14 M198.2,911.9v14 M202.2,912.3v14 M206.2,909.6v14 M210.2,906.3v14 M214.2,905.2v14 M218.2,909.7v14 M222.2,910.3v14 M226.2,909.5v14 M230.2,913.8v14 M234.2,916v14 M238.2,918.9v14 M242.2,917.5v14 M246.2,923v14 M250.2,927.8v14 M254.2,930.5v14 M258.2,933.1v14 M262.2,930.3v14 M266.2,935.5v14 M270.2,937.9v14 M274.2,942.2v14 M278.2,938.3v14 M282.2,939.5v14 M286.2,940.7v14 M290.2,942.4v14 M294.2,940.9v14 M298.2,943.2v14 M302.2,940.7v14 M306.2,942.1v14 M310.2,941.1v14 M314.2,942v14 M318.2,940.6v14 M322.2,938.4v14 M326.2,940.4v14 M330.2,936.4v14 M334.2,931.2v14 M338.2,929.4v14 M342.2,930.3v14 M346.2,928.1v14 M350.2,928v14 M354.2,926.6v14 M358.2,927.5v14 M362.2,934.9v14 M366.2,937.7v14 M370.2,943.5v14 M374.2,942.6v14 M378.2,942.1v14 M382.2,941.6v14 M386.2,942.4v14 M390.2,941.4v14 M394.2,940.4v14 M398.2,940.7v14 M402.2,941v14 M406.2,941v14 M410.2,940.2v14 M414.2,942.8v14 M418.2,940.1v14 M422.2,942.8v14 M426.2,940.6v14 M430.2,942.4v14 M434.2,944.1v14 M438.2,942.5v14 M442.2,941v14 M446.2,942v14 M129.6,323.5v14" stroke="#0a0a14" stroke-width="1.6"/>
<g fill="rgb(8,8,74)" stroke="#0a0a1e" stroke-width="2.1"><circle cx="130.2" cy="507.3" r="6"/><circle cx="134.2" cy="587.7" r="6"/><circle cx="138.2" cy="682.2" r="6"/><circle cx="142.2" cy="724.1" r="6"/><circle cx="146.2" cy="785.4" r="6"/><circle cx="150.2" cy="820.6" r="6"/><circle cx="154.2" cy="850" r="6"/><circle cx="158.2" cy="868.6" r="6"/><circle cx="162.2" cy="879.9" r="6"/><circle cx="166.2" cy="890" r="6"/><circle cx="170.2" cy="908.1" r="6"/><circle cx="174.2" cy="912.4" r="6"/><circle cx="178.2" cy="912.6" r="6"/><circle cx="182.2" cy="919" r="6"/><circle cx="186.2" cy="916.5" r="6"/><circle cx="190.2" cy="920.5" r="6"/><circle cx="194.2" cy="918.9" r="6"/><circle cx="198.2" cy="918.9" r="6"/><circle cx="202.2" cy="919.3" r="6"/><circle cx="206.2" cy="916.6" r="6"/><circle cx="210.2" cy="913.3" r="6"/><circle cx="214.2" cy="912.2" r="6"/><circle cx="218.2" cy="916.7" r="6"/><circle cx="222.2" cy="917.3" r="6"/><circle cx="226.2" cy="916.5" r="6"/><circle cx="230.2" cy="920.8" r="6"/><circle cx="234.2" cy="923" r="6"/><circle cx="238.2" cy="925.9" r="6"/><circle cx="242.2" cy="924.5" r="6"/><circle cx="246.2" cy="930" r="6"/><circle cx="250.2" cy="934.8" r="6"/><circle cx="254.2" cy="937.5" r="6"/><circle cx="258.2" cy="940.1" r="6"/><circle cx="262.2" cy="937.3" r="6"/><circle cx="266.2" cy="942.5" r="6"/><circle cx="270.2" cy="944.9" r="6"/><circle cx="274.2" cy="949.2" r="6"/><circle cx="278.2" cy="945.3" r="6"/><circle cx="282.2" cy="946.5" r="6"/><circle cx="286.2" cy="947.7" r="6"/><circle cx="290.2" cy="949.4" r="6"/><circle cx="294.2" cy="947.9" r="6"/><circle cx="298.2" cy="950.2" r="6"/><circle cx="302.2" cy="947.7" r="6"/><circle cx="306.2" cy="949.1" r="6"/><circle cx="310.2" cy="948.1" r="6"/><circle cx="314.2" cy="949" r="6"/><circle cx="318.2" cy="947.6" r="6"/><circle cx="322.2" cy="945.4" r="6"/><circle cx="326.2" cy="947.4" r="6"/><circle cx="330.2" cy="943.4" r="6"/><circle cx="334.2" cy="938.2" r="6"/><circle cx="338.2" cy="936.4" r="6"/><circle cx="342.2" cy="937.3" r="6"/><circle cx="346.2" cy="935.1" r="6"/><circle cx="350.2" cy="935" r="6"/><circle cx="354.2" cy="933.6" r="6"/><circle cx="358.2" cy="934.5" r="6"/><circle cx="362.2" cy="941.9" r="6"/><circle cx="366.2" cy="944.7" r="6"/><circle cx="370.2" cy="950.5" r="6"/><circle cx="374.2" cy="949.6" r="6"/><circle cx="378.2" cy="949.1" r="6"/><circle cx="382.2" cy="948.6" r="6"/><circle cx="386.2" cy="949.4" r="6"/><circle cx="390.2" cy="948.4" r="6"/><circle cx="394.2" cy="947.4" r="6"/><circle cx="398.2" cy="947.7" r="6"/><circle cx="402.2" cy="948" r="6"/><circle cx="406.2" cy="948" r="6"/><circle cx="410.2" cy="947.2" r="6"/><circle cx="414.2" cy="949.8" r="6"/><circle cx="418.2" cy="947.1" r="6"/><circle cx="422.2" cy="949.8" r="6"/><circle cx="426.2" cy="947.6" r="6"/><circle cx="430.2" cy="949.4" r="6"/><circle cx="434.2" cy="951.1" r="6"/><circle cx="438.2" cy="949.5" r="6"/><circle cx="442.2" cy="948" r="6"/><circle cx="446.2" cy="949" r="6"/><circle cx="129.6" cy="330.5" r="6"/></g>
</g>
<g clip-path="url(#cb)">
<path d="M814.1,192.6 L814.1,192.2 L814.6,192.1 L815.1,192 L815.6,191.9 L816.1,191.7 L816.6,191.5 L817.1,191.3 L817.6,191 L818.1,190.7 L818.6,190.4 L819.1,189.9 L819.6,189.5 L820.1,188.9 L820.6,188.3 L821.1,187.6 L821.6,186.8 L822.1,185.9 L822.6,184.8 L823.1,183.7 L823.6,182.4 L824.1,181 L824.6,179.4 L825.1,177.7 L825.6,175.8 L826.1,173.8 L826.6,171.6 L827.1,169.2 L827.6,166.7 L828.1,164 L828.6,161.2 L829.1,158.2 L829.6,155 L830.1,151.8 L830.6,148.4 L831.1,145 L831.6,141.4 L832.1,137.9 L832.6,134.3 L833.1,130.7 L833.6,127.1 L834.1,123.6 L834.6,120.2 L835.1,117 L835.6,113.8 L836.1,110.9 L836.6,108.2 L837.1,105.8 L837.6,103.6 L838.1,101.8 L838.6,100.2 L839.1,99 L839.6,98.2 L840.1,97.7 L840.6,97.6 L841.1,97.9 L841.6,98.5 L842.1,99.5 L842.6,100.8 L843.1,102.5 L843.6,104.5 L844.1,106.7 L844.6,109.3 L845.1,112.1 L845.6,115.1 L846.1,118.2 L846.6,121.6 L847.1,125 L847.6,128.5 L848.1,132.1 L848.6,135.7 L849.1,139.3 L849.6,142.9 L850.1,146.4 L850.6,149.8 L851.1,153.1 L851.6,156.3 L852.1,159.4 L852.6,162.3 L853.1,165.1 L853.6,167.7 L854.1,170.2 L854.6,172.5 L855.1,174.6 L855.6,176.6 L856.1,178.4 L856.6,180.1 L857.1,181.6 L857.6,182.9 L858.1,184.2 L858.6,185.3 L859.1,186.2 L859.6,187.1 L860.1,187.9 L860.6,188.6 L861.1,189.1 L861.6,189.7 L862.1,190.1 L862.6,190.5 L863.1,190.8 L863.6,191.1 L864.1,191.4 L864.6,191.6 L865.1,191.8 L865.6,191.9 L866.1,192 L866.6,192.1 L866.9,192.6Z" fill="#42a6ff" stroke="#111" stroke-width="1.3"/>
<path d="M841.8,192.6 L841.8,192.6 L842.3,191.9 L842.8,191.2 L843.3,190.3 L843.8,189.5 L844.3,188.7 L844.8,187.8 L845.3,186.9 L845.8,186 L846.3,185.1 L846.8,184.1 L847.3,183.2 L847.8,182.3 L848.3,181.3 L848.8,180.3 L849.3,179.4 L849.8,178.4 L850.3,177.4 L850.8,176.4 L851.3,175.5 L851.8,174.5 L852.3,173.5 L852.8,172.5 L853.3,171.4 L853.8,170.4 L854.3,169.4 L854.8,168.4 L855.3,167.4 L855.8,166.3 L856.3,165.3 L856.8,164.3 L857.3,163.2 L857.8,162.2 L858.3,161.1 L858.8,160.1 L859.3,159 L859.8,158 L860.3,156.9 L860.8,155.8 L861.3,154.8 L861.8,153.7 L862.3,152.6 L862.8,151.6 L863.3,150.5 L863.8,149.4 L864.3,148.3 L864.8,147.2 L865.3,146.2 L865.8,145.1 L866.3,144 L866.8,142.9 L867.3,141.8 L867.8,140.7 L868.3,139.6 L868.8,140.9 L869.3,142.2 L869.8,143.4 L870.3,144.7 L870.8,146 L871.3,147.3 L871.8,148.5 L872.3,149.8 L872.8,151 L873.3,152.3 L873.8,153.5 L874.3,154.8 L874.8,156 L875.3,157.3 L875.8,158.5 L876.3,159.7 L876.8,161 L877.3,162.2 L877.8,163.4 L878.3,164.6 L878.8,165.8 L879.3,167 L879.8,168.2 L880.3,169.4 L880.8,170.6 L881.3,171.8 L881.8,173 L882.3,174.1 L882.8,175.3 L883.3,176.5 L883.8,177.6 L884.3,178.8 L884.8,179.9 L885.3,181 L885.8,182.1 L886.3,183.2 L886.8,184.3 L887.3,185.4 L887.8,186.5 L888.3,187.5 L888.8,188.5 L889.3,189.5 L889.8,190.5 L890.3,191.4 L890.8,192.3 L891,192.6Z" fill="#ff8800" stroke="#111" stroke-width="1.3"/>
<path d="M587,192.6H937" stroke="#111" stroke-width="1.2"/>
<path d="M806.3,341 L806.3,340.6 L806.8,340.5 L807.3,340.4 L807.8,340.3 L808.3,340.1 L808.8,340 L809.3,339.8 L809.8,339.6 L810.3,339.3 L810.8,339 L811.3,338.7 L811.8,338.3 L812.3,337.9 L812.8,337.4 L813.3,336.9 L813.8,336.3 L814.3,335.6 L814.8,334.8 L815.3,334 L815.8,333 L816.3,332 L816.8,330.8 L817.3,329.6 L817.8,328.2 L818.3,326.7 L818.8,325.1 L819.3,323.3 L819.8,321.4 L820.3,319.4 L820.8,317.2 L821.3,314.9 L821.8,312.5 L822.3,309.9 L822.8,307.2 L823.3,304.4 L823.8,301.5 L824.3,298.5 L824.8,295.4 L825.3,292.2 L825.8,288.9 L826.3,285.6 L826.8,282.3 L827.3,279 L827.8,275.6 L828.3,272.3 L828.8,269.1 L829.3,266 L829.8,262.9 L830.3,260 L830.8,257.2 L831.3,254.6 L831.8,252.2 L832.3,250 L832.8,248.1 L833.3,246.4 L833.8,244.9 L834.3,243.8 L834.8,242.9 L835.3,242.3 L835.8,242 L836.3,242.1 L836.8,242.6 L837.3,243.7 L837.8,245.2 L838.3,247.2 L838.8,249.6 L839.3,252.4 L839.8,255.6 L840.3,259 L840.8,262.7 L841.3,266.7 L841.8,270.8 L842.3,275 L842.8,279.2 L843.3,283.5 L843.8,287.8 L844.3,292 L844.8,296.1 L845.3,300 L845.8,303.8 L846.3,307.5 L846.8,310.9 L847.3,314.1 L847.8,317.1 L848.3,319.9 L848.8,322.4 L849.3,324.7 L849.8,326.8 L850.3,328.7 L850.8,330.4 L851.3,331.9 L851.8,333.2 L852.3,334.4 L852.8,335.4 L853.3,336.3 L853.8,337.1 L854.3,337.8 L854.8,338.3 L855.3,338.8 L855.8,339.2 L856.3,339.5 L856.8,339.8 L857.3,340 L857.8,340.2 L858.3,340.4 L858.8,340.5 L859.1,341Z" fill="#42a6ff" stroke="#111" stroke-width="1.3"/>
<path d="M834.5,341 L834.5,341 L835,340.4 L835.5,339.7 L836,339 L836.5,338.3 L837,337.5 L837.5,336.7 L838,335.9 L838.5,335.1 L839,334.3 L839.5,333.5 L840,332.7 L840.5,331.8 L841,331 L841.5,330.2 L842,329.3 L842.5,328.4 L843,327.6 L843.5,326.7 L844,325.8 L844.5,324.9 L845,324.1 L845.5,323.2 L846,322.3 L846.5,321.4 L847,320.5 L847.5,319.6 L848,318.7 L848.5,317.7 L849,316.8 L849.5,315.9 L850,315 L850.5,314.1 L851,313.1 L851.5,312.2 L852,311.3 L852.5,310.3 L853,309.4 L853.5,308.5 L854,307.5 L854.5,306.6 L855,305.6 L855.5,304.7 L856,303.7 L856.5,302.8 L857,301.8 L857.5,300.9 L858,299.9 L858.5,298.9 L859,298 L859.5,297 L860,298.4 L860.5,299.8 L861,301.1 L861.5,302.5 L862,303.9 L862.5,305.2 L863,306.6 L863.5,307.9 L864,309.3 L864.5,310.6 L865,311.9 L865.5,313.3 L866,314.6 L866.5,315.9 L867,317.2 L867.5,318.5 L868,319.8 L868.5,321.1 L869,322.4 L869.5,323.7 L870,324.9 L870.5,326.2 L871,327.4 L871.5,328.7 L872,329.9 L872.5,331.1 L873,332.3 L873.5,333.5 L874,334.7 L874.5,335.8 L875,337 L875.5,338.1 L876,339.1 L876.5,340.1 L877,341 L877,341Z" fill="#ff8800" stroke="#111" stroke-width="1.3"/>
<path d="M806.3,341H877" stroke="#111" stroke-width="1.2"/>
<path d="M796.8,490.8 L796.8,490.3 L797.2,490.2 L797.8,490.1 L798.2,489.9 L798.8,489.7 L799.2,489.5 L799.8,489.2 L800.2,488.9 L800.8,488.5 L801.2,488.1 L801.8,487.5 L802.2,486.9 L802.8,486.2 L803.2,485.4 L803.8,484.4 L804.2,483.3 L804.8,482.1 L805.2,480.8 L805.8,479.2 L806.2,477.5 L806.8,475.6 L807.2,473.5 L807.8,471.2 L808.2,468.7 L808.8,466 L809.2,463.1 L809.8,460 L810.2,456.7 L810.8,453.2 L811.2,449.5 L811.8,445.7 L812.2,441.7 L812.8,437.6 L813.2,433.5 L813.8,429.2 L814.2,425 L814.8,420.8 L815.2,416.6 L815.8,412.5 L816.2,408.6 L816.8,404.9 L817.2,401.4 L817.8,398.1 L818.2,395.2 L818.8,392.6 L819.2,390.4 L819.8,388.6 L820.2,387.2 L820.8,386.3 L821.2,385.9 L821.8,385.8 L822.2,386.2 L822.8,386.8 L823.2,387.8 L823.8,389 L824.2,390.6 L824.8,392.4 L825.2,394.5 L825.8,396.9 L826.2,399.5 L826.8,402.2 L827.2,405.2 L827.8,408.3 L828.2,411.5 L828.8,414.9 L829.2,418.3 L829.8,421.8 L830.2,425.3 L830.8,428.9 L831.2,432.4 L831.8,435.9 L832.2,439.3 L832.8,442.7 L833.2,446 L833.8,449.2 L834.2,452.3 L834.8,455.3 L835.2,458.1 L835.8,460.8 L836.2,463.4 L836.8,465.8 L837.2,468.1 L837.8,470.2 L838.2,472.2 L838.8,474.1 L839.2,475.8 L839.8,477.4 L840.2,478.8 L840.8,480.1 L841.2,481.3 L841.8,482.4 L842.2,483.4 L842.8,484.3 L843.2,485.1 L843.8,485.9 L844.2,486.5 L844.8,487.1 L845.2,487.6 L845.8,488 L846.2,488.4 L846.8,488.7 L847.2,489 L847.8,489.3 L848.2,489.5 L848.8,489.7 L849.2,489.9 L849.8,490 L850.2,490.2 L850.8,490.3 L851.2,490.8Z" fill="#42a6ff" stroke="#111" stroke-width="1.3"/>
<path d="M825.9,490.8 L825.9,490.8 L826.4,489.9 L826.9,488.9 L827.4,487.8 L827.9,486.7 L828.4,485.5 L828.9,484.4 L829.4,483.2 L829.9,482 L830.4,480.8 L830.9,479.5 L831.4,478.3 L831.9,477 L832.4,475.7 L832.9,474.5 L833.4,473.2 L833.9,471.9 L834.4,470.6 L834.9,469.3 L835.4,467.9 L835.9,466.6 L836.4,465.3 L836.9,463.9 L837.4,462.6 L837.9,461.2 L838.4,459.9 L838.9,458.5 L839.4,457.2 L839.9,455.8 L840.4,454.4 L840.9,453 L841.4,451.6 L841.9,450.2 L842.4,448.8 L842.9,447.4 L843.4,446 L843.9,444.6 L844.4,443.2 L844.9,441.8 L845.4,443.2 L845.9,444.6 L846.4,446 L846.9,447.4 L847.4,448.8 L847.9,450.2 L848.4,451.6 L848.9,453 L849.4,454.4 L849.9,455.8 L850.4,457.2 L850.9,458.5 L851.4,459.9 L851.9,461.2 L852.4,462.6 L852.9,463.9 L853.4,465.3 L853.9,466.6 L854.4,467.9 L854.9,469.3 L855.4,470.6 L855.9,471.9 L856.4,473.2 L856.9,474.5 L857.4,475.7 L857.9,477 L858.4,478.3 L858.9,479.5 L859.4,480.8 L859.9,482 L860.4,483.2 L860.9,484.4 L861.4,485.5 L861.9,486.7 L862.4,487.8 L862.9,488.9 L863.4,489.9 L863.9,490.8 L863.9,490.8Z" fill="#ff8800" stroke="#111" stroke-width="1.3"/>
<path d="M796.8,490.8H863.9" stroke="#111" stroke-width="1.2"/>
<path d="M741,639.3 L741,639.3 L741.5,639.1 L742,638.9 L742.5,638.7 L743,638.5 L743.5,638.3 L744,638.1 L744.5,637.9 L745,637.7 L745.5,637.5 L746,637.2 L746.5,637 L747,636.8 L747.5,636.5 L748,636.3 L748.5,636.1 L749,635.8 L749.5,635.6 L750,635.3 L750.5,635.1 L751,634.9 L751.5,634.6 L752,634.4 L752.5,634.1 L753,633.9 L753.5,633.6 L754,633.4 L754.5,633.1 L755,632.9 L755.5,632.6 L756,632.4 L756.5,632.1 L757,631.9 L757.5,631.6 L758,631.3 L758.5,631.1 L759,630.8 L759.5,630.6 L760,630.3 L760.5,631.1 L761,631.9 L761.5,632.7 L762,633.5 L762.5,634.3 L763,635.1 L763.5,635.9 L764,636.6 L764.5,637.3 L765,638 L765.5,638.7 L766,639.3 L766,639.3Z" fill="#42a6ff" stroke="#111" stroke-width="1.3"/>
<path d="M779.7,639.3 L779.7,638.9 L780.2,638.8 L780.7,638.6 L781.2,638.4 L781.7,638.2 L782.2,637.9 L782.7,637.5 L783.2,637 L783.7,636.4 L784.2,635.7 L784.7,634.9 L785.2,633.9 L785.7,632.8 L786.2,631.4 L786.7,629.8 L787.2,628 L787.7,626 L788.2,623.7 L788.7,621.1 L789.2,618.2 L789.7,615.1 L790.2,611.6 L790.7,607.9 L791.2,604 L791.7,599.8 L792.2,595.4 L792.7,590.9 L793.2,586.3 L793.7,581.6 L794.2,577 L794.7,572.5 L795.2,568.1 L795.7,564 L796.2,560.2 L796.7,556.8 L797.2,553.8 L797.7,551.3 L798.2,549.4 L798.7,548.1 L799.2,547.4 L799.7,547.3 L800.2,547.7 L800.7,548.5 L801.2,549.6 L801.7,551.2 L802.2,553.1 L802.7,555.3 L803.2,557.8 L803.7,560.7 L804.2,563.7 L804.7,567 L805.2,570.4 L805.7,573.9 L806.2,577.6 L806.7,581.3 L807.2,585 L807.7,588.7 L808.2,592.4 L808.7,595.9 L809.2,599.4 L809.7,602.8 L810.2,606 L810.7,609.1 L811.2,612.1 L811.7,614.8 L812.2,617.4 L812.7,619.7 L813.2,622 L813.7,624 L814.2,625.8 L814.7,627.5 L815.2,629 L815.7,630.4 L816.2,631.6 L816.7,632.7 L817.2,633.6 L817.7,634.5 L818.2,635.2 L818.7,635.8 L819.2,636.4 L819.7,636.9 L820.2,637.3 L820.7,637.6 L821.2,637.9 L821.7,638.1 L822.2,638.4 L822.7,638.5 L823.2,638.7 L823.7,638.8 L824.2,638.9 L824.2,639.3Z" fill="#42a6ff" stroke="#111" stroke-width="1.3"/>
<path d="M805.4,639.3 L805.4,639.3 L805.9,638.3 L806.4,637.3 L806.9,636.1 L807.4,634.9 L807.9,633.7 L808.4,632.5 L808.9,631.2 L809.4,629.9 L809.9,628.6 L810.4,627.3 L810.9,626 L811.4,624.7 L811.9,623.3 L812.4,622 L812.9,620.6 L813.4,619.2 L813.9,617.9 L814.4,616.5 L814.9,615.1 L815.4,613.7 L815.9,612.2 L816.4,610.8 L816.9,609.4 L817.4,608 L817.9,606.5 L818.4,605.1 L818.9,603.6 L819.4,602.2 L819.9,600.7 L820.4,599.2 L820.9,597.8 L821.4,596.3 L821.9,594.8 L822.4,593.3 L822.9,591.8 L823.4,590.3 L823.9,588.8 L824.4,587.3 L824.9,585.8 L825.4,584.3 L825.9,582.8 L826.4,581.3 L826.9,583.2 L827.4,585 L827.9,586.9 L828.4,588.8 L828.9,590.6 L829.4,592.5 L829.9,594.3 L830.4,596.1 L830.9,597.9 L831.4,599.8 L831.9,601.6 L832.4,603.4 L832.9,605.2 L833.4,606.9 L833.9,608.7 L834.4,610.5 L834.9,612.2 L835.4,614 L835.9,615.7 L836.4,617.4 L836.9,619.2 L837.4,620.9 L837.9,622.5 L838.4,624.2 L838.9,625.9 L839.4,627.5 L839.9,629.1 L840.4,630.7 L840.9,632.3 L841.4,633.8 L841.9,635.3 L842.4,636.7 L842.9,638.1 L843.4,639.3 L843.4,639.3Z" fill="#ff8800" stroke="#111" stroke-width="1.3"/>
<path d="M741,639.3H843.4" stroke="#111" stroke-width="1.2"/>
<path d="M753.8,788.2 L753.8,787.8 L754.2,787.6 L754.8,787.5 L755.2,787.4 L755.8,787.2 L756.2,786.9 L756.8,786.7 L757.2,786.3 L757.8,786 L758.2,785.5 L758.8,785 L759.2,784.4 L759.8,783.7 L760.2,782.9 L760.8,781.9 L761.2,780.9 L761.8,779.7 L762.2,778.3 L762.8,776.8 L763.2,775.2 L763.8,773.3 L764.2,771.3 L764.8,769 L765.2,766.6 L765.8,763.9 L766.2,761.1 L766.8,758 L767.2,754.8 L767.8,751.3 L768.2,747.7 L768.8,744 L769.2,740.1 L769.8,736 L770.2,732 L770.8,727.8 L771.2,723.6 L771.8,719.5 L772.2,715.4 L772.8,711.4 L773.2,707.6 L773.8,703.9 L774.2,700.5 L774.8,697.3 L775.2,694.4 L775.8,691.9 L776.2,689.7 L776.8,688 L777.2,686.6 L777.8,685.7 L778.2,685.3 L778.8,685.2 L779.2,685.6 L779.8,686.3 L780.2,687.4 L780.8,688.7 L781.2,690.5 L781.8,692.5 L782.2,694.8 L782.8,697.3 L783.2,700.1 L783.8,703.1 L784.2,706.3 L784.8,709.6 L785.2,713.1 L785.8,716.6 L786.2,720.2 L786.8,723.9 L787.2,727.6 L787.8,731.2 L788.2,734.9 L788.8,738.4 L789.2,741.9 L789.8,745.3 L790.2,748.6 L790.8,751.7 L791.2,754.8 L791.8,757.6 L792.2,760.4 L792.8,762.9 L793.2,765.3 L793.8,767.6 L794.2,769.7 L794.8,771.6 L795.2,773.4 L795.8,775.1 L796.2,776.6 L796.8,777.9 L797.2,779.2 L797.8,780.3 L798.2,781.3 L798.8,782.2 L799.2,783 L799.8,783.7 L800.2,784.3 L800.8,784.9 L801.2,785.3 L801.8,785.8 L802.2,786.1 L802.8,786.4 L803.2,786.7 L803.8,787 L804.2,787.2 L804.8,787.3 L805.2,787.5 L805.8,787.6 L806.2,787.7 L806.5,788.2Z" fill="#42a6ff" stroke="#111" stroke-width="1.3"/>
<path d="M786.7,788.2 L786.7,788.2 L787.2,787.5 L787.7,786.7 L788.2,785.9 L788.7,785.1 L789.2,784.2 L789.7,783.3 L790.2,782.4 L790.7,781.5 L791.2,780.5 L791.7,779.6 L792.2,778.6 L792.7,777.7 L793.2,776.7 L793.7,775.7 L794.2,774.7 L794.7,773.7 L795.2,772.7 L795.7,771.7 L796.2,770.7 L796.7,769.7 L797.2,768.7 L797.7,767.7 L798.2,766.6 L798.7,765.6 L799.2,764.6 L799.7,763.5 L800.2,762.5 L800.7,761.4 L801.2,760.4 L801.7,759.3 L802.2,758.3 L802.7,757.2 L803.2,756.1 L803.7,755.1 L804.2,754 L804.7,752.9 L805.2,751.8 L805.7,750.7 L806.2,749.7 L806.7,748.6 L807.2,747.5 L807.7,746.4 L808.2,745.3 L808.7,744.2 L809.2,743.1 L809.7,742 L810.2,740.9 L810.7,739.8 L811.2,738.7 L811.7,737.5 L812.2,736.4 L812.7,737.3 L813.2,738.6 L813.7,740 L814.2,741.4 L814.7,742.7 L815.2,744 L815.7,745.4 L816.2,746.7 L816.7,748.1 L817.2,749.4 L817.7,750.7 L818.2,752 L818.7,753.3 L819.2,754.6 L819.7,756 L820.2,757.3 L820.7,758.6 L821.2,759.8 L821.7,761.1 L822.2,762.4 L822.7,763.7 L823.2,765 L823.7,766.2 L824.2,767.5 L824.7,768.7 L825.2,770 L825.7,771.2 L826.2,772.4 L826.7,773.6 L827.2,774.9 L827.7,776.1 L828.2,777.2 L828.7,778.4 L829.2,779.6 L829.7,780.7 L830.2,781.9 L830.7,783 L831.2,784.1 L831.7,785.1 L832.2,786.2 L832.7,787.2 L833.2,788.1 L833.3,788.2Z" fill="#ff8800" stroke="#111" stroke-width="1.3"/>
<path d="M587,788.2H937" stroke="#111" stroke-width="1.2"/>
<path d="M750.7,936.9 L750.7,936.3 L751.2,936.1 L751.7,936 L752.2,935.7 L752.7,935.4 L753.2,935.1 L753.7,934.7 L754.2,934.2 L754.7,933.6 L755.2,932.9 L755.7,932 L756.2,931.1 L756.7,929.9 L757.2,928.6 L757.7,927.1 L758.2,925.4 L758.7,923.4 L759.2,921.2 L759.7,918.8 L760.2,916 L760.7,912.9 L761.2,909.6 L761.7,905.9 L762.2,901.9 L762.7,897.6 L763.2,893.1 L763.7,888.2 L764.2,883 L764.7,877.6 L765.2,872 L765.7,866.2 L766.2,860.4 L766.7,854.4 L767.2,848.4 L767.7,842.5 L768.2,836.7 L768.7,831.1 L769.2,825.7 L769.7,820.7 L770.2,816 L770.7,811.8 L771.2,808.1 L771.7,805 L772.2,802.5 L772.7,800.6 L773.2,799.4 L773.7,798.9 L774.2,799.2 L774.7,800.2 L775.2,802.1 L775.7,804.7 L776.2,808 L776.7,812 L777.2,816.5 L777.7,821.6 L778.2,827.2 L778.7,833 L779.2,839.2 L779.7,845.5 L780.2,851.9 L780.7,858.3 L781.2,864.7 L781.7,871 L782.2,877 L782.7,882.9 L783.2,888.4 L783.7,893.6 L784.2,898.5 L784.7,903.1 L785.2,907.3 L785.7,911.1 L786.2,914.5 L786.7,917.6 L787.2,920.4 L787.7,922.9 L788.2,925 L788.7,926.9 L789.2,928.6 L789.7,930 L790.2,931.2 L790.7,932.2 L791.2,933.1 L791.7,933.8 L792.2,934.4 L792.7,934.9 L793.2,935.3 L793.7,935.6 L794.2,935.9 L794.7,936.1 L795.2,936.3 L795.2,936.9Z" fill="#42a6ff" stroke="#111" stroke-width="1.3"/>
<path d="M784.7,936.9 L784.7,936.9 L785.2,936.1 L785.7,935.1 L786.2,934.1 L786.7,933.1 L787.2,932 L787.7,930.9 L788.2,929.8 L788.7,928.7 L789.2,927.6 L789.7,926.4 L790.2,925.2 L790.7,924.1 L791.2,922.9 L791.7,921.7 L792.2,920.5 L792.7,919.3 L793.2,918.1 L793.7,916.9 L794.2,915.6 L794.7,914.4 L795.2,913.2 L795.7,911.9 L796.2,910.7 L796.7,909.4 L797.2,908.2 L797.7,906.9 L798.2,905.6 L798.7,904.3 L799.2,903.1 L799.7,901.8 L800.2,900.5 L800.7,899.2 L801.2,897.9 L801.7,896.6 L802.2,895.3 L802.7,894 L803.2,892.7 L803.7,891.3 L804.2,890 L804.7,888.7 L805.2,888.4 L805.7,889.8 L806.2,891.1 L806.7,892.4 L807.2,893.7 L807.7,895.1 L808.2,896.4 L808.7,897.7 L809.2,899 L809.7,900.3 L810.2,901.6 L810.7,902.9 L811.2,904.2 L811.7,905.4 L812.2,906.7 L812.7,908 L813.2,909.3 L813.7,910.5 L814.2,911.8 L814.7,913 L815.2,914.3 L815.7,915.5 L816.2,916.8 L816.7,918 L817.2,919.2 L817.7,920.4 L818.2,921.6 L818.7,922.8 L819.2,924 L819.7,925.2 L820.2,926.4 L820.7,927.5 L821.2,928.6 L821.7,929.8 L822.2,930.9 L822.7,932 L823.2,933.1 L823.7,934.1 L824.2,935.1 L824.7,936.1 L825.2,936.9 L825.2,936.9Z" fill="#ff8800" stroke="#111" stroke-width="1.3"/>
<path d="M750.7,936.9H825.2" stroke="#111" stroke-width="1.2"/>
<path d="M594.4,20.3v35 M600.9,175.9v13 M606.5,181.9v16 M613.5,182.5v16 M620.4,181.9v16 M627.4,181.8v16 M634.3,182.1v16 M641.3,178.3v16 M648.2,181.3v16 M655.2,182.4v16 M662.1,180.2v16 M669.1,182.3v16 M676,183.8v16 M683,182.3v16 M689.9,187.7v16 M696.9,176.7v16 M703.8,181.5v16 M710.8,178v16 M717.7,184.6v16 M724.7,189.4v16 M731.6,177.1v16 M738.6,182.4v16 M745.5,183.9v16 M752.5,182v16 M759.4,183.9v16 M766.4,177.2v16 M773.3,184.2v16 M780.3,183.7v16 M787.2,182.8v16 M794.2,181.2v16 M801.1,184v16 M808.1,181.5v16 M815,183v16 M822,181.4v16 M825.8,173.2v16 M833.4,133.4v16 M840.2,62.2v31 M847.5,100.5v19 M853.9,138v16 M860.7,120.5v19 M868.3,116.5v21 M875.1,163.7v16 M882.4,165.6v16 M888,173.2v16 M894.9,173.2v16 M902.5,171.3v16 M909.3,173.2v16 M915.7,180.8v16 M923.3,185.7v16 M931,185.7v16 M936.6,184.6v16 M940.1,181.3v16" stroke="#111" stroke-width="1.6"/>
<g fill="rgb(200,200,246)" stroke="#0a0a24" stroke-width="1.7"><circle cx="594.4" cy="37.8" r="6.3"/><circle cx="600.9" cy="182.4" r="6.3"/><circle cx="606.5" cy="189.9" r="6.3"/><circle cx="613.5" cy="190.5" r="6.3"/><circle cx="620.4" cy="189.9" r="6.3"/><circle cx="627.4" cy="189.8" r="6.3"/><circle cx="634.3" cy="190.1" r="6.3"/><circle cx="641.3" cy="186.3" r="6.3"/><circle cx="648.2" cy="189.3" r="6.3"/><circle cx="655.2" cy="190.4" r="6.3"/><circle cx="662.1" cy="188.2" r="6.3"/><circle cx="669.1" cy="190.3" r="6.3"/><circle cx="676" cy="191.8" r="6.3"/><circle cx="683" cy="190.3" r="6.3"/><circle cx="689.9" cy="195.7" r="6.3"/><circle cx="696.9" cy="184.7" r="6.3"/><circle cx="703.8" cy="189.5" r="6.3"/><circle cx="710.8" cy="186" r="6.3"/><circle cx="717.7" cy="192.6" r="6.3"/><circle cx="724.7" cy="197.4" r="6.3"/><circle cx="731.6" cy="185.1" r="6.3"/><circle cx="738.6" cy="190.4" r="6.3"/><circle cx="745.5" cy="191.9" r="6.3"/><circle cx="752.5" cy="190" r="6.3"/><circle cx="759.4" cy="191.9" r="6.3"/><circle cx="766.4" cy="185.2" r="6.3"/><circle cx="773.3" cy="192.2" r="6.3"/><circle cx="780.3" cy="191.7" r="6.3"/><circle cx="787.2" cy="190.8" r="6.3"/><circle cx="794.2" cy="189.2" r="6.3"/><circle cx="801.1" cy="192" r="6.3"/><circle cx="808.1" cy="189.5" r="6.3"/><circle cx="815" cy="191" r="6.3"/><circle cx="822" cy="189.4" r="6.3"/><circle cx="825.8" cy="181.2" r="6.3"/><circle cx="833.4" cy="141.4" r="6.3"/><circle cx="840.2" cy="77.7" r="6.3"/><circle cx="847.5" cy="110" r="6.3"/><circle cx="853.9" cy="146" r="6.3"/><circle cx="860.7" cy="130" r="6.3"/><circle cx="868.3" cy="127" r="6.3"/><circle cx="875.1" cy="171.7" r="6.3"/><circle cx="882.4" cy="173.6" r="6.3"/><circle cx="888" cy="181.2" r="6.3"/><circle cx="894.9" cy="181.2" r="6.3"/><circle cx="902.5" cy="179.3" r="6.3"/><circle cx="909.3" cy="181.2" r="6.3"/><circle cx="915.7" cy="188.8" r="6.3"/><circle cx="923.3" cy="193.7" r="6.3"/><circle cx="931" cy="193.7" r="6.3"/><circle cx="936.6" cy="192.6" r="6.3"/><circle cx="940.1" cy="189.3" r="6.3"/></g>
<path d="M588.7,265.3v13 M595.5,287.9v15 M600.6,331.5v15 M606.5,329.2v16 M613.5,333v16 M620.4,328.9v16 M627.4,326.3v16 M634.3,328.1v16 M641.3,336.9v16 M648.2,336.3v16 M655.2,329.8v16 M662.1,329.1v16 M669.1,331.4v16 M676,329.2v16 M683,334.1v16 M689.9,331.1v16 M696.9,328.3v16 M703.8,334v16 M710.8,329.9v16 M717.7,331.4v16 M724.7,331v16 M731.6,330.2v16 M738.6,331.7v16 M745.5,329.4v16 M752.5,326.3v16 M759.4,325.1v16 M766.4,327.3v16 M773.3,328.7v16 M780.3,330.7v16 M787.2,331.1v16 M794.2,332.4v16 M801.1,331.4v16 M808.1,329.1v16 M815,329.1v16 M819,330v16 M825.8,283.5v17 M833.2,197.3v31 M839.9,248.2v17 M846.3,300.2v16 M853.6,271v17 M861,282.6v16 M867.4,316.9v16 M875.6,319.8v16 M881.4,328.6v16 M884.5,332.6v16 M891.5,331.7v16 M898.4,334.3v16 M905.4,329.9v16 M912.3,330v16 M919.3,328.9v16 M926.2,328.8v16 M933.2,334.6v16 M940.1,335.7v16" stroke="#111" stroke-width="1.6"/>
<g fill="rgb(112,112,245)" stroke="#0a0a24" stroke-width="1.7"><circle cx="588.7" cy="271.8" r="6.3"/><circle cx="595.5" cy="295.4" r="6.3"/><circle cx="600.6" cy="339" r="6.3"/><circle cx="606.5" cy="337.2" r="6.3"/><circle cx="613.5" cy="341" r="6.3"/><circle cx="620.4" cy="336.9" r="6.3"/><circle cx="627.4" cy="334.3" r="6.3"/><circle cx="634.3" cy="336.1" r="6.3"/><circle cx="641.3" cy="344.9" r="6.3"/><circle cx="648.2" cy="344.3" r="6.3"/><circle cx="655.2" cy="337.8" r="6.3"/><circle cx="662.1" cy="337.1" r="6.3"/><circle cx="669.1" cy="339.4" r="6.3"/><circle cx="676" cy="337.2" r="6.3"/><circle cx="683" cy="342.1" r="6.3"/><circle cx="689.9" cy="339.1" r="6.3"/><circle cx="696.9" cy="336.3" r="6.3"/><circle cx="703.8" cy="342" r="6.3"/><circle cx="710.8" cy="337.9" r="6.3"/><circle cx="717.7" cy="339.4" r="6.3"/><circle cx="724.7" cy="339" r="6.3"/><circle cx="731.6" cy="338.2" r="6.3"/><circle cx="738.6" cy="339.7" r="6.3"/><circle cx="745.5" cy="337.4" r="6.3"/><circle cx="752.5" cy="334.3" r="6.3"/><circle cx="759.4" cy="333.1" r="6.3"/><circle cx="766.4" cy="335.3" r="6.3"/><circle cx="773.3" cy="336.7" r="6.3"/><circle cx="780.3" cy="338.7" r="6.3"/><circle cx="787.2" cy="339.1" r="6.3"/><circle cx="794.2" cy="340.4" r="6.3"/><circle cx="801.1" cy="339.4" r="6.3"/><circle cx="808.1" cy="337.1" r="6.3"/><circle cx="815" cy="337.1" r="6.3"/><circle cx="819" cy="338" r="6.3"/><circle cx="825.8" cy="292" r="6.3"/><circle cx="833.2" cy="212.8" r="6.3"/><circle cx="839.9" cy="256.7" r="6.3"/><circle cx="846.3" cy="308.2" r="6.3"/><circle cx="853.6" cy="279.5" r="6.3"/><circle cx="861" cy="290.6" r="6.3"/><circle cx="867.4" cy="324.9" r="6.3"/><circle cx="875.6" cy="327.8" r="6.3"/><circle cx="881.4" cy="336.6" r="6.3"/><circle cx="884.5" cy="340.6" r="6.3"/><circle cx="891.5" cy="339.7" r="6.3"/><circle cx="898.4" cy="342.3" r="6.3"/><circle cx="905.4" cy="337.9" r="6.3"/><circle cx="912.3" cy="338" r="6.3"/><circle cx="919.3" cy="336.9" r="6.3"/><circle cx="926.2" cy="336.8" r="6.3"/><circle cx="933.2" cy="342.6" r="6.3"/><circle cx="940.1" cy="343.7" r="6.3"/></g>
<path d="M588.7,401.3v13 M595,437.7v15 M600.2,478.5v15 M606.5,480.9v16 M613.5,482.2v16 M620.4,483.9v16 M627.4,483.1v16 M634.3,484v16 M641.3,478v16 M648.2,478.9v16 M655.2,481.7v16 M662.1,484.4v16 M669.1,481.4v16 M676,478.7v16 M683,479.7v16 M689.9,479.1v16 M696.9,478.5v16 M703.8,484.3v16 M710.8,479.6v16 M717.7,480.7v16 M724.7,486.1v16 M731.6,484.3v16 M738.6,482v16 M745.5,479.4v16 M752.5,481.7v16 M759.4,484.9v16 M766.4,482.8v16 M773.3,484.1v16 M780.3,481.4v16 M787.2,482.1v16 M794.2,480.4v16 M801.1,481.8v16 M804.8,471v16 M811.8,444.3v17 M818.5,351.2v31 M826.4,387.6v19 M833.2,432.8v17 M839.9,420.8v17 M847.2,428.5v17 M854.2,438.9v16 M861,463.2v16 M868,474v16 M875.6,471v16 M884.5,485.2v16 M891.5,481.4v16 M898.4,480.8v16 M905.4,478v16 M912.3,480.4v16 M919.3,478v16 M926.2,480.7v16 M933.2,481.9v16 M940.1,481v16" stroke="#111" stroke-width="1.6"/>
<g fill="rgb(42,42,240)" stroke="#0a0a24" stroke-width="1.7"><circle cx="588.7" cy="407.8" r="6.3"/><circle cx="595" cy="445.2" r="6.3"/><circle cx="600.2" cy="486" r="6.3"/><circle cx="606.5" cy="488.9" r="6.3"/><circle cx="613.5" cy="490.2" r="6.3"/><circle cx="620.4" cy="491.9" r="6.3"/><circle cx="627.4" cy="491.1" r="6.3"/><circle cx="634.3" cy="492" r="6.3"/><circle cx="641.3" cy="486" r="6.3"/><circle cx="648.2" cy="486.9" r="6.3"/><circle cx="655.2" cy="489.7" r="6.3"/><circle cx="662.1" cy="492.4" r="6.3"/><circle cx="669.1" cy="489.4" r="6.3"/><circle cx="676" cy="486.7" r="6.3"/><circle cx="683" cy="487.7" r="6.3"/><circle cx="689.9" cy="487.1" r="6.3"/><circle cx="696.9" cy="486.5" r="6.3"/><circle cx="703.8" cy="492.3" r="6.3"/><circle cx="710.8" cy="487.6" r="6.3"/><circle cx="717.7" cy="488.7" r="6.3"/><circle cx="724.7" cy="494.1" r="6.3"/><circle cx="731.6" cy="492.3" r="6.3"/><circle cx="738.6" cy="490" r="6.3"/><circle cx="745.5" cy="487.4" r="6.3"/><circle cx="752.5" cy="489.7" r="6.3"/><circle cx="759.4" cy="492.9" r="6.3"/><circle cx="766.4" cy="490.8" r="6.3"/><circle cx="773.3" cy="492.1" r="6.3"/><circle cx="780.3" cy="489.4" r="6.3"/><circle cx="787.2" cy="490.1" r="6.3"/><circle cx="794.2" cy="488.4" r="6.3"/><circle cx="801.1" cy="489.8" r="6.3"/><circle cx="804.8" cy="479" r="6.3"/><circle cx="811.8" cy="452.8" r="6.3"/><circle cx="818.5" cy="366.7" r="6.3"/><circle cx="826.4" cy="397.1" r="6.3"/><circle cx="833.2" cy="441.3" r="6.3"/><circle cx="839.9" cy="429.3" r="6.3"/><circle cx="847.2" cy="437" r="6.3"/><circle cx="854.2" cy="446.9" r="6.3"/><circle cx="861" cy="471.2" r="6.3"/><circle cx="868" cy="482" r="6.3"/><circle cx="875.6" cy="479" r="6.3"/><circle cx="884.5" cy="493.2" r="6.3"/><circle cx="891.5" cy="489.4" r="6.3"/><circle cx="898.4" cy="488.8" r="6.3"/><circle cx="905.4" cy="486" r="6.3"/><circle cx="912.3" cy="488.4" r="6.3"/><circle cx="919.3" cy="486" r="6.3"/><circle cx="926.2" cy="488.7" r="6.3"/><circle cx="933.2" cy="489.9" r="6.3"/><circle cx="940.1" cy="489" r="6.3"/></g>
<path d="M588.8,563.5v13 M594.6,590.2v15 M600.4,622.7v13 M606.5,630v16 M613.5,627.3v16 M620.4,632.6v16 M627.4,628v16 M634.3,624.7v16 M641.3,628.4v16 M648.2,627.3v16 M655.2,626.6v16 M662.1,628.2v16 M669.1,629.9v16 M676,626.4v16 M683,628.7v16 M689.9,632.8v16 M696.9,631.3v16 M703.8,629.1v16 M710.8,629.6v16 M717.7,629v16 M724.7,629.1v16 M731.6,630.8v16 M738.6,627.7v16 M745.5,618.3v16 M752.5,619.4v16 M759.4,617.7v16 M766.4,625.5v16 M773.3,626.4v16 M780.3,629.3v16 M783.4,625.4v16 M790.7,594.2v17 M798,516.9v31 M804.8,538v17 M811.8,605.5v16 M818.5,591.2v17 M825.8,559.1v21 M833.2,578.7v17 M840.5,608.7v16 M847,625v16 M856.7,630.4v16 M863.7,627.5v16 M870.6,628.2v16 M877.6,630v16 M884.5,632.7v16 M891.5,634.4v16 M898.4,632.4v16 M905.4,630v16 M912.3,629.8v16 M919.3,633.8v16 M926.2,633.3v16 M933.2,628.9v16 M940.1,630.4v16" stroke="#111" stroke-width="1.6"/>
<g fill="rgb(24,24,215)" stroke="#0a0a24" stroke-width="1.7"><circle cx="588.8" cy="570" r="6.3"/><circle cx="594.6" cy="597.7" r="6.3"/><circle cx="600.4" cy="629.2" r="6.3"/><circle cx="606.5" cy="638" r="6.3"/><circle cx="613.5" cy="635.3" r="6.3"/><circle cx="620.4" cy="640.6" r="6.3"/><circle cx="627.4" cy="636" r="6.3"/><circle cx="634.3" cy="632.7" r="6.3"/><circle cx="641.3" cy="636.4" r="6.3"/><circle cx="648.2" cy="635.3" r="6.3"/><circle cx="655.2" cy="634.6" r="6.3"/><circle cx="662.1" cy="636.2" r="6.3"/><circle cx="669.1" cy="637.9" r="6.3"/><circle cx="676" cy="634.4" r="6.3"/><circle cx="683" cy="636.7" r="6.3"/><circle cx="689.9" cy="640.8" r="6.3"/><circle cx="696.9" cy="639.3" r="6.3"/><circle cx="703.8" cy="637.1" r="6.3"/><circle cx="710.8" cy="637.6" r="6.3"/><circle cx="717.7" cy="637" r="6.3"/><circle cx="724.7" cy="637.1" r="6.3"/><circle cx="731.6" cy="638.8" r="6.3"/><circle cx="738.6" cy="635.7" r="6.3"/><circle cx="745.5" cy="626.3" r="6.3"/><circle cx="752.5" cy="627.4" r="6.3"/><circle cx="759.4" cy="625.7" r="6.3"/><circle cx="766.4" cy="633.5" r="6.3"/><circle cx="773.3" cy="634.4" r="6.3"/><circle cx="780.3" cy="637.3" r="6.3"/><circle cx="783.4" cy="633.4" r="6.3"/><circle cx="790.7" cy="602.7" r="6.3"/><circle cx="798" cy="532.4" r="6.3"/><circle cx="804.8" cy="546.5" r="6.3"/><circle cx="811.8" cy="613.5" r="6.3"/><circle cx="818.5" cy="599.7" r="6.3"/><circle cx="825.8" cy="569.6" r="6.3"/><circle cx="833.2" cy="587.2" r="6.3"/><circle cx="840.5" cy="616.7" r="6.3"/><circle cx="847" cy="633" r="6.3"/><circle cx="856.7" cy="638.4" r="6.3"/><circle cx="863.7" cy="635.5" r="6.3"/><circle cx="870.6" cy="636.2" r="6.3"/><circle cx="877.6" cy="638" r="6.3"/><circle cx="884.5" cy="640.7" r="6.3"/><circle cx="891.5" cy="642.4" r="6.3"/><circle cx="898.4" cy="640.4" r="6.3"/><circle cx="905.4" cy="638" r="6.3"/><circle cx="912.3" cy="637.8" r="6.3"/><circle cx="919.3" cy="641.8" r="6.3"/><circle cx="926.2" cy="641.3" r="6.3"/><circle cx="933.2" cy="636.9" r="6.3"/><circle cx="940.1" cy="638.4" r="6.3"/></g>
<path d="M588.8,697v13 M594.6,711.3v15 M600.4,776.5v13 M606.5,780.4v16 M613.5,779.9v16 M620.4,778.5v16 M627.4,776.3v16 M634.3,778v16 M641.3,775.7v16 M648.2,782.3v16 M655.2,781.3v16 M662.1,776.9v16 M669.1,782.9v16 M676,782.2v16 M683,775.2v16 M689.9,783.8v16 M696.9,782.1v16 M703.8,785.1v16 M710.8,777.2v16 M717.7,780.8v16 M724.7,780.9v16 M731.6,780.3v16 M738.6,780.2v16 M745.5,782.4v16 M752.5,776.3v16 M762,765v16 M769.3,739.7v17 M776.6,670.6v29 M783.6,636.6v33 M790.3,740.7v17 M797.6,749.4v16 M805,731.5v17 M812.3,718.5v21 M817.8,757.6v16 M823.3,763.1v16 M829.7,767.7v16 M835.9,780.2v16 M842.8,778.9v16 M849.8,783.5v16 M856.7,778.6v16 M863.7,781.2v16 M870.6,782.7v16 M877.6,779.3v16 M884.5,781.7v16 M891.5,777.1v16 M898.4,782v16 M905.4,780.4v16 M912.3,775.8v16 M919.3,781v16 M926.2,777.6v16 M933.2,782.7v16 M940.1,778.3v16" stroke="#111" stroke-width="1.6"/>
<g fill="rgb(18,18,190)" stroke="#0a0a24" stroke-width="1.7"><circle cx="588.8" cy="703.5" r="6.3"/><circle cx="594.6" cy="718.8" r="6.3"/><circle cx="600.4" cy="783" r="6.3"/><circle cx="606.5" cy="788.4" r="6.3"/><circle cx="613.5" cy="787.9" r="6.3"/><circle cx="620.4" cy="786.5" r="6.3"/><circle cx="627.4" cy="784.3" r="6.3"/><circle cx="634.3" cy="786" r="6.3"/><circle cx="641.3" cy="783.7" r="6.3"/><circle cx="648.2" cy="790.3" r="6.3"/><circle cx="655.2" cy="789.3" r="6.3"/><circle cx="662.1" cy="784.9" r="6.3"/><circle cx="669.1" cy="790.9" r="6.3"/><circle cx="676" cy="790.2" r="6.3"/><circle cx="683" cy="783.2" r="6.3"/><circle cx="689.9" cy="791.8" r="6.3"/><circle cx="696.9" cy="790.1" r="6.3"/><circle cx="703.8" cy="793.1" r="6.3"/><circle cx="710.8" cy="785.2" r="6.3"/><circle cx="717.7" cy="788.8" r="6.3"/><circle cx="724.7" cy="788.9" r="6.3"/><circle cx="731.6" cy="788.3" r="6.3"/><circle cx="738.6" cy="788.2" r="6.3"/><circle cx="745.5" cy="790.4" r="6.3"/><circle cx="752.5" cy="784.3" r="6.3"/><circle cx="762" cy="773" r="6.3"/><circle cx="769.3" cy="748.2" r="6.3"/><circle cx="776.6" cy="685.1" r="6.3"/><circle cx="783.6" cy="653.1" r="6.3"/><circle cx="790.3" cy="749.2" r="6.3"/><circle cx="797.6" cy="757.4" r="6.3"/><circle cx="805" cy="740" r="6.3"/><circle cx="812.3" cy="729" r="6.3"/><circle cx="817.8" cy="765.6" r="6.3"/><circle cx="823.3" cy="771.1" r="6.3"/><circle cx="829.7" cy="775.7" r="6.3"/><circle cx="835.9" cy="788.2" r="6.3"/><circle cx="842.8" cy="786.9" r="6.3"/><circle cx="849.8" cy="791.5" r="6.3"/><circle cx="856.7" cy="786.6" r="6.3"/><circle cx="863.7" cy="789.2" r="6.3"/><circle cx="870.6" cy="790.7" r="6.3"/><circle cx="877.6" cy="787.3" r="6.3"/><circle cx="884.5" cy="789.7" r="6.3"/><circle cx="891.5" cy="785.1" r="6.3"/><circle cx="898.4" cy="790" r="6.3"/><circle cx="905.4" cy="788.4" r="6.3"/><circle cx="912.3" cy="783.8" r="6.3"/><circle cx="919.3" cy="789" r="6.3"/><circle cx="926.2" cy="785.6" r="6.3"/><circle cx="933.2" cy="790.7" r="6.3"/><circle cx="940.1" cy="786.3" r="6.3"/></g>
<path d="M588.8,855.8v13 M594.6,869v15 M601.2,921.2v13 M606.5,926.5v16 M613.5,927.6v16 M620.4,926.1v16 M627.4,927.5v16 M634.3,925.6v16 M641.3,928.4v16 M648.2,927.1v16 M655.2,927.4v16 M662.1,920.1v16 M669.1,929.1v16 M676,927.2v16 M683,922.5v16 M689.9,926.7v16 M696.9,928v16 M703.8,929.7v16 M710.8,924.5v16 M717.7,930.5v16 M724.7,926.9v16 M731.6,932.8v16 M738.6,927.1v16 M745.5,928.6v16 M754.4,922.6v16 M762.7,880.9v17 M768.8,806.8v19 M775.9,787.8v25 M783.5,876.6v17 M789.8,899.8v16 M798.6,888v17 M805,870.8v21 M811.8,899.8v16 M818.9,911.2v16 M822,924.7v16 M828.9,928.1v16 M835.9,927.8v16 M842.8,926.3v16 M849.8,927.3v16 M856.7,926.6v16 M863.7,927.4v16 M870.6,928.8v16 M877.6,929.5v16 M884.5,925.5v16 M891.5,923v16 M898.4,930v16 M905.4,927.5v16 M912.3,929.7v16 M919.3,923.1v16 M926.2,925.7v16 M933.2,926.8v16 M940.1,923.3v16" stroke="#111" stroke-width="1.6"/>
<g fill="rgb(10,10,110)" stroke="#0a0a24" stroke-width="1.7"><circle cx="588.8" cy="862.3" r="6.3"/><circle cx="594.6" cy="876.5" r="6.3"/><circle cx="601.2" cy="927.7" r="6.3"/><circle cx="606.5" cy="934.5" r="6.3"/><circle cx="613.5" cy="935.6" r="6.3"/><circle cx="620.4" cy="934.1" r="6.3"/><circle cx="627.4" cy="935.5" r="6.3"/><circle cx="634.3" cy="933.6" r="6.3"/><circle cx="641.3" cy="936.4" r="6.3"/><circle cx="648.2" cy="935.1" r="6.3"/><circle cx="655.2" cy="935.4" r="6.3"/><circle cx="662.1" cy="928.1" r="6.3"/><circle cx="669.1" cy="937.1" r="6.3"/><circle cx="676" cy="935.2" r="6.3"/><circle cx="683" cy="930.5" r="6.3"/><circle cx="689.9" cy="934.7" r="6.3"/><circle cx="696.9" cy="936" r="6.3"/><circle cx="703.8" cy="937.7" r="6.3"/><circle cx="710.8" cy="932.5" r="6.3"/><circle cx="717.7" cy="938.5" r="6.3"/><circle cx="724.7" cy="934.9" r="6.3"/><circle cx="731.6" cy="940.8" r="6.3"/><circle cx="738.6" cy="935.1" r="6.3"/><circle cx="745.5" cy="936.6" r="6.3"/><circle cx="754.4" cy="930.6" r="6.3"/><circle cx="762.7" cy="889.4" r="6.3"/><circle cx="768.8" cy="816.3" r="6.3"/><circle cx="775.9" cy="800.3" r="6.3"/><circle cx="783.5" cy="885.1" r="6.3"/><circle cx="789.8" cy="907.8" r="6.3"/><circle cx="798.6" cy="896.5" r="6.3"/><circle cx="805" cy="881.3" r="6.3"/><circle cx="811.8" cy="907.8" r="6.3"/><circle cx="818.9" cy="919.2" r="6.3"/><circle cx="822" cy="932.7" r="6.3"/><circle cx="828.9" cy="936.1" r="6.3"/><circle cx="835.9" cy="935.8" r="6.3"/><circle cx="842.8" cy="934.3" r="6.3"/><circle cx="849.8" cy="935.3" r="6.3"/><circle cx="856.7" cy="934.6" r="6.3"/><circle cx="863.7" cy="935.4" r="6.3"/><circle cx="870.6" cy="936.8" r="6.3"/><circle cx="877.6" cy="937.5" r="6.3"/><circle cx="884.5" cy="933.5" r="6.3"/><circle cx="891.5" cy="931" r="6.3"/><circle cx="898.4" cy="938" r="6.3"/><circle cx="905.4" cy="935.5" r="6.3"/><circle cx="912.3" cy="937.7" r="6.3"/><circle cx="919.3" cy="931.1" r="6.3"/><circle cx="926.2" cy="933.7" r="6.3"/><circle cx="933.2" cy="934.8" r="6.3"/><circle cx="940.1" cy="931.3" r="6.3"/></g>
</g>
<path d="M95,9H446V983 M95,9V993 M86,974H446" stroke="#111" stroke-width="2" fill="none"/>
<path d="M76.5,858H95" stroke="#111" stroke-width="2" fill="none"/>
<path d="M76.5,624H95" stroke="#111" stroke-width="2" fill="none"/>
<path d="M76.5,391.5H95" stroke="#111" stroke-width="2" fill="none"/>
<path d="M76.5,160H95" stroke="#111" stroke-width="2" fill="none"/>
<path d="M85.5,742H95" stroke="#111" stroke-width="2" fill="none"/>
<path d="M85.5,508H95" stroke="#111" stroke-width="2" fill="none"/>
<path d="M85.5,276H95" stroke="#111" stroke-width="2" fill="none"/>
<path d="M85.5,44.3H95" stroke="#111" stroke-width="2" fill="none"/>
<path d="M195.2,974V993" stroke="#111" stroke-width="2" fill="none"/>
<path d="M295.4,974V993" stroke="#111" stroke-width="2" fill="none"/>
<path d="M395.6,974V993" stroke="#111" stroke-width="2" fill="none"/>
<path d="M145.1,974V983" stroke="#111" stroke-width="2" fill="none"/>
<path d="M245.3,974V983" stroke="#111" stroke-width="2" fill="none"/>
<path d="M345.5,974V983" stroke="#111" stroke-width="2" fill="none"/>
<path d="M568,5H937V981 M587,5V991 M587,973H937" stroke="#111" stroke-width="2" fill="none"/>
<path d="M568,5H587" stroke="#111" stroke-width="2" fill="none"/>
<path d="M577.5,83H587" stroke="#111" stroke-width="2" fill="none"/>
<path d="M568,161.1H587" stroke="#111" stroke-width="2" fill="none"/>
<path d="M577.5,239.1H587" stroke="#111" stroke-width="2" fill="none"/>
<path d="M568,317.2H587" stroke="#111" stroke-width="2" fill="none"/>
<path d="M577.5,395.2H587" stroke="#111" stroke-width="2" fill="none"/>
<path d="M568,473.3H587" stroke="#111" stroke-width="2" fill="none"/>
<path d="M577.5,551.3H587" stroke="#111" stroke-width="2" fill="none"/>
<path d="M568,629.4H587" stroke="#111" stroke-width="2" fill="none"/>
<path d="M577.5,707.4H587" stroke="#111" stroke-width="2" fill="none"/>
<path d="M568,785.5H587" stroke="#111" stroke-width="2" fill="none"/>
<path d="M577.5,863.5H587" stroke="#111" stroke-width="2" fill="none"/>
<path d="M568,941.6H587" stroke="#111" stroke-width="2" fill="none"/>
<path d="M687.2,973V990" stroke="#111" stroke-width="2" fill="none"/>
<path d="M787.8,973V990" stroke="#111" stroke-width="2" fill="none"/>
<path d="M888.4,973V990" stroke="#111" stroke-width="2" fill="none"/>
<path d="M636.9,973V981" stroke="#111" stroke-width="2" fill="none"/>
<path d="M737.5,973V981" stroke="#111" stroke-width="2" fill="none"/>
<path d="M838.1,973V981" stroke="#111" stroke-width="2" fill="none"/>
<path d="M210.9,963H233.4 M210.9,957.2v11.5 M233.4,957.2v11.5" stroke="#0a0aff" stroke-width="3.5" fill="none"/>
<path d="M337.2,963H356.3 M337.2,957.2v11.5 M356.3,957.2v11.5" stroke="#0a0aff" stroke-width="3.5" fill="none"/>
<path d="M828,957.7H845.2 M828,952v11.5 M845.2,952v11.5" stroke="#0a0aff" stroke-width="3.5" fill="none"/>
<path d="M194.1,1000.9 h3.4 v23.9 h-3.4 v-19.3 q-2.6,2.6 -6.6,4.4 v-2.9 q4.4,-2.3 6.6,-6.1 Z" fill="#000"/><path d="M686.4,1000.9 h3.4 v23.9 h-3.4 v-19.3 q-2.6,2.6 -6.6,4.4 v-2.9 q4.4,-2.3 6.6,-6.1 Z" fill="#000"/><path d="M212.3,196 h3 v23.4 h-3 v-18.6 q-2.5,2.4 -6.3,4.1 v-2.8 q4.2,-2.2 6.3,-6.1 Z" fill="#000"/><path d="M686,302.3 h3 v23.4 h-3 v-18.6 q-2.5,2.4 -6.3,4.1 v-2.8 q4.2,-2.2 6.3,-6.1 Z" fill="#000"/><path d="M390.8,907.2 h3 v23.4 h-3 v-18.6 q-2.5,2.4 -6.3,4.1 v-2.8 q4.2,-2.2 6.3,-6.1 Z" fill="#000"/><g font-family="Liberation Sans" fill="#000" stroke="#000" stroke-width="0.35" style="will-change:transform"><text transform="translate(-0.1,33.8) scale(0.9,1)" font-size="45.5" font-weight="bold">a</text><text transform="translate(489.5,32.9) scale(1.08,1)" font-size="44" font-weight="bold">b</text><text x="150" y="71.8" font-size="38">[<tspan font-style="italic">H</tspan> 0 0.5]</text><text x="629.4" y="71.8" font-size="38">[<tspan font-style="italic">H H</tspan> 0.5]</text><text x="174.8" y="139.5" font-size="33"><tspan font-style="italic">H</tspan>=0.0</text><text x="176" y="219.4" font-size="33">0.</text><text x="175.5" y="299.1" font-size="33">0.2</text><text x="175.5" y="378.3" font-size="33">0.3</text><text x="175.5" y="458" font-size="33">0.4</text><text x="175.5" y="537.8" font-size="33">0.5</text><text x="382" y="613.2" font-size="33">0.6</text><text x="382" y="692.4" font-size="33">0.7</text><text x="382" y="771.8" font-size="33">0.8</text><text x="382" y="851.2" font-size="33">0.9</text><text x="400" y="930.6" font-size="33">.0</text><text x="639.7" y="179.3" font-size="33"><tspan font-style="italic">H</tspan>=0.0</text><text x="649.1" y="325.7" font-size="33">0.</text><text x="649" y="476.7" font-size="33">0.2</text><text x="649" y="617" font-size="33">0.3</text><text x="649" y="767.5" font-size="33">0.4</text><text x="649" y="920.4" font-size="33">0.5</text><text x="102.5" y="1024.8" font-size="35" text-anchor="middle">0</text><text x="295.7" y="1024.8" font-size="35" text-anchor="middle">2</text><text x="395.9" y="1024.8" font-size="35" text-anchor="middle">3</text><text x="594.1" y="1024.8" font-size="35" text-anchor="middle">0</text><text x="788.1" y="1024.8" font-size="35" text-anchor="middle">2</text><text x="888.7" y="1024.8" font-size="35" text-anchor="middle">3</text><text x="141.8" y="1078.4" font-size="41">Energy (meV)</text><text x="638.9" y="1083.2" font-size="41">Energy (meV)</text><text transform="translate(43.6,803.5) rotate(-90)" font-size="41">Intensity with offsets (arb. units)</text><text transform="translate(538.6,803.5) rotate(-90)" font-size="41">Intensity with offsets (arb. units)</text></g></svg>
</body></html>
